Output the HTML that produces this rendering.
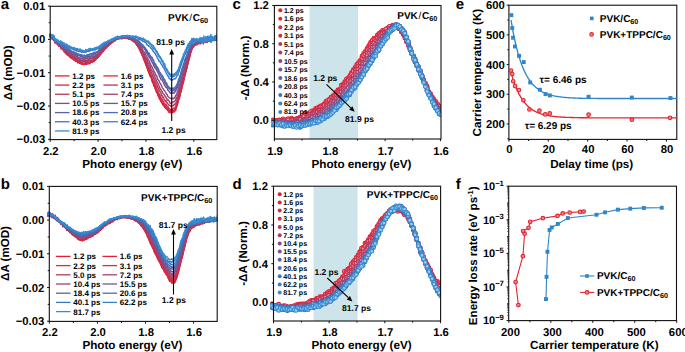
<!DOCTYPE html>
<html><head><meta charset="utf-8"><style>
html,body{margin:0;padding:0;background:#fff;}
svg{display:block;font-family:"Liberation Sans", sans-serif;text-rendering:geometricPrecision;}
</style></head><body>
<svg width="685" height="352" viewBox="0 0 685 352">
<rect width="685" height="352" fill="#fff"/>
<clipPath id="cla"><rect x="49.2" y="6.3" width="167.60000000000002" height="133.29999999999998"/></clipPath>
<g clip-path="url(#cla)" fill="none" stroke-width="1.45" stroke-linejoin="round">
<polyline points="49.2,36.7 49.8,36.0 50.5,36.1 51.1,38.0 51.7,36.7 52.4,37.6 53.0,38.2 53.6,38.7 54.3,40.4 54.9,41.8 55.5,41.5 56.1,42.4 56.8,42.7 57.4,44.8 58.0,43.9 58.7,44.2 59.3,46.0 59.9,46.4 60.6,47.0 61.2,49.0 61.8,48.3 62.5,48.4 63.1,49.6 63.7,49.6 64.4,51.2 65.0,51.8 65.6,53.0 66.2,52.9 66.9,53.5 67.5,55.3 68.1,55.2 68.8,54.8 69.4,56.5 70.0,57.0 70.7,56.6 71.3,58.0 71.9,58.1 72.6,58.2 73.2,59.3 73.8,59.6 74.5,59.9 75.1,60.4 75.7,61.4 76.4,61.2 77.0,61.0 77.6,62.7 78.2,61.9 78.9,62.5 79.5,63.2 80.1,62.2 80.8,63.1 81.4,64.3 82.0,63.9 82.7,63.9 83.3,64.4 83.9,64.0 84.6,64.4 85.2,64.0 85.8,63.5 86.5,64.4 87.1,63.8 87.7,63.9 88.4,63.4 89.0,63.8 89.6,63.3 90.2,62.9 90.9,62.2 91.5,61.7 92.1,62.5 92.8,61.9 93.4,60.8 94.0,61.6 94.7,60.5 95.3,59.8 95.9,58.7 96.6,58.4 97.2,58.2 97.8,57.5 98.5,56.8 99.1,55.2 99.7,55.3 100.3,54.5 101.0,53.4 101.6,52.8 102.2,52.1 102.9,51.7 103.5,50.5 104.1,50.0 104.8,48.5 105.4,48.1 106.0,47.7 106.7,46.7 107.3,46.5 107.9,45.2 108.6,45.1 109.2,44.1 109.8,44.4 110.5,43.1 111.1,43.5 111.7,43.2 112.3,41.9 113.0,41.8 113.6,40.9 114.2,39.5 114.9,40.6 115.5,40.1 116.1,39.4 116.8,38.9 117.4,39.0 118.0,38.7 118.7,38.1 119.3,38.1 119.9,38.7 120.6,38.1 121.2,37.9 121.8,38.3 122.4,37.6 123.1,38.0 123.7,37.1 124.3,37.4 125.0,37.4 125.6,37.7 126.2,37.5 126.9,38.5 127.5,38.3 128.1,37.8 128.8,39.2 129.4,38.1 130.0,39.6 130.7,38.7 131.3,39.8 131.9,39.5 132.6,40.2 133.2,41.5 133.8,40.7 134.4,41.1 135.1,42.5 135.7,43.3 136.3,44.1 137.0,45.3 137.6,45.3 138.2,47.1 138.9,47.9 139.5,49.4 140.1,50.7 140.8,52.4 141.4,52.7 142.0,54.9 142.7,56.0 143.3,58.0 143.9,59.9 144.6,61.3 145.2,63.0 145.8,64.4 146.4,66.2 147.1,67.9 147.7,70.0 148.3,71.4 149.0,71.9 149.6,74.6 150.2,76.4 150.9,77.4 151.5,78.5 152.1,81.5 152.8,82.5 153.4,84.3 154.0,86.4 154.7,86.8 155.3,88.8 155.9,90.3 156.5,92.2 157.2,93.1 157.8,95.0 158.4,96.2 159.1,98.0 159.7,99.4 160.3,99.5 161.0,101.6 161.6,102.3 162.2,103.6 162.9,104.8 163.5,105.7 164.1,106.1 164.8,107.4 165.4,108.1 166.0,108.8 166.7,108.9 167.3,109.8 167.9,110.5 168.5,111.6 169.2,112.6 169.8,112.0 170.4,112.4 171.1,113.1 171.7,112.7 172.3,112.4 173.0,112.1 173.6,111.8 174.2,112.0 174.9,110.5 175.5,110.8 176.1,108.2 176.8,106.5 177.4,104.2 178.0,101.5 178.6,99.5 179.3,98.6 179.9,96.5 180.5,92.8 181.2,91.0 181.8,87.9 182.4,84.8 183.1,83.5 183.7,81.2 184.3,77.5 185.0,75.1 185.6,72.7 186.2,70.0 186.9,67.8 187.5,65.4 188.1,62.2 188.8,60.1 189.4,58.2 190.0,54.9 190.6,52.9 191.3,50.6 191.9,49.4 192.5,47.9 193.2,47.2 193.8,46.5 194.4,45.4 195.1,45.4 195.7,44.5 196.3,44.2 197.0,43.2 197.6,44.5 198.2,43.3 198.9,43.5 199.5,43.3 200.1,43.7 200.8,43.0 201.4,42.2 202.0,42.3 202.6,42.0 203.3,42.0 203.9,41.2 204.5,41.6 205.2,42.4 205.8,41.6 206.4,42.0 207.1,42.5 207.7,41.1 208.3,40.1 209.0,40.5 209.6,41.0 210.2,40.7 210.9,39.6 211.5,39.9 212.1,39.9 212.7,39.8 213.4,39.6 214.0,39.2 214.6,39.2 215.3,39.3 215.9,39.8 216.5,39.1 217.2,39.6 217.8,38.7" stroke="#e41e2e"/>
<polyline points="49.2,35.1 49.8,35.4 50.5,35.8 51.1,36.8 51.7,36.3 52.4,37.6 53.0,39.7 53.6,40.0 54.3,40.4 54.9,42.0 55.5,43.1 56.1,42.6 56.8,42.6 57.4,43.6 58.0,43.3 58.7,45.8 59.3,45.7 59.9,45.4 60.6,46.5 61.2,47.6 61.8,46.2 62.5,49.0 63.1,50.0 63.7,50.4 64.4,49.2 65.0,51.6 65.6,53.4 66.2,54.0 66.9,52.7 67.5,54.2 68.1,55.4 68.8,54.8 69.4,56.3 70.0,56.8 70.7,57.1 71.3,58.4 71.9,58.6 72.6,58.6 73.2,58.8 73.8,59.4 74.5,60.6 75.1,60.4 75.7,60.2 76.4,60.7 77.0,61.4 77.6,62.1 78.2,61.7 78.9,62.6 79.5,63.2 80.1,63.3 80.8,62.5 81.4,63.4 82.0,63.2 82.7,64.1 83.3,63.6 83.9,64.4 84.6,64.2 85.2,62.9 85.8,63.6 86.5,64.0 87.1,63.7 87.7,63.3 88.4,62.7 89.0,63.2 89.6,63.6 90.2,62.7 90.9,62.3 91.5,61.9 92.1,61.0 92.8,61.1 93.4,60.5 94.0,61.0 94.7,59.6 95.3,58.6 95.9,58.7 96.6,58.3 97.2,57.8 97.8,56.3 98.5,56.9 99.1,55.8 99.7,54.7 100.3,53.8 101.0,53.6 101.6,52.5 102.2,52.0 102.9,51.0 103.5,50.4 104.1,50.1 104.8,49.0 105.4,47.9 106.0,48.1 106.7,47.1 107.3,46.0 107.9,46.1 108.6,44.9 109.2,44.8 109.8,43.2 110.5,42.1 111.1,41.7 111.7,42.3 112.3,41.4 113.0,41.3 113.6,40.9 114.2,39.8 114.9,40.7 115.5,39.3 116.1,39.5 116.8,38.5 117.4,38.8 118.0,38.9 118.7,38.3 119.3,37.9 119.9,38.1 120.6,37.8 121.2,38.1 121.8,38.8 122.4,37.2 123.1,37.2 123.7,37.4 124.3,37.4 125.0,36.9 125.6,37.6 126.2,37.8 126.9,37.6 127.5,37.2 128.1,38.6 128.8,37.6 129.4,38.7 130.0,39.2 130.7,38.4 131.3,39.4 131.9,40.4 132.6,40.4 133.2,40.2 133.8,40.6 134.4,41.9 135.1,42.2 135.7,42.7 136.3,44.2 137.0,44.6 137.6,45.7 138.2,46.9 138.9,47.9 139.5,48.8 140.1,50.1 140.8,51.8 141.4,53.2 142.0,54.0 142.7,56.0 143.3,57.2 143.9,58.6 144.6,60.4 145.2,61.2 145.8,64.3 146.4,65.2 147.1,67.3 147.7,67.9 148.3,69.6 149.0,72.9 149.6,74.1 150.2,74.9 150.9,76.5 151.5,78.1 152.1,80.1 152.8,81.4 153.4,82.9 154.0,84.8 154.7,85.9 155.3,89.0 155.9,89.2 156.5,91.5 157.2,92.1 157.8,94.0 158.4,95.7 159.1,96.4 159.7,98.4 160.3,99.6 161.0,101.2 161.6,101.6 162.2,102.5 162.9,103.2 163.5,104.7 164.1,105.0 164.8,106.4 165.4,107.2 166.0,107.7 166.7,108.2 167.3,109.5 167.9,110.0 168.5,110.6 169.2,111.1 169.8,112.1 170.4,111.6 171.1,112.4 171.7,112.0 172.3,112.4 173.0,111.6 173.6,111.3 174.2,111.3 174.9,109.6 175.5,109.3 176.1,107.1 176.8,105.6 177.4,104.3 178.0,101.9 178.6,99.3 179.3,97.4 179.9,95.1 180.5,92.7 181.2,90.8 181.8,87.4 182.4,85.7 183.1,82.0 183.7,80.0 184.3,77.5 185.0,74.7 185.6,72.0 186.2,70.2 186.9,67.8 187.5,64.9 188.1,62.7 188.8,59.8 189.4,56.4 190.0,55.4 190.6,52.3 191.3,51.2 191.9,48.6 192.5,47.6 193.2,46.6 193.8,45.6 194.4,44.5 195.1,44.8 195.7,44.4 196.3,44.8 197.0,43.7 197.6,43.9 198.2,43.2 198.9,43.4 199.5,42.4 200.1,43.8 200.8,42.9 201.4,42.0 202.0,42.4 202.6,42.4 203.3,42.0 203.9,42.4 204.5,41.5 205.2,40.2 205.8,40.6 206.4,41.6 207.1,41.3 207.7,41.0 208.3,40.2 209.0,40.9 209.6,40.7 210.2,39.8 210.9,39.8 211.5,40.1 212.1,40.3 212.7,40.4 213.4,39.9 214.0,40.6 214.6,39.1 215.3,39.6 215.9,39.2 216.5,38.4 217.2,38.7 217.8,39.7" stroke="#e2243a"/>
<polyline points="49.2,35.8 49.8,36.6 50.5,36.4 51.1,35.6 51.7,35.9 52.4,38.3 53.0,37.6 53.6,38.0 54.3,40.5 54.9,40.7 55.5,40.8 56.1,42.2 56.8,42.5 57.4,43.3 58.0,42.4 58.7,46.3 59.3,44.0 59.9,45.7 60.6,46.8 61.2,47.6 61.8,48.2 62.5,48.4 63.1,49.8 63.7,49.4 64.4,52.0 65.0,50.0 65.6,51.3 66.2,53.2 66.9,53.9 67.5,53.9 68.1,55.5 68.8,55.3 69.4,56.0 70.0,56.5 70.7,56.9 71.3,56.1 71.9,57.8 72.6,58.3 73.2,58.8 73.8,59.0 74.5,59.1 75.1,59.7 75.7,59.3 76.4,60.5 77.0,60.3 77.6,61.2 78.2,61.4 78.9,62.6 79.5,62.3 80.1,62.5 80.8,62.9 81.4,64.1 82.0,62.9 82.7,63.7 83.3,63.8 83.9,63.8 84.6,63.8 85.2,63.4 85.8,64.1 86.5,63.8 87.1,63.1 87.7,63.0 88.4,63.0 89.0,62.9 89.6,62.8 90.2,62.2 90.9,61.4 91.5,62.1 92.1,60.6 92.8,60.5 93.4,60.7 94.0,59.7 94.7,60.4 95.3,60.0 95.9,59.3 96.6,58.3 97.2,57.7 97.8,57.1 98.5,56.1 99.1,56.4 99.7,54.4 100.3,54.6 101.0,53.4 101.6,52.6 102.2,52.1 102.9,51.5 103.5,50.6 104.1,49.4 104.8,48.5 105.4,47.8 106.0,47.9 106.7,47.2 107.3,46.6 107.9,45.3 108.6,45.8 109.2,43.7 109.8,43.9 110.5,43.5 111.1,42.4 111.7,41.6 112.3,41.5 113.0,40.8 113.6,40.8 114.2,39.9 114.9,39.5 115.5,39.8 116.1,38.7 116.8,39.0 117.4,38.8 118.0,39.0 118.7,38.5 119.3,37.9 119.9,38.7 120.6,37.7 121.2,37.7 121.8,37.6 122.4,38.6 123.1,37.6 123.7,37.1 124.3,37.7 125.0,37.3 125.6,38.4 126.2,37.1 126.9,37.8 127.5,37.3 128.1,38.8 128.8,37.8 129.4,38.5 130.0,38.3 130.7,39.4 131.3,39.6 131.9,38.6 132.6,40.5 133.2,40.9 133.8,41.2 134.4,42.0 135.1,41.6 135.7,42.1 136.3,44.0 137.0,45.3 137.6,44.9 138.2,45.9 138.9,47.0 139.5,47.9 140.1,50.2 140.8,51.2 141.4,53.2 142.0,54.7 142.7,55.1 143.3,57.4 143.9,57.5 144.6,60.0 145.2,61.9 145.8,62.8 146.4,63.9 147.1,66.2 147.7,68.5 148.3,69.4 149.0,70.5 149.6,72.9 150.2,74.6 150.9,75.4 151.5,77.4 152.1,79.5 152.8,80.8 153.4,82.5 154.0,83.5 154.7,85.2 155.3,86.3 155.9,88.0 156.5,90.6 157.2,91.1 157.8,92.3 158.4,93.8 159.1,94.9 159.7,96.9 160.3,98.4 161.0,98.7 161.6,100.8 162.2,102.4 162.9,101.9 163.5,103.7 164.1,104.4 164.8,105.8 165.4,106.6 166.0,107.3 166.7,107.6 167.3,108.0 167.9,109.8 168.5,109.1 169.2,110.6 169.8,111.1 170.4,110.6 171.1,111.1 171.7,111.8 172.3,110.0 173.0,111.1 173.6,110.2 174.2,109.9 174.9,108.8 175.5,108.6 176.1,106.4 176.8,105.4 177.4,102.5 178.0,101.2 178.6,98.8 179.3,95.6 179.9,94.0 180.5,91.6 181.2,88.0 181.8,86.3 182.4,84.3 183.1,81.0 183.7,79.4 184.3,75.9 185.0,73.4 185.6,71.7 186.2,69.3 186.9,66.3 187.5,63.8 188.1,61.7 188.8,58.6 189.4,57.6 190.0,54.7 190.6,52.5 191.3,50.4 191.9,48.3 192.5,47.8 193.2,46.2 193.8,45.8 194.4,45.5 195.1,45.4 195.7,44.8 196.3,44.0 197.0,44.2 197.6,43.6 198.2,43.0 198.9,42.9 199.5,42.3 200.1,42.9 200.8,43.0 201.4,41.9 202.0,41.9 202.6,41.5 203.3,41.7 203.9,41.2 204.5,41.0 205.2,40.9 205.8,40.9 206.4,40.7 207.1,40.7 207.7,40.8 208.3,40.1 209.0,40.8 209.6,39.5 210.2,40.1 210.9,39.6 211.5,40.0 212.1,39.9 212.7,38.7 213.4,39.7 214.0,40.0 214.6,39.8 215.3,39.4 215.9,38.4 216.5,39.1 217.2,38.7 217.8,39.6" stroke="#d82a44"/>
<polyline points="49.2,35.0 49.8,36.4 50.5,36.3 51.1,37.0 51.7,35.7 52.4,36.1 53.0,38.1 53.6,39.9 54.3,39.6 54.9,42.9 55.5,41.1 56.1,42.0 56.8,42.0 57.4,41.8 58.0,43.7 58.7,44.0 59.3,44.7 59.9,45.9 60.6,45.4 61.2,46.5 61.8,48.4 62.5,46.9 63.1,47.4 63.7,48.4 64.4,49.7 65.0,51.3 65.6,52.0 66.2,50.1 66.9,52.2 67.5,54.6 68.1,53.7 68.8,54.8 69.4,55.0 70.0,55.6 70.7,56.5 71.3,57.7 71.9,57.5 72.6,58.5 73.2,58.0 73.8,58.5 74.5,59.7 75.1,59.0 75.7,59.3 76.4,60.1 77.0,59.7 77.6,59.9 78.2,61.7 78.9,60.9 79.5,61.5 80.1,61.8 80.8,61.8 81.4,62.8 82.0,63.0 82.7,63.3 83.3,63.4 83.9,63.2 84.6,63.8 85.2,63.5 85.8,62.7 86.5,62.8 87.1,62.5 87.7,63.3 88.4,62.6 89.0,62.3 89.6,61.8 90.2,61.9 90.9,60.9 91.5,61.1 92.1,60.7 92.8,60.4 93.4,59.7 94.0,59.8 94.7,58.7 95.3,58.5 95.9,58.2 96.6,57.7 97.2,56.8 97.8,55.9 98.5,55.3 99.1,54.8 99.7,53.9 100.3,53.5 101.0,52.2 101.6,52.0 102.2,52.2 102.9,49.9 103.5,49.8 104.1,49.7 104.8,48.6 105.4,48.3 106.0,46.2 106.7,46.3 107.3,46.7 107.9,45.0 108.6,44.9 109.2,43.2 109.8,44.0 110.5,44.0 111.1,42.4 111.7,42.1 112.3,41.8 113.0,42.2 113.6,40.6 114.2,39.6 114.9,40.9 115.5,39.1 116.1,39.6 116.8,37.9 117.4,38.5 118.0,38.6 118.7,37.8 119.3,37.9 119.9,38.3 120.6,37.6 121.2,38.0 121.8,38.5 122.4,36.6 123.1,37.6 123.7,37.7 124.3,37.2 125.0,38.0 125.6,37.9 126.2,37.6 126.9,37.7 127.5,37.6 128.1,37.3 128.8,38.3 129.4,38.0 130.0,38.2 130.7,39.3 131.3,39.0 131.9,40.0 132.6,39.4 133.2,40.2 133.8,40.8 134.4,42.0 135.1,41.9 135.7,43.0 136.3,43.0 137.0,44.2 137.6,45.4 138.2,45.5 138.9,46.6 139.5,48.3 140.1,48.7 140.8,50.7 141.4,52.1 142.0,53.3 142.7,55.2 143.3,56.5 143.9,57.8 144.6,58.4 145.2,59.9 145.8,62.3 146.4,62.9 147.1,65.3 147.7,66.6 148.3,67.9 149.0,69.7 149.6,70.2 150.2,72.8 150.9,75.0 151.5,75.4 152.1,77.7 152.8,79.2 153.4,81.9 154.0,81.6 154.7,83.2 155.3,84.7 155.9,86.2 156.5,87.3 157.2,89.5 157.8,90.5 158.4,92.6 159.1,93.7 159.7,94.4 160.3,95.9 161.0,98.0 161.6,98.3 162.2,99.7 162.9,101.0 163.5,101.3 164.1,102.7 164.8,104.1 165.4,104.7 166.0,104.2 166.7,106.4 167.3,106.3 167.9,106.8 168.5,107.4 169.2,108.9 169.8,109.1 170.4,109.2 171.1,109.1 171.7,109.7 172.3,109.8 173.0,108.6 173.6,108.2 174.2,108.2 174.9,108.1 175.5,106.6 176.1,105.3 176.8,103.2 177.4,102.1 178.0,99.4 178.6,97.3 179.3,95.7 179.9,92.8 180.5,90.4 181.2,88.0 181.8,85.0 182.4,83.4 183.1,80.3 183.7,77.6 184.3,75.2 185.0,72.4 185.6,71.1 186.2,68.8 186.9,65.4 187.5,62.8 188.1,59.6 188.8,57.9 189.4,56.5 190.0,53.5 190.6,52.2 191.3,50.5 191.9,47.0 192.5,46.6 193.2,45.9 193.8,45.3 194.4,44.1 195.1,44.6 195.7,43.4 196.3,44.3 197.0,44.5 197.6,42.8 198.2,42.7 198.9,43.0 199.5,42.8 200.1,42.7 200.8,42.6 201.4,41.6 202.0,41.6 202.6,41.6 203.3,41.4 203.9,41.1 204.5,41.2 205.2,41.0 205.8,41.5 206.4,40.6 207.1,39.5 207.7,40.7 208.3,40.6 209.0,40.0 209.6,39.8 210.2,39.8 210.9,40.6 211.5,39.5 212.1,40.4 212.7,40.1 213.4,39.1 214.0,39.5 214.6,39.0 215.3,37.7 215.9,38.9 216.5,38.9 217.2,39.7 217.8,39.7" stroke="#c8304e"/>
<polyline points="49.2,35.2 49.8,34.0 50.5,35.8 51.1,36.8 51.7,38.9 52.4,37.1 53.0,39.0 53.6,38.4 54.3,39.3 54.9,42.4 55.5,39.9 56.1,40.7 56.8,41.7 57.4,44.3 58.0,43.2 58.7,44.8 59.3,45.5 59.9,46.5 60.6,45.4 61.2,45.7 61.8,46.1 62.5,47.8 63.1,47.8 63.7,49.1 64.4,52.1 65.0,50.8 65.6,51.8 66.2,50.8 66.9,52.1 67.5,53.0 68.1,53.5 68.8,53.7 69.4,55.0 70.0,55.1 70.7,54.7 71.3,55.3 71.9,56.4 72.6,56.1 73.2,57.2 73.8,56.8 74.5,57.7 75.1,58.5 75.7,58.3 76.4,59.4 77.0,59.8 77.6,60.3 78.2,59.8 78.9,60.2 79.5,60.5 80.1,61.0 80.8,60.4 81.4,61.5 82.0,61.9 82.7,61.1 83.3,61.2 83.9,61.7 84.6,62.7 85.2,62.1 85.8,61.5 86.5,61.6 87.1,60.7 87.7,61.9 88.4,60.7 89.0,61.1 89.6,60.0 90.2,60.4 90.9,59.7 91.5,60.2 92.1,60.2 92.8,59.8 93.4,59.2 94.0,59.0 94.7,57.6 95.3,57.1 95.9,57.1 96.6,57.2 97.2,56.2 97.8,55.8 98.5,54.2 99.1,54.0 99.7,53.2 100.3,52.9 101.0,53.0 101.6,51.7 102.2,51.1 102.9,49.7 103.5,49.2 104.1,48.9 104.8,48.1 105.4,46.6 106.0,47.2 106.7,46.5 107.3,45.6 107.9,45.2 108.6,44.5 109.2,43.5 109.8,42.4 110.5,43.5 111.1,42.2 111.7,41.7 112.3,41.4 113.0,41.0 113.6,40.7 114.2,39.7 114.9,40.0 115.5,39.5 116.1,39.2 116.8,38.8 117.4,38.7 118.0,37.9 118.7,38.2 119.3,38.0 119.9,38.0 120.6,38.3 121.2,38.1 121.8,38.0 122.4,37.4 123.1,37.7 123.7,37.8 124.3,37.1 125.0,36.9 125.6,38.0 126.2,36.4 126.9,37.3 127.5,37.5 128.1,37.2 128.8,37.8 129.4,38.4 130.0,37.3 130.7,39.1 131.3,38.9 131.9,38.8 132.6,40.1 133.2,40.0 133.8,40.3 134.4,39.8 135.1,41.9 135.7,42.1 136.3,42.5 137.0,43.5 137.6,44.9 138.2,45.0 138.9,46.0 139.5,46.8 140.1,47.6 140.8,48.9 141.4,50.4 142.0,51.8 142.7,53.8 143.3,54.7 143.9,55.8 144.6,57.4 145.2,58.6 145.8,60.4 146.4,60.7 147.1,61.9 147.7,64.5 148.3,65.5 149.0,67.2 149.6,68.0 150.2,69.8 150.9,71.4 151.5,73.0 152.1,74.3 152.8,76.3 153.4,77.0 154.0,79.1 154.7,79.9 155.3,81.6 155.9,82.6 156.5,84.5 157.2,85.4 157.8,87.6 158.4,88.2 159.1,89.9 159.7,91.0 160.3,92.3 161.0,93.1 161.6,95.6 162.2,95.6 162.9,97.5 163.5,97.2 164.1,99.6 164.8,100.1 165.4,101.3 166.0,100.6 166.7,102.7 167.3,102.8 167.9,103.8 168.5,105.1 169.2,105.1 169.8,105.2 170.4,106.0 171.1,105.7 171.7,106.3 172.3,106.0 173.0,105.9 173.6,105.3 174.2,104.2 174.9,104.5 175.5,103.6 176.1,102.5 176.8,100.9 177.4,97.9 178.0,97.1 178.6,94.9 179.3,92.4 179.9,90.3 180.5,86.8 181.2,86.4 181.8,82.6 182.4,79.9 183.1,78.4 183.7,75.8 184.3,73.0 185.0,70.1 185.6,69.0 186.2,66.9 186.9,63.4 187.5,60.7 188.1,59.2 188.8,57.8 189.4,54.1 190.0,52.9 190.6,50.3 191.3,49.0 191.9,47.9 192.5,46.7 193.2,44.7 193.8,43.8 194.4,45.0 195.1,43.8 195.7,42.8 196.3,43.6 197.0,43.6 197.6,43.1 198.2,43.0 198.9,43.1 199.5,42.5 200.1,42.8 200.8,42.2 201.4,42.2 202.0,41.8 202.6,42.0 203.3,41.2 203.9,41.1 204.5,41.1 205.2,40.7 205.8,40.8 206.4,40.5 207.1,40.2 207.7,40.9 208.3,39.5 209.0,39.5 209.6,40.4 210.2,40.0 210.9,39.7 211.5,39.8 212.1,39.7 212.7,40.4 213.4,39.7 214.0,39.6 214.6,38.7 215.3,38.6 215.9,40.3 216.5,39.1 217.2,39.2 217.8,39.0" stroke="#b6385c"/>
<polyline points="49.2,36.4 49.8,36.3 50.5,36.4 51.1,36.0 51.7,35.6 52.4,35.3 53.0,37.3 53.6,39.6 54.3,38.5 54.9,40.3 55.5,41.0 56.1,41.7 56.8,40.3 57.4,42.6 58.0,42.9 58.7,45.3 59.3,44.5 59.9,45.3 60.6,45.3 61.2,45.5 61.8,47.3 62.5,46.3 63.1,48.3 63.7,48.5 64.4,49.0 65.0,50.8 65.6,48.8 66.2,50.8 66.9,51.8 67.5,50.4 68.1,53.0 68.8,52.7 69.4,52.6 70.0,53.5 70.7,54.1 71.3,54.5 71.9,55.2 72.6,55.2 73.2,56.1 73.8,56.6 74.5,56.8 75.1,56.8 75.7,57.4 76.4,57.6 77.0,59.1 77.6,57.9 78.2,57.7 78.9,58.4 79.5,59.4 80.1,60.0 80.8,59.7 81.4,60.5 82.0,60.0 82.7,60.7 83.3,60.2 83.9,60.0 84.6,61.6 85.2,60.5 85.8,60.8 86.5,61.0 87.1,60.5 87.7,60.1 88.4,59.3 89.0,60.3 89.6,58.9 90.2,58.2 90.9,58.7 91.5,58.4 92.1,58.4 92.8,58.6 93.4,57.5 94.0,57.3 94.7,56.7 95.3,55.5 95.9,55.9 96.6,55.5 97.2,54.5 97.8,55.2 98.5,54.5 99.1,53.5 99.7,52.9 100.3,51.6 101.0,51.4 101.6,49.8 102.2,49.2 102.9,48.9 103.5,48.7 104.1,47.7 104.8,47.0 105.4,47.3 106.0,46.0 106.7,45.3 107.3,44.9 107.9,43.7 108.6,43.4 109.2,43.8 109.8,42.8 110.5,42.8 111.1,41.6 111.7,41.9 112.3,40.7 113.0,40.6 113.6,39.9 114.2,40.1 114.9,40.3 115.5,38.5 116.1,39.1 116.8,38.1 117.4,38.3 118.0,38.0 118.7,37.2 119.3,37.8 119.9,37.2 120.6,38.4 121.2,37.1 121.8,37.6 122.4,37.4 123.1,37.2 123.7,37.0 124.3,36.3 125.0,37.9 125.6,37.0 126.2,37.4 126.9,36.6 127.5,37.5 128.1,37.3 128.8,37.9 129.4,37.6 130.0,37.6 130.7,38.5 131.3,38.6 131.9,39.6 132.6,39.1 133.2,39.2 133.8,40.3 134.4,39.9 135.1,41.9 135.7,42.4 136.3,42.8 137.0,43.0 137.6,43.5 138.2,44.3 138.9,45.1 139.5,45.7 140.1,47.2 140.8,48.7 141.4,49.8 142.0,49.5 142.7,52.8 143.3,52.9 143.9,53.4 144.6,55.0 145.2,56.9 145.8,57.8 146.4,58.7 147.1,59.9 147.7,62.2 148.3,62.7 149.0,64.3 149.6,65.2 150.2,66.4 150.9,68.6 151.5,70.5 152.1,71.0 152.8,71.7 153.4,73.6 154.0,75.2 154.7,75.5 155.3,78.5 155.9,79.0 156.5,81.1 157.2,82.1 157.8,83.4 158.4,84.0 159.1,86.4 159.7,87.4 160.3,89.2 161.0,89.4 161.6,91.0 162.2,91.6 162.9,93.4 163.5,94.0 164.1,94.4 164.8,95.9 165.4,96.4 166.0,97.3 166.7,98.6 167.3,100.0 167.9,99.5 168.5,100.6 169.2,100.9 169.8,102.9 170.4,103.2 171.1,103.7 171.7,103.1 172.3,102.0 173.0,102.1 173.6,102.1 174.2,101.7 174.9,100.9 175.5,100.5 176.1,98.8 176.8,97.3 177.4,96.5 178.0,93.8 178.6,90.9 179.3,89.7 179.9,87.4 180.5,85.3 181.2,82.8 181.8,79.6 182.4,77.9 183.1,75.9 183.7,74.6 184.3,71.2 185.0,69.6 185.6,67.4 186.2,63.9 186.9,61.7 187.5,60.6 188.1,57.1 188.8,55.2 189.4,53.8 190.0,51.2 190.6,50.5 191.3,48.6 191.9,47.6 192.5,46.5 193.2,45.4 193.8,44.6 194.4,44.6 195.1,43.1 195.7,43.1 196.3,43.1 197.0,43.2 197.6,42.4 198.2,43.3 198.9,42.7 199.5,43.1 200.1,42.1 200.8,41.3 201.4,41.1 202.0,41.7 202.6,41.2 203.3,40.2 203.9,41.3 204.5,40.6 205.2,41.4 205.8,40.8 206.4,40.5 207.1,41.6 207.7,40.7 208.3,39.2 209.0,39.6 209.6,41.0 210.2,39.7 210.9,40.5 211.5,39.4 212.1,39.4 212.7,39.4 213.4,39.9 214.0,39.7 214.6,38.4 215.3,39.6 215.9,38.6 216.5,40.2 217.2,40.0 217.8,39.2" stroke="#a4406c"/>
<polyline points="49.2,36.1 49.8,36.5 50.5,34.5 51.1,35.4 51.7,37.0 52.4,36.7 53.0,37.6 53.6,38.8 54.3,38.5 54.9,41.5 55.5,41.9 56.1,41.3 56.8,41.9 57.4,42.7 58.0,42.0 58.7,42.7 59.3,44.3 59.9,44.9 60.6,46.6 61.2,45.2 61.8,45.6 62.5,47.1 63.1,45.4 63.7,47.3 64.4,46.6 65.0,48.6 65.6,49.8 66.2,50.1 66.9,51.1 67.5,51.2 68.1,51.4 68.8,51.2 69.4,52.4 70.0,54.5 70.7,53.9 71.3,53.7 71.9,53.8 72.6,54.7 73.2,54.3 73.8,54.6 74.5,55.8 75.1,55.2 75.7,55.4 76.4,56.3 77.0,57.3 77.6,56.4 78.2,57.5 78.9,57.8 79.5,57.8 80.1,58.4 80.8,57.9 81.4,58.3 82.0,58.3 82.7,58.7 83.3,59.5 83.9,59.3 84.6,58.8 85.2,59.3 85.8,57.7 86.5,59.0 87.1,59.0 87.7,58.0 88.4,58.0 89.0,58.1 89.6,58.0 90.2,57.5 90.9,57.1 91.5,56.9 92.1,57.2 92.8,56.5 93.4,56.1 94.0,55.8 94.7,57.2 95.3,55.9 95.9,55.4 96.6,54.7 97.2,54.0 97.8,53.1 98.5,52.6 99.1,52.3 99.7,51.6 100.3,50.2 101.0,50.6 101.6,49.6 102.2,48.3 102.9,48.3 103.5,48.8 104.1,47.0 104.8,46.9 105.4,46.2 106.0,45.1 106.7,44.8 107.3,44.6 107.9,43.6 108.6,43.3 109.2,42.9 109.8,42.3 110.5,41.9 111.1,41.8 111.7,41.4 112.3,40.8 113.0,40.9 113.6,40.7 114.2,39.2 114.9,39.6 115.5,39.1 116.1,38.9 116.8,38.6 117.4,38.3 118.0,38.1 118.7,38.3 119.3,37.4 119.9,38.0 120.6,37.1 121.2,38.3 121.8,37.8 122.4,36.7 123.1,37.2 123.7,37.3 124.3,36.8 125.0,37.4 125.6,36.9 126.2,38.0 126.9,37.2 127.5,37.4 128.1,37.0 128.8,37.0 129.4,38.0 130.0,37.1 130.7,38.3 131.3,39.2 131.9,39.7 132.6,38.1 133.2,39.2 133.8,39.8 134.4,40.3 135.1,40.9 135.7,40.2 136.3,41.4 137.0,41.2 137.6,42.7 138.2,44.4 138.9,43.6 139.5,45.0 140.1,45.8 140.8,45.9 141.4,47.8 142.0,48.2 142.7,49.8 143.3,51.2 143.9,51.6 144.6,53.2 145.2,53.5 145.8,54.8 146.4,56.3 147.1,57.3 147.7,58.5 148.3,60.0 149.0,60.7 149.6,62.4 150.2,63.3 150.9,65.3 151.5,66.0 152.1,67.1 152.8,69.0 153.4,70.1 154.0,71.4 154.7,72.2 155.3,74.1 155.9,74.9 156.5,75.7 157.2,77.5 157.8,79.7 158.4,80.1 159.1,80.9 159.7,82.7 160.3,83.3 161.0,84.7 161.6,85.9 162.2,87.3 162.9,88.5 163.5,89.4 164.1,90.3 164.8,91.0 165.4,92.0 166.0,93.3 166.7,94.0 167.3,94.8 167.9,96.5 168.5,96.9 169.2,97.6 169.8,97.9 170.4,98.4 171.1,98.7 171.7,99.0 172.3,98.2 173.0,98.2 173.6,98.8 174.2,97.8 174.9,97.9 175.5,95.7 176.1,95.4 176.8,93.8 177.4,91.9 178.0,90.2 178.6,88.1 179.3,85.4 179.9,83.9 180.5,81.4 181.2,78.9 181.8,77.6 182.4,74.0 183.1,72.3 183.7,70.0 184.3,68.7 185.0,65.8 185.6,63.9 186.2,62.3 186.9,58.8 187.5,57.4 188.1,55.7 188.8,53.6 189.4,51.5 190.0,49.6 190.6,48.2 191.3,46.4 191.9,45.0 192.5,45.5 193.2,45.3 193.8,44.4 194.4,42.9 195.1,43.0 195.7,42.9 196.3,42.1 197.0,41.7 197.6,42.6 198.2,43.1 198.9,41.8 199.5,42.3 200.1,42.6 200.8,41.3 201.4,40.8 202.0,42.3 202.6,42.7 203.3,41.9 203.9,40.5 204.5,40.6 205.2,41.5 205.8,40.1 206.4,39.1 207.1,39.7 207.7,40.6 208.3,40.1 209.0,38.4 209.6,39.8 210.2,38.7 210.9,38.8 211.5,39.9 212.1,40.0 212.7,39.1 213.4,39.7 214.0,39.7 214.6,38.7 215.3,38.3 215.9,38.6 216.5,39.9 217.2,38.8 217.8,39.8" stroke="#8c4a82"/>
<polyline points="49.2,34.0 49.8,36.1 50.5,34.6 51.1,35.7 51.7,35.8 52.4,36.5 53.0,37.1 53.6,37.0 54.3,39.5 54.9,40.3 55.5,40.3 56.1,41.1 56.8,42.3 57.4,43.0 58.0,43.9 58.7,42.8 59.3,44.0 59.9,43.6 60.6,44.7 61.2,44.2 61.8,45.4 62.5,47.7 63.1,46.5 63.7,48.5 64.4,48.4 65.0,48.7 65.6,48.8 66.2,49.7 66.9,49.1 67.5,49.8 68.1,51.2 68.8,51.7 69.4,51.3 70.0,51.6 70.7,52.6 71.3,52.1 71.9,51.8 72.6,52.8 73.2,53.0 73.8,54.0 74.5,53.2 75.1,54.5 75.7,54.1 76.4,54.7 77.0,55.4 77.6,54.8 78.2,55.5 78.9,55.6 79.5,55.7 80.1,56.2 80.8,56.6 81.4,56.4 82.0,57.0 82.7,57.0 83.3,57.5 83.9,57.9 84.6,57.5 85.2,57.4 85.8,57.0 86.5,56.3 87.1,57.5 87.7,56.4 88.4,57.3 89.0,56.6 89.6,56.1 90.2,56.8 90.9,56.4 91.5,55.3 92.1,55.1 92.8,54.9 93.4,55.0 94.0,53.4 94.7,54.1 95.3,54.2 95.9,52.6 96.6,52.7 97.2,52.7 97.8,51.4 98.5,51.4 99.1,50.6 99.7,50.2 100.3,50.2 101.0,48.7 101.6,48.4 102.2,48.4 102.9,47.7 103.5,46.3 104.1,46.4 104.8,45.7 105.4,45.0 106.0,44.7 106.7,45.0 107.3,43.5 107.9,42.9 108.6,42.5 109.2,41.7 109.8,41.8 110.5,41.2 111.1,40.4 111.7,40.9 112.3,39.7 113.0,39.3 113.6,39.4 114.2,38.6 114.9,38.8 115.5,39.3 116.1,38.1 116.8,38.2 117.4,37.9 118.0,37.9 118.7,37.1 119.3,37.4 119.9,37.8 120.6,37.1 121.2,36.9 121.8,37.5 122.4,37.2 123.1,37.1 123.7,37.1 124.3,36.6 125.0,36.3 125.6,35.8 126.2,36.2 126.9,36.3 127.5,36.4 128.1,36.4 128.8,37.3 129.4,37.0 130.0,37.3 130.7,37.7 131.3,38.1 131.9,38.3 132.6,38.4 133.2,39.2 133.8,38.6 134.4,39.2 135.1,39.5 135.7,39.8 136.3,40.0 137.0,41.1 137.6,41.4 138.2,42.7 138.9,43.5 139.5,44.1 140.1,43.1 140.8,45.5 141.4,45.2 142.0,45.6 142.7,47.4 143.3,47.3 143.9,48.0 144.6,49.3 145.2,49.6 145.8,51.4 146.4,53.0 147.1,53.4 147.7,54.8 148.3,56.2 149.0,57.2 149.6,56.6 150.2,59.0 150.9,59.9 151.5,61.3 152.1,62.1 152.8,63.4 153.4,64.6 154.0,66.2 154.7,67.5 155.3,68.4 155.9,69.1 156.5,69.5 157.2,71.1 157.8,72.0 158.4,73.7 159.1,75.2 159.7,76.9 160.3,77.5 161.0,79.7 161.6,79.9 162.2,80.1 162.9,81.8 163.5,82.5 164.1,84.2 164.8,85.7 165.4,86.3 166.0,87.3 166.7,87.6 167.3,88.2 167.9,90.3 168.5,90.9 169.2,91.5 169.8,92.3 170.4,93.3 171.1,92.9 171.7,92.9 172.3,92.8 173.0,93.3 173.6,92.6 174.2,93.1 174.9,91.5 175.5,91.6 176.1,90.1 176.8,88.8 177.4,87.2 178.0,85.8 178.6,84.3 179.3,80.7 179.9,79.4 180.5,77.2 181.2,74.2 181.8,73.0 182.4,70.5 183.1,68.7 183.7,66.1 184.3,64.4 185.0,62.6 185.6,61.0 186.2,58.8 186.9,56.4 187.5,56.0 188.1,53.1 188.8,51.5 189.4,49.9 190.0,49.2 190.6,46.5 191.3,45.9 191.9,44.3 192.5,44.2 193.2,42.4 193.8,43.0 194.4,44.2 195.1,43.4 195.7,42.8 196.3,41.7 197.0,41.6 197.6,40.8 198.2,40.3 198.9,41.0 199.5,41.5 200.1,41.4 200.8,40.9 201.4,40.2 202.0,40.3 202.6,41.3 203.3,41.0 203.9,40.9 204.5,40.2 205.2,42.2 205.8,40.5 206.4,38.9 207.1,40.1 207.7,40.1 208.3,39.7 209.0,38.3 209.6,39.2 210.2,37.4 210.9,38.2 211.5,40.8 212.1,36.7 212.7,40.0 213.4,40.0 214.0,40.0 214.6,38.2 215.3,39.2 215.9,38.4 216.5,38.3 217.2,37.3 217.8,39.4" stroke="#745492"/>
<polyline points="49.2,35.9 49.8,35.3 50.5,35.9 51.1,35.9 51.7,36.1 52.4,37.4 53.0,36.4 53.6,38.1 54.3,38.6 54.9,38.7 55.5,40.5 56.1,41.3 56.8,41.1 57.4,41.3 58.0,42.1 58.7,43.1 59.3,41.7 59.9,42.9 60.6,43.4 61.2,45.4 61.8,45.6 62.5,45.6 63.1,46.0 63.7,46.6 64.4,47.1 65.0,47.2 65.6,46.9 66.2,49.0 66.9,47.7 67.5,49.1 68.1,50.6 68.8,49.5 69.4,50.7 70.0,51.1 70.7,51.0 71.3,51.5 71.9,51.9 72.6,52.1 73.2,52.4 73.8,53.2 74.5,53.4 75.1,53.2 75.7,53.1 76.4,53.3 77.0,54.6 77.6,53.9 78.2,54.3 78.9,54.9 79.5,54.9 80.1,54.9 80.8,54.7 81.4,56.3 82.0,55.7 82.7,56.2 83.3,56.3 83.9,55.8 84.6,55.9 85.2,56.7 85.8,56.3 86.5,55.9 87.1,56.4 87.7,55.2 88.4,55.4 89.0,55.1 89.6,54.9 90.2,54.0 90.9,54.6 91.5,54.6 92.1,53.5 92.8,54.3 93.4,54.1 94.0,54.2 94.7,52.8 95.3,52.9 95.9,52.4 96.6,52.2 97.2,51.9 97.8,51.7 98.5,51.2 99.1,50.1 99.7,49.7 100.3,48.4 101.0,48.9 101.6,48.2 102.2,47.9 102.9,46.2 103.5,46.9 104.1,45.5 104.8,44.7 105.4,44.9 106.0,44.1 106.7,44.9 107.3,43.7 107.9,43.8 108.6,42.5 109.2,42.2 109.8,42.1 110.5,40.9 111.1,40.8 111.7,40.9 112.3,40.5 113.0,40.7 113.6,39.8 114.2,38.4 114.9,39.4 115.5,38.6 116.1,38.8 116.8,37.9 117.4,37.8 118.0,38.0 118.7,38.5 119.3,37.8 119.9,36.9 120.6,37.4 121.2,36.9 121.8,37.3 122.4,37.8 123.1,36.6 123.7,36.6 124.3,37.0 125.0,36.8 125.6,36.5 126.2,36.9 126.9,36.5 127.5,36.9 128.1,38.0 128.8,37.1 129.4,37.4 130.0,37.7 130.7,37.3 131.3,37.9 131.9,37.6 132.6,37.6 133.2,38.3 133.8,39.3 134.4,39.2 135.1,38.8 135.7,39.7 136.3,40.3 137.0,40.4 137.6,40.6 138.2,41.2 138.9,41.5 139.5,42.8 140.1,43.2 140.8,43.9 141.4,44.5 142.0,46.2 142.7,46.1 143.3,47.4 143.9,46.9 144.6,47.6 145.2,48.4 145.8,49.7 146.4,51.2 147.1,51.4 147.7,52.9 148.3,53.4 149.0,55.1 149.6,55.9 150.2,56.4 150.9,56.9 151.5,58.7 152.1,58.7 152.8,59.6 153.4,62.6 154.0,63.1 154.7,64.7 155.3,65.5 155.9,66.8 156.5,67.8 157.2,68.5 157.8,69.6 158.4,71.1 159.1,72.3 159.7,73.4 160.3,74.6 161.0,75.5 161.6,76.9 162.2,77.8 162.9,79.7 163.5,79.8 164.1,80.4 164.8,82.2 165.4,84.0 166.0,83.8 166.7,85.6 167.3,87.8 167.9,87.5 168.5,87.9 169.2,88.7 169.8,89.0 170.4,89.9 171.1,90.4 171.7,91.4 172.3,91.0 173.0,90.2 173.6,89.8 174.2,90.4 174.9,89.8 175.5,88.5 176.1,88.5 176.8,87.2 177.4,84.9 178.0,83.0 178.6,81.6 179.3,80.5 179.9,77.4 180.5,76.0 181.2,73.0 181.8,71.1 182.4,68.8 183.1,66.6 183.7,65.2 184.3,62.7 185.0,60.6 185.6,59.2 186.2,56.9 186.9,56.0 187.5,53.3 188.1,51.8 188.8,50.8 189.4,48.9 190.0,47.7 190.6,46.3 191.3,44.8 191.9,43.3 192.5,43.3 193.2,43.5 193.8,43.7 194.4,41.6 195.1,41.1 195.7,43.1 196.3,41.2 197.0,40.6 197.6,42.3 198.2,41.0 198.9,43.0 199.5,40.8 200.1,41.4 200.8,42.2 201.4,40.1 202.0,39.1 202.6,40.8 203.3,42.0 203.9,39.8 204.5,40.4 205.2,38.6 205.8,41.2 206.4,41.5 207.1,39.9 207.7,38.7 208.3,39.6 209.0,38.2 209.6,40.7 210.2,40.1 210.9,38.4 211.5,39.4 212.1,39.0 212.7,40.2 213.4,40.0 214.0,38.2 214.6,36.2 215.3,36.3 215.9,38.1 216.5,36.7 217.2,39.9 217.8,38.9" stroke="#5c60a4"/>
<polyline points="49.2,36.4 49.8,35.7 50.5,35.2 51.1,35.9 51.7,35.7 52.4,36.1 53.0,36.6 53.6,36.3 54.3,37.8 54.9,39.4 55.5,42.0 56.1,41.1 56.8,42.4 57.4,41.9 58.0,42.8 58.7,43.4 59.3,43.6 59.9,43.9 60.6,44.4 61.2,46.4 61.8,44.0 62.5,45.2 63.1,45.7 63.7,45.9 64.4,48.0 65.0,48.4 65.6,46.5 66.2,46.6 66.9,48.7 67.5,49.3 68.1,49.7 68.8,48.2 69.4,49.7 70.0,49.8 70.7,50.7 71.3,50.9 71.9,51.2 72.6,51.9 73.2,51.5 73.8,52.0 74.5,52.1 75.1,53.0 75.7,52.7 76.4,53.9 77.0,53.5 77.6,55.1 78.2,54.6 78.9,54.0 79.5,54.7 80.1,54.7 80.8,55.7 81.4,54.5 82.0,55.1 82.7,55.6 83.3,55.5 83.9,55.6 84.6,55.1 85.2,55.6 85.8,56.2 86.5,55.5 87.1,54.6 87.7,54.8 88.4,55.0 89.0,54.3 89.6,54.4 90.2,54.0 90.9,54.8 91.5,54.3 92.1,53.4 92.8,53.6 93.4,53.1 94.0,52.2 94.7,53.0 95.3,52.4 95.9,52.4 96.6,52.1 97.2,51.4 97.8,51.6 98.5,51.4 99.1,49.3 99.7,49.4 100.3,48.3 101.0,48.2 101.6,47.6 102.2,46.8 102.9,46.2 103.5,46.6 104.1,45.0 104.8,45.5 105.4,44.6 106.0,43.0 106.7,43.7 107.3,42.5 107.9,43.0 108.6,42.2 109.2,42.0 109.8,41.4 110.5,41.6 111.1,41.3 111.7,40.4 112.3,40.9 113.0,40.3 113.6,39.3 114.2,39.6 114.9,39.4 115.5,39.2 116.1,38.4 116.8,38.4 117.4,37.9 118.0,37.9 118.7,36.8 119.3,37.7 119.9,38.3 120.6,37.2 121.2,37.1 121.8,36.9 122.4,37.6 123.1,36.3 123.7,36.8 124.3,36.7 125.0,37.3 125.6,36.4 126.2,36.6 126.9,36.1 127.5,36.9 128.1,37.4 128.8,36.9 129.4,37.5 130.0,37.0 130.7,37.9 131.3,37.6 131.9,37.9 132.6,38.0 133.2,38.4 133.8,38.8 134.4,38.7 135.1,39.2 135.7,39.2 136.3,39.8 137.0,41.1 137.6,40.5 138.2,40.3 138.9,41.3 139.5,41.7 140.1,42.3 140.8,43.4 141.4,44.4 142.0,44.2 142.7,44.8 143.3,45.7 143.9,46.5 144.6,47.2 145.2,48.2 145.8,48.9 146.4,49.8 147.1,50.5 147.7,52.0 148.3,52.7 149.0,53.1 149.6,54.4 150.2,56.3 150.9,56.2 151.5,58.2 152.1,57.4 152.8,59.0 153.4,60.0 154.0,61.7 154.7,63.1 155.3,63.8 155.9,64.8 156.5,66.3 157.2,67.0 157.8,67.9 158.4,69.1 159.1,70.9 159.7,72.6 160.3,72.8 161.0,74.2 161.6,74.8 162.2,75.4 162.9,76.5 163.5,78.2 164.1,78.9 164.8,79.7 165.4,81.5 166.0,82.5 166.7,83.3 167.3,84.7 167.9,85.9 168.5,86.8 169.2,87.2 169.8,88.2 170.4,88.1 171.1,89.0 171.7,88.2 172.3,88.3 173.0,89.2 173.6,88.0 174.2,88.5 174.9,87.3 175.5,86.9 176.1,86.1 176.8,84.5 177.4,83.5 178.0,81.6 178.6,79.8 179.3,78.1 179.9,75.9 180.5,74.5 181.2,71.7 181.8,70.4 182.4,67.5 183.1,65.5 183.7,63.5 184.3,62.2 185.0,58.8 185.6,58.5 186.2,56.6 186.9,55.2 187.5,52.3 188.1,51.4 188.8,49.2 189.4,48.6 190.0,46.7 190.6,45.7 191.3,44.1 191.9,45.2 192.5,42.6 193.2,42.1 193.8,43.1 194.4,43.1 195.1,40.3 195.7,40.6 196.3,41.4 197.0,40.9 197.6,39.9 198.2,41.5 198.9,40.9 199.5,42.2 200.1,40.9 200.8,40.3 201.4,40.5 202.0,41.1 202.6,42.0 203.3,41.8 203.9,41.3 204.5,39.2 205.2,40.2 205.8,40.5 206.4,38.6 207.1,39.3 207.7,40.5 208.3,40.3 209.0,38.0 209.6,39.9 210.2,39.9 210.9,38.8 211.5,39.1 212.1,37.0 212.7,39.2 213.4,37.7 214.0,38.8 214.6,39.4 215.3,37.9 215.9,37.8 216.5,39.7 217.2,37.0 217.8,39.3" stroke="#4a6cb4"/>
<polyline points="49.2,34.0 49.8,35.1 50.5,34.3 51.1,35.2 51.7,36.4 52.4,35.5 53.0,36.9 53.6,37.7 54.3,35.9 54.9,40.9 55.5,39.2 56.1,41.1 56.8,40.4 57.4,41.8 58.0,41.0 58.7,41.7 59.3,42.8 59.9,42.7 60.6,43.9 61.2,43.6 61.8,45.6 62.5,43.2 63.1,45.2 63.7,44.6 64.4,45.3 65.0,44.6 65.6,44.7 66.2,46.2 66.9,47.0 67.5,46.7 68.1,49.3 68.8,47.4 69.4,47.8 70.0,47.6 70.7,48.0 71.3,48.8 71.9,48.8 72.6,49.0 73.2,49.5 73.8,49.5 74.5,50.1 75.1,50.3 75.7,50.2 76.4,50.9 77.0,50.4 77.6,50.9 78.2,51.4 78.9,51.4 79.5,51.6 80.1,51.6 80.8,51.7 81.4,52.0 82.0,52.5 82.7,51.6 83.3,52.0 83.9,52.4 84.6,52.0 85.2,52.2 85.8,52.3 86.5,52.0 87.1,50.7 87.7,51.2 88.4,51.0 89.0,51.5 89.6,50.8 90.2,50.0 90.9,50.7 91.5,50.2 92.1,50.0 92.8,50.2 93.4,49.6 94.0,50.0 94.7,49.7 95.3,50.0 95.9,48.3 96.6,49.0 97.2,48.8 97.8,47.8 98.5,48.2 99.1,47.6 99.7,47.5 100.3,46.6 101.0,46.3 101.6,45.4 102.2,45.3 102.9,45.0 103.5,44.5 104.1,44.0 104.8,43.8 105.4,42.7 106.0,42.5 106.7,42.4 107.3,42.6 107.9,41.5 108.6,42.0 109.2,41.0 109.8,40.7 110.5,40.7 111.1,40.5 111.7,40.1 112.3,38.6 113.0,39.4 113.6,39.1 114.2,38.3 114.9,38.3 115.5,37.8 116.1,38.6 116.8,38.3 117.4,36.1 118.0,37.4 118.7,37.4 119.3,37.1 119.9,36.6 120.6,37.4 121.2,36.6 121.8,36.7 122.4,36.2 123.1,36.4 123.7,36.6 124.3,36.7 125.0,37.4 125.6,35.8 126.2,36.9 126.9,36.4 127.5,35.6 128.1,36.5 128.8,36.1 129.4,36.6 130.0,36.3 130.7,36.7 131.3,37.0 131.9,36.3 132.6,37.1 133.2,37.7 133.8,37.4 134.4,37.2 135.1,38.1 135.7,37.4 136.3,37.6 137.0,37.2 137.6,38.7 138.2,38.4 138.9,39.7 139.5,39.4 140.1,39.5 140.8,39.7 141.4,40.2 142.0,40.6 142.7,41.2 143.3,41.6 143.9,41.6 144.6,41.9 145.2,42.4 145.8,42.7 146.4,43.2 147.1,45.0 147.7,45.0 148.3,45.5 149.0,46.3 149.6,46.2 150.2,47.1 150.9,48.2 151.5,48.9 152.1,49.2 152.8,50.7 153.4,51.6 154.0,51.9 154.7,53.1 155.3,53.6 155.9,55.1 156.5,55.9 157.2,57.5 157.8,58.6 158.4,59.3 159.1,61.5 159.7,61.2 160.3,62.1 161.0,63.6 161.6,64.8 162.2,65.3 162.9,66.9 163.5,67.6 164.1,68.2 164.8,70.0 165.4,71.1 166.0,72.5 166.7,73.8 167.3,75.0 167.9,76.1 168.5,76.6 169.2,78.6 169.8,78.7 170.4,79.0 171.1,80.1 171.7,79.8 172.3,80.1 173.0,79.5 173.6,79.2 174.2,78.8 174.9,78.9 175.5,78.8 176.1,77.5 176.8,76.2 177.4,74.6 178.0,74.9 178.6,72.1 179.3,71.4 179.9,68.4 180.5,66.7 181.2,64.8 181.8,62.7 182.4,61.0 183.1,59.6 183.7,57.5 184.3,55.6 185.0,54.6 185.6,53.1 186.2,52.1 186.9,49.5 187.5,48.7 188.1,47.4 188.8,46.0 189.4,45.1 190.0,43.8 190.6,42.2 191.3,41.7 191.9,38.5 192.5,39.2 193.2,43.2 193.8,42.6 194.4,40.8 195.1,39.0 195.7,40.2 196.3,41.2 197.0,41.9 197.6,39.9 198.2,39.7 198.9,39.8 199.5,40.8 200.1,40.1 200.8,39.8 201.4,41.1 202.0,39.3 202.6,40.8 203.3,38.3 203.9,39.0 204.5,41.0 205.2,39.9 205.8,38.0 206.4,41.6 207.1,39.1 207.7,36.2 208.3,41.1 209.0,40.0 209.6,40.4 210.2,38.5 210.9,42.4 211.5,41.5 212.1,39.3 212.7,38.1 213.4,38.6 214.0,38.1 214.6,37.4 215.3,38.1 215.9,38.1 216.5,39.6 217.2,38.7 217.8,34.6" stroke="#3a78c0"/>
<polyline points="49.2,35.6 49.8,35.2 50.5,34.4 51.1,35.5 51.7,37.0 52.4,35.3 53.0,38.1 53.6,36.7 54.3,38.3 54.9,39.1 55.5,39.8 56.1,40.4 56.8,41.2 57.4,40.1 58.0,41.0 58.7,43.3 59.3,41.6 59.9,41.3 60.6,40.8 61.2,42.7 61.8,43.7 62.5,42.6 63.1,42.8 63.7,42.9 64.4,43.1 65.0,45.0 65.6,45.0 66.2,45.4 66.9,48.0 67.5,47.2 68.1,46.8 68.8,46.0 69.4,46.1 70.0,47.1 70.7,47.4 71.3,47.3 71.9,47.1 72.6,48.4 73.2,47.9 73.8,48.6 74.5,48.8 75.1,48.5 75.7,49.4 76.4,49.7 77.0,49.1 77.6,49.6 78.2,49.9 78.9,50.0 79.5,49.9 80.1,50.5 80.8,50.1 81.4,50.5 82.0,50.2 82.7,50.4 83.3,50.7 83.9,51.2 84.6,51.1 85.2,51.3 85.8,49.6 86.5,50.9 87.1,50.3 87.7,49.7 88.4,50.8 89.0,50.4 89.6,50.0 90.2,50.2 90.9,50.2 91.5,49.7 92.1,48.8 92.8,48.9 93.4,49.1 94.0,49.0 94.7,49.6 95.3,48.3 95.9,48.2 96.6,48.6 97.2,47.7 97.8,47.6 98.5,47.3 99.1,47.1 99.7,46.6 100.3,46.3 101.0,45.2 101.6,44.8 102.2,44.3 102.9,44.2 103.5,43.9 104.1,42.3 104.8,43.8 105.4,42.1 106.0,42.1 106.7,41.9 107.3,41.9 107.9,41.4 108.6,41.6 109.2,41.4 109.8,40.5 110.5,40.9 111.1,39.5 111.7,39.1 112.3,40.9 113.0,39.8 113.6,38.7 114.2,38.5 114.9,38.3 115.5,37.9 116.1,37.5 116.8,37.3 117.4,36.7 118.0,37.3 118.7,36.8 119.3,37.8 119.9,37.0 120.6,37.4 121.2,36.0 121.8,35.5 122.4,36.2 123.1,37.0 123.7,36.3 124.3,36.2 125.0,36.1 125.6,35.6 126.2,35.7 126.9,37.4 127.5,35.5 128.1,36.4 128.8,36.5 129.4,35.6 130.0,36.5 130.7,37.1 131.3,37.1 131.9,36.6 132.6,36.3 133.2,36.1 133.8,36.9 134.4,37.2 135.1,36.3 135.7,37.4 136.3,36.6 137.0,37.4 137.6,37.5 138.2,37.9 138.9,37.8 139.5,38.4 140.1,38.7 140.8,38.6 141.4,39.1 142.0,38.9 142.7,39.3 143.3,39.7 143.9,39.9 144.6,40.2 145.2,39.7 145.8,40.8 146.4,41.5 147.1,41.8 147.7,41.8 148.3,42.7 149.0,43.2 149.6,43.8 150.2,44.2 150.9,44.8 151.5,45.4 152.1,47.1 152.8,47.6 153.4,49.1 154.0,48.3 154.7,49.0 155.3,49.9 155.9,51.3 156.5,51.8 157.2,53.3 157.8,54.3 158.4,55.9 159.1,56.6 159.7,57.6 160.3,57.9 161.0,58.7 161.6,60.8 162.2,61.5 162.9,62.7 163.5,64.3 164.1,65.9 164.8,66.7 165.4,68.2 166.0,68.9 166.7,70.1 167.3,71.3 167.9,72.5 168.5,73.1 169.2,74.6 169.8,74.5 170.4,76.4 171.1,76.0 171.7,76.0 172.3,76.5 173.0,76.8 173.6,75.7 174.2,76.2 174.9,75.3 175.5,74.7 176.1,74.2 176.8,73.1 177.4,71.6 178.0,70.6 178.6,69.7 179.3,67.5 179.9,65.5 180.5,63.9 181.2,62.1 181.8,60.4 182.4,58.6 183.1,57.2 183.7,55.9 184.3,53.2 185.0,52.6 185.6,50.9 186.2,50.3 186.9,48.1 187.5,47.1 188.1,44.1 188.8,44.8 189.4,43.8 190.0,42.0 190.6,41.2 191.3,42.1 191.9,39.4 192.5,41.1 193.2,41.3 193.8,38.2 194.4,42.1 195.1,39.7 195.7,39.7 196.3,40.6 197.0,40.1 197.6,40.0 198.2,39.4 198.9,41.5 199.5,40.8 200.1,37.4 200.8,39.7 201.4,42.4 202.0,37.7 202.6,40.3 203.3,44.1 203.9,39.4 204.5,37.9 205.2,37.8 205.8,37.0 206.4,39.5 207.1,38.3 207.7,40.1 208.3,38.4 209.0,36.2 209.6,38.6 210.2,38.3 210.9,41.5 211.5,39.2 212.1,40.2 212.7,38.2 213.4,39.3 214.0,37.7 214.6,40.4 215.3,35.6 215.9,39.2 216.5,38.2 217.2,34.2 217.8,37.9" stroke="#3282ca"/>
<polyline points="49.2,36.2 49.8,36.4 50.5,36.8 51.1,35.5 51.7,35.8 52.4,35.2 53.0,34.8 53.6,36.2 54.3,39.4 54.9,38.9 55.5,40.7 56.1,39.8 56.8,39.2 57.4,40.7 58.0,40.1 58.7,41.4 59.3,42.8 59.9,43.1 60.6,41.7 61.2,41.8 61.8,41.6 62.5,43.5 63.1,43.2 63.7,44.0 64.4,43.4 65.0,44.1 65.6,45.6 66.2,44.0 66.9,45.5 67.5,44.7 68.1,47.1 68.8,46.0 69.4,46.4 70.0,46.2 70.7,47.1 71.3,47.6 71.9,48.3 72.6,47.8 73.2,48.4 73.8,47.8 74.5,47.6 75.1,49.5 75.7,49.2 76.4,48.6 77.0,48.4 77.6,49.0 78.2,49.1 78.9,49.2 79.5,49.4 80.1,49.1 80.8,49.7 81.4,50.8 82.0,50.6 82.7,50.4 83.3,51.0 83.9,50.8 84.6,50.9 85.2,50.9 85.8,50.1 86.5,50.5 87.1,50.6 87.7,50.2 88.4,49.7 89.0,48.5 89.6,49.2 90.2,48.5 90.9,48.9 91.5,50.0 92.1,48.7 92.8,49.2 93.4,49.3 94.0,49.1 94.7,47.6 95.3,49.0 95.9,48.3 96.6,47.2 97.2,47.1 97.8,47.9 98.5,46.8 99.1,46.6 99.7,46.0 100.3,45.1 101.0,45.3 101.6,44.8 102.2,43.5 102.9,44.7 103.5,43.6 104.1,42.8 104.8,43.3 105.4,42.7 106.0,42.7 106.7,41.7 107.3,41.7 107.9,40.8 108.6,40.3 109.2,40.5 109.8,40.4 110.5,39.9 111.1,39.7 111.7,40.0 112.3,38.7 113.0,38.9 113.6,38.3 114.2,39.1 114.9,37.8 115.5,37.0 116.1,37.5 116.8,38.3 117.4,37.4 118.0,37.3 118.7,37.0 119.3,37.1 119.9,36.6 120.6,36.9 121.2,36.5 121.8,36.8 122.4,36.3 123.1,35.8 123.7,36.4 124.3,35.8 125.0,36.5 125.6,36.2 126.2,36.1 126.9,35.5 127.5,36.4 128.1,35.5 128.8,36.8 129.4,36.3 130.0,35.8 130.7,36.0 131.3,36.8 131.9,37.0 132.6,36.1 133.2,37.2 133.8,36.4 134.4,37.0 135.1,36.9 135.7,35.9 136.3,36.3 137.0,36.8 137.6,38.0 138.2,37.3 138.9,37.6 139.5,37.8 140.1,37.3 140.8,38.9 141.4,38.2 142.0,38.4 142.7,39.1 143.3,38.1 143.9,39.8 144.6,39.4 145.2,39.7 145.8,41.1 146.4,41.1 147.1,41.3 147.7,40.9 148.3,41.2 149.0,41.9 149.6,42.6 150.2,44.3 150.9,43.8 151.5,44.8 152.1,44.7 152.8,45.3 153.4,45.7 154.0,47.2 154.7,48.0 155.3,49.7 155.9,50.1 156.5,51.6 157.2,51.5 157.8,53.5 158.4,54.0 159.1,55.3 159.7,56.2 160.3,56.8 161.0,58.4 161.6,59.1 162.2,60.8 162.9,60.8 163.5,62.9 164.1,63.3 164.8,64.0 165.4,67.3 166.0,67.9 166.7,68.9 167.3,69.5 167.9,71.4 168.5,72.0 169.2,73.3 169.8,73.5 170.4,75.0 171.1,74.5 171.7,76.4 172.3,75.9 173.0,74.0 173.6,74.7 174.2,75.1 174.9,73.4 175.5,73.4 176.1,72.5 176.8,72.3 177.4,70.7 178.0,69.5 178.6,69.1 179.3,66.3 179.9,64.9 180.5,62.4 181.2,60.7 181.8,59.8 182.4,57.9 183.1,55.9 183.7,54.1 184.3,53.2 185.0,51.6 185.6,50.0 186.2,48.7 186.9,47.0 187.5,46.0 188.1,45.3 188.8,44.6 189.4,42.5 190.0,42.2 190.6,41.5 191.3,40.9 191.9,43.1 192.5,41.5 193.2,43.4 193.8,42.5 194.4,42.2 195.1,41.2 195.7,39.6 196.3,38.9 197.0,38.4 197.6,39.1 198.2,40.8 198.9,39.5 199.5,38.6 200.1,38.6 200.8,39.1 201.4,40.6 202.0,39.6 202.6,37.9 203.3,41.3 203.9,35.9 204.5,41.5 205.2,37.9 205.8,41.4 206.4,36.8 207.1,38.2 207.7,40.6 208.3,40.5 209.0,39.9 209.6,39.3 210.2,37.8 210.9,34.5 211.5,40.9 212.1,36.5 212.7,39.3 213.4,38.2 214.0,36.9 214.6,37.4 215.3,38.1 215.9,39.1 216.5,38.6 217.2,37.9 217.8,35.6" stroke="#358cd2"/>
</g>
<rect x="50.2" y="6.3" width="166.6" height="133.3" fill="none" stroke="#111" stroke-width="1.1"/>
<line x1="50.2" y1="139.6" x2="50.2" y2="141.8" stroke="#111" stroke-width="1.0" />
<text x="50.8" y="154.6" font-size="11.3" text-anchor="middle" font-weight="bold" >2.2</text>
<line x1="98.08" y1="139.6" x2="98.08" y2="141.8" stroke="#111" stroke-width="1.0" />
<text x="98.68" y="154.6" font-size="11.3" text-anchor="middle" font-weight="bold" >2.0</text>
<line x1="145.96" y1="139.6" x2="145.96" y2="141.8" stroke="#111" stroke-width="1.0" />
<text x="146.56" y="154.6" font-size="11.3" text-anchor="middle" font-weight="bold" >1.8</text>
<line x1="193.84" y1="139.6" x2="193.84" y2="141.8" stroke="#111" stroke-width="1.0" />
<text x="194.44" y="154.6" font-size="11.3" text-anchor="middle" font-weight="bold" >1.6</text>
<line x1="74.14" y1="139.6" x2="74.14" y2="141.2" stroke="#111" stroke-width="1.0" />
<line x1="122.02" y1="139.6" x2="122.02" y2="141.2" stroke="#111" stroke-width="1.0" />
<line x1="169.9" y1="139.6" x2="169.9" y2="141.2" stroke="#111" stroke-width="1.0" />
<line x1="48" y1="6.1" x2="50.2" y2="6.1" stroke="#111" stroke-width="1.0" />
<text x="45.2" y="10.1" font-size="11.3" text-anchor="end" font-weight="bold" >0.01</text>
<line x1="48" y1="39.4" x2="50.2" y2="39.4" stroke="#111" stroke-width="1.0" />
<text x="45.2" y="43.4" font-size="11.3" text-anchor="end" font-weight="bold" >0.00</text>
<line x1="48" y1="72.7" x2="50.2" y2="72.7" stroke="#111" stroke-width="1.0" />
<text x="45.2" y="76.7" font-size="11.3" text-anchor="end" font-weight="bold" >&#8722;0.01</text>
<line x1="48" y1="106" x2="50.2" y2="106" stroke="#111" stroke-width="1.0" />
<text x="45.2" y="110" font-size="11.3" text-anchor="end" font-weight="bold" >&#8722;0.02</text>
<line x1="48" y1="139.3" x2="50.2" y2="139.3" stroke="#111" stroke-width="1.0" />
<text x="45.2" y="143.3" font-size="11.3" text-anchor="end" font-weight="bold" >&#8722;0.03</text>
<line x1="48.6" y1="22.75" x2="50.2" y2="22.75" stroke="#111" stroke-width="1.0" />
<line x1="48.6" y1="56.05" x2="50.2" y2="56.05" stroke="#111" stroke-width="1.0" />
<line x1="48.6" y1="89.35" x2="50.2" y2="89.35" stroke="#111" stroke-width="1.0" />
<line x1="48.6" y1="122.65" x2="50.2" y2="122.65" stroke="#111" stroke-width="1.0" />
<text x="132.3" y="168.4" font-size="11.7" text-anchor="middle" font-weight="bold" >Photo energy (eV)</text>
<text x="12" y="72.75" font-size="11.6" text-anchor="middle" font-weight="bold" transform="rotate(-90 12.0 72.75)" dy="0">&#916;A (mOD)</text>
<text x="0.8" y="8.8" font-size="15" text-anchor="start" font-weight="bold" >a</text>
<text x="208.2" y="20.9" font-size="10" font-weight="bold" text-anchor="end">PVK<tspan dx="0.7" font-weight="normal">/</tspan><tspan dx="0.7">C</tspan><tspan font-size="7.3" dy="2.3">60</tspan></text>
<line x1="55" y1="75.9" x2="69.5" y2="75.9" stroke="#e41e2e" stroke-width="1.3" />
<text x="72.3" y="78.8" font-size="8" text-anchor="start" font-weight="bold" >1.2 ps</text>
<line x1="103.4" y1="75.9" x2="117.9" y2="75.9" stroke="#e2243a" stroke-width="1.3" />
<text x="120.7" y="78.8" font-size="8" text-anchor="start" font-weight="bold" >1.6 ps</text>
<line x1="55" y1="85.07" x2="69.5" y2="85.07" stroke="#d82a44" stroke-width="1.3" />
<text x="72.3" y="87.97" font-size="8" text-anchor="start" font-weight="bold" >2.2 ps</text>
<line x1="103.4" y1="85.07" x2="117.9" y2="85.07" stroke="#c8304e" stroke-width="1.3" />
<text x="120.7" y="87.97" font-size="8" text-anchor="start" font-weight="bold" >3.1 ps</text>
<line x1="55" y1="94.24" x2="69.5" y2="94.24" stroke="#b6385c" stroke-width="1.3" />
<text x="72.3" y="97.14" font-size="8" text-anchor="start" font-weight="bold" >5.1 ps</text>
<line x1="103.4" y1="94.24" x2="117.9" y2="94.24" stroke="#a4406c" stroke-width="1.3" />
<text x="120.7" y="97.14" font-size="8" text-anchor="start" font-weight="bold" >7.4 ps</text>
<line x1="55" y1="103.41" x2="69.5" y2="103.41" stroke="#8c4a82" stroke-width="1.3" />
<text x="72.3" y="106.31" font-size="8" text-anchor="start" font-weight="bold" >10.5 ps</text>
<line x1="103.4" y1="103.41" x2="117.9" y2="103.41" stroke="#745492" stroke-width="1.3" />
<text x="120.7" y="106.31" font-size="8" text-anchor="start" font-weight="bold" >15.7 ps</text>
<line x1="55" y1="112.58" x2="69.5" y2="112.58" stroke="#5c60a4" stroke-width="1.3" />
<text x="72.3" y="115.48" font-size="8" text-anchor="start" font-weight="bold" >18.6 ps</text>
<line x1="103.4" y1="112.58" x2="117.9" y2="112.58" stroke="#4a6cb4" stroke-width="1.3" />
<text x="120.7" y="115.48" font-size="8" text-anchor="start" font-weight="bold" >20.8 ps</text>
<line x1="55" y1="121.75" x2="69.5" y2="121.75" stroke="#3a78c0" stroke-width="1.3" />
<text x="72.3" y="124.65" font-size="8" text-anchor="start" font-weight="bold" >40.3 ps</text>
<line x1="103.4" y1="121.75" x2="117.9" y2="121.75" stroke="#3282ca" stroke-width="1.3" />
<text x="120.7" y="124.65" font-size="8" text-anchor="start" font-weight="bold" >62.4 ps</text>
<line x1="55" y1="130.92" x2="69.5" y2="130.92" stroke="#358cd2" stroke-width="1.3" />
<text x="72.3" y="133.82" font-size="8" text-anchor="start" font-weight="bold" >81.9 ps</text>
<line x1="171.7" y1="121" x2="171.7" y2="53.5" stroke="#000" stroke-width="1.1" />
<path d="M169.29999999999998,54.5 L171.7,49.0 L174.1,54.5 Z" fill="#000"/>
<text x="170.6" y="45.4" font-size="8.5" text-anchor="middle" font-weight="bold" >81.9 ps</text>
<text x="173.6" y="133.2" font-size="8.5" text-anchor="middle" font-weight="bold" >1.2 ps</text>
<clipPath id="clb"><rect x="47.099999999999994" y="186.4" width="170.09999999999997" height="134.99999999999997"/></clipPath>
<g clip-path="url(#clb)" fill="none" stroke-width="1.45" stroke-linejoin="round">
<polyline points="47.1,213.7 47.7,214.7 48.4,215.2 49.0,215.0 49.6,216.0 50.3,214.2 50.9,215.3 51.5,214.9 52.2,215.6 52.8,216.0 53.4,217.8 54.0,217.6 54.7,217.2 55.3,217.7 55.9,219.9 56.6,218.8 57.2,218.8 57.8,220.5 58.5,221.1 59.1,221.1 59.7,222.6 60.4,222.8 61.0,222.4 61.6,223.8 62.3,224.5 62.9,226.7 63.5,226.6 64.1,225.2 64.8,225.1 65.4,226.1 66.0,228.1 66.7,226.8 67.3,228.7 67.9,229.8 68.6,231.0 69.2,230.8 69.8,232.5 70.5,232.2 71.1,232.7 71.7,234.3 72.4,233.2 73.0,235.3 73.6,234.8 74.2,236.1 74.9,236.2 75.5,237.1 76.1,236.0 76.8,237.2 77.4,237.3 78.0,238.3 78.7,238.8 79.3,239.5 79.9,240.0 80.6,239.9 81.2,240.2 81.8,240.4 82.5,240.9 83.1,240.3 83.7,239.7 84.4,240.0 85.0,239.3 85.6,239.3 86.2,239.4 86.9,239.0 87.5,238.6 88.1,238.0 88.8,237.7 89.4,236.7 90.0,237.4 90.7,237.6 91.3,235.9 91.9,236.2 92.6,235.7 93.2,234.0 93.8,234.2 94.5,234.2 95.1,233.7 95.7,233.7 96.3,232.8 97.0,233.2 97.6,232.7 98.2,232.1 98.9,230.5 99.5,229.9 100.1,230.3 100.8,228.8 101.4,228.8 102.0,227.6 102.7,227.6 103.3,226.4 103.9,226.4 104.6,226.0 105.2,225.4 105.8,224.8 106.4,224.7 107.1,224.7 107.7,222.8 108.3,223.4 109.0,223.7 109.6,223.5 110.2,223.4 110.9,222.0 111.5,220.7 112.1,221.8 112.8,220.8 113.4,221.1 114.0,219.4 114.7,219.4 115.3,219.1 115.9,218.3 116.6,217.8 117.2,217.9 117.8,218.5 118.4,218.7 119.1,218.4 119.7,218.6 120.3,216.8 121.0,217.6 121.6,217.3 122.2,217.2 122.9,216.2 123.5,217.4 124.1,216.5 124.8,216.9 125.4,217.1 126.0,218.0 126.7,216.7 127.3,217.6 127.9,217.7 128.5,217.5 129.2,217.8 129.8,217.5 130.4,218.6 131.1,218.4 131.7,218.5 132.3,218.9 133.0,218.8 133.6,219.5 134.2,219.1 134.9,220.4 135.5,221.1 136.1,220.8 136.8,220.6 137.4,222.0 138.0,222.5 138.6,223.0 139.3,223.3 139.9,224.1 140.5,224.5 141.2,226.3 141.8,225.5 142.4,226.8 143.1,228.3 143.7,228.2 144.3,229.8 145.0,230.4 145.6,232.9 146.2,232.8 146.9,234.8 147.5,237.1 148.1,237.2 148.7,239.1 149.4,241.0 150.0,242.1 150.6,244.3 151.3,244.5 151.9,246.3 152.5,247.8 153.2,248.3 153.8,250.4 154.4,252.1 155.1,253.6 155.7,254.4 156.3,255.2 157.0,257.3 157.6,258.8 158.2,259.1 158.9,260.7 159.5,262.1 160.1,262.3 160.7,265.2 161.4,265.8 162.0,267.9 162.6,268.4 163.3,269.2 163.9,270.0 164.5,272.3 165.2,272.3 165.8,273.4 166.4,274.9 167.1,274.7 167.7,277.0 168.3,278.5 169.0,279.0 169.6,281.2 170.2,280.4 170.8,281.4 171.5,282.6 172.1,282.7 172.7,283.1 173.4,282.5 174.0,283.2 174.6,282.7 175.3,281.8 175.9,279.5 176.5,278.7 177.2,276.4 177.8,274.1 178.4,272.2 179.1,269.9 179.7,266.3 180.3,264.6 180.9,261.9 181.6,259.1 182.2,257.6 182.8,254.9 183.5,250.7 184.1,249.4 184.7,247.0 185.4,243.9 186.0,241.4 186.6,239.4 187.3,237.1 187.9,235.1 188.5,233.4 189.2,231.6 189.8,231.5 190.4,230.3 191.1,228.5 191.7,228.4 192.3,227.0 192.9,227.0 193.6,227.4 194.2,226.0 194.8,226.4 195.5,225.5 196.1,224.7 196.7,224.0 197.4,224.8 198.0,224.1 198.6,224.1 199.3,223.6 199.9,225.0 200.5,223.7 201.2,223.2 201.8,222.9 202.4,223.3 203.0,222.4 203.7,222.1 204.3,222.4 204.9,222.4 205.6,222.3 206.2,221.9 206.8,221.3 207.5,220.9 208.1,221.8 208.7,221.8 209.4,221.6 210.0,220.7 210.6,220.9 211.3,220.8 211.9,220.6 212.5,220.6 213.1,220.8 213.8,221.2 214.4,220.9 215.0,220.6 215.7,220.4 216.3,220.7 216.9,220.7 217.6,219.8 218.2,220.7" stroke="#e41e2e"/>
<polyline points="47.1,214.6 47.7,214.2 48.4,215.7 49.0,214.4 49.6,215.6 50.3,214.1 50.9,215.4 51.5,215.6 52.2,214.7 52.8,216.0 53.4,217.0 54.0,217.7 54.7,218.3 55.3,216.8 55.9,217.4 56.6,219.6 57.2,218.4 57.8,219.4 58.5,221.1 59.1,220.4 59.7,222.1 60.4,222.5 61.0,224.0 61.6,223.6 62.3,222.9 62.9,225.2 63.5,223.8 64.1,225.9 64.8,227.3 65.4,225.9 66.0,227.8 66.7,228.1 67.3,229.7 67.9,229.5 68.6,231.2 69.2,230.7 69.8,232.5 70.5,231.6 71.1,232.4 71.7,233.5 72.4,234.5 73.0,234.5 73.6,235.1 74.2,235.1 74.9,236.5 75.5,236.8 76.1,237.0 76.8,237.6 77.4,238.3 78.0,239.3 78.7,239.7 79.3,239.6 79.9,239.8 80.6,239.4 81.2,238.9 81.8,239.2 82.5,239.8 83.1,239.0 83.7,239.7 84.4,239.7 85.0,238.1 85.6,239.5 86.2,238.8 86.9,238.5 87.5,237.3 88.1,237.9 88.8,237.0 89.4,237.2 90.0,237.3 90.7,236.3 91.3,236.0 91.9,236.3 92.6,235.8 93.2,235.5 93.8,234.3 94.5,234.1 95.1,233.9 95.7,233.3 96.3,233.4 97.0,232.5 97.6,232.5 98.2,232.4 98.9,231.5 99.5,230.5 100.1,229.9 100.8,228.8 101.4,229.4 102.0,228.1 102.7,227.2 103.3,227.2 103.9,226.1 104.6,225.9 105.2,225.8 105.8,224.3 106.4,225.0 107.1,223.5 107.7,223.7 108.3,223.6 109.0,223.2 109.6,222.7 110.2,222.4 110.9,221.5 111.5,222.2 112.1,220.3 112.8,220.2 113.4,219.5 114.0,220.3 114.7,220.6 115.3,219.5 115.9,219.0 116.6,218.5 117.2,218.6 117.8,218.2 118.4,217.9 119.1,218.6 119.7,216.9 120.3,218.1 121.0,217.4 121.6,216.9 122.2,217.7 122.9,217.2 123.5,216.4 124.1,217.2 124.8,216.6 125.4,216.9 126.0,216.9 126.7,216.8 127.3,217.4 127.9,217.5 128.5,217.2 129.2,217.7 129.8,217.8 130.4,218.7 131.1,218.4 131.7,218.0 132.3,218.4 133.0,218.9 133.6,219.6 134.2,219.9 134.9,219.7 135.5,219.6 136.1,220.6 136.8,220.5 137.4,221.7 138.0,221.5 138.6,223.1 139.3,223.1 139.9,224.3 140.5,224.2 141.2,224.9 141.8,226.4 142.4,227.1 143.1,227.9 143.7,229.3 144.3,230.1 145.0,231.2 145.6,231.6 146.2,232.5 146.9,234.6 147.5,235.9 148.1,237.0 148.7,238.8 149.4,240.1 150.0,241.0 150.6,242.8 151.3,244.3 151.9,245.9 152.5,246.4 153.2,248.7 153.8,249.7 154.4,251.6 155.1,252.8 155.7,253.8 156.3,255.3 157.0,256.1 157.6,257.6 158.2,259.6 158.9,261.3 159.5,261.0 160.1,263.0 160.7,263.3 161.4,265.3 162.0,266.9 162.6,267.5 163.3,269.0 163.9,270.0 164.5,271.5 165.2,271.9 165.8,272.7 166.4,274.5 167.1,274.4 167.7,276.6 168.3,277.3 169.0,279.3 169.6,280.4 170.2,279.4 170.8,280.4 171.5,281.1 172.1,283.0 172.7,282.4 173.4,282.4 174.0,282.1 174.6,281.1 175.3,280.4 175.9,278.7 176.5,277.7 177.2,275.7 177.8,273.4 178.4,271.6 179.1,268.9 179.7,266.4 180.3,263.8 180.9,260.9 181.6,258.8 182.2,256.2 182.8,254.5 183.5,251.5 184.1,248.3 184.7,246.4 185.4,243.5 186.0,241.2 186.6,237.8 187.3,236.7 187.9,235.1 188.5,232.8 189.2,231.1 189.8,230.1 190.4,228.9 191.1,228.5 191.7,228.1 192.3,227.8 192.9,227.2 193.6,226.8 194.2,225.9 194.8,225.9 195.5,225.5 196.1,225.0 196.7,224.9 197.4,225.3 198.0,224.7 198.6,224.7 199.3,224.8 199.9,223.7 200.5,224.0 201.2,223.9 201.8,223.7 202.4,222.4 203.0,222.8 203.7,222.0 204.3,222.4 204.9,222.5 205.6,221.7 206.2,221.7 206.8,221.6 207.5,222.1 208.1,221.8 208.7,221.9 209.4,221.2 210.0,221.1 210.6,220.2 211.3,220.2 211.9,220.5 212.5,220.4 213.1,220.5 213.8,219.4 214.4,219.9 215.0,219.4 215.7,220.4 216.3,220.2 216.9,220.0 217.6,220.4 218.2,220.3" stroke="#e2243a"/>
<polyline points="47.1,214.7 47.7,215.5 48.4,212.5 49.0,214.1 49.6,213.8 50.3,213.6 50.9,213.4 51.5,214.8 52.2,215.5 52.8,215.7 53.4,217.6 54.0,216.9 54.7,218.6 55.3,217.8 55.9,217.9 56.6,219.2 57.2,219.5 57.8,220.4 58.5,220.8 59.1,221.8 59.7,221.3 60.4,221.7 61.0,224.1 61.6,222.5 62.3,223.5 62.9,225.5 63.5,225.2 64.1,226.0 64.8,226.3 65.4,227.0 66.0,227.5 66.7,228.2 67.3,228.0 67.9,229.7 68.6,230.0 69.2,231.1 69.8,231.8 70.5,231.9 71.1,232.6 71.7,232.4 72.4,234.5 73.0,234.0 73.6,234.0 74.2,234.7 74.9,236.0 75.5,236.6 76.1,236.9 76.8,237.0 77.4,237.5 78.0,237.9 78.7,238.2 79.3,239.4 79.9,239.8 80.6,240.1 81.2,240.3 81.8,239.7 82.5,239.4 83.1,238.2 83.7,239.0 84.4,239.1 85.0,238.2 85.6,238.9 86.2,238.1 86.9,237.5 87.5,237.3 88.1,237.1 88.8,237.2 89.4,237.3 90.0,236.5 90.7,236.4 91.3,235.5 91.9,235.5 92.6,234.9 93.2,235.6 93.8,234.0 94.5,234.5 95.1,234.5 95.7,234.0 96.3,233.2 97.0,231.9 97.6,231.7 98.2,232.1 98.9,230.9 99.5,230.4 100.1,230.5 100.8,229.5 101.4,229.4 102.0,228.2 102.7,228.4 103.3,226.9 103.9,226.5 104.6,225.9 105.2,225.5 105.8,224.1 106.4,224.4 107.1,223.7 107.7,223.0 108.3,222.5 109.0,222.3 109.6,222.5 110.2,222.4 110.9,221.9 111.5,221.4 112.1,220.8 112.8,220.5 113.4,219.6 114.0,219.8 114.7,218.6 115.3,218.6 115.9,219.0 116.6,218.1 117.2,219.7 117.8,217.4 118.4,217.8 119.1,217.6 119.7,218.5 120.3,216.4 121.0,217.6 121.6,217.4 122.2,216.7 122.9,217.3 123.5,217.5 124.1,216.7 124.8,217.5 125.4,216.6 126.0,216.9 126.7,216.5 127.3,217.8 127.9,216.8 128.5,217.4 129.2,216.8 129.8,218.2 130.4,217.2 131.1,217.9 131.7,218.1 132.3,219.0 133.0,218.7 133.6,218.9 134.2,219.9 134.9,220.3 135.5,220.5 136.1,219.8 136.8,220.8 137.4,220.9 138.0,221.7 138.6,222.3 139.3,222.8 139.9,223.7 140.5,223.6 141.2,224.7 141.8,225.5 142.4,227.0 143.1,227.0 143.7,228.4 144.3,229.4 145.0,229.7 145.6,231.9 146.2,232.7 146.9,233.5 147.5,234.5 148.1,236.6 148.7,237.6 149.4,239.1 150.0,241.2 150.6,243.0 151.3,244.3 151.9,244.5 152.5,246.1 153.2,248.1 153.8,249.2 154.4,250.4 155.1,251.7 155.7,252.9 156.3,253.1 157.0,255.8 157.6,256.7 158.2,258.4 158.9,259.6 159.5,261.0 160.1,262.0 160.7,263.4 161.4,264.3 162.0,265.6 162.6,267.3 163.3,267.1 163.9,269.7 164.5,270.1 165.2,270.2 165.8,272.6 166.4,272.6 167.1,273.6 167.7,275.1 168.3,277.2 169.0,276.7 169.6,278.3 170.2,279.5 170.8,279.2 171.5,280.8 172.1,280.4 172.7,281.5 173.4,281.0 174.0,281.3 174.6,280.1 175.3,279.2 175.9,277.7 176.5,275.8 177.2,274.4 177.8,272.3 178.4,269.5 179.1,267.7 179.7,266.0 180.3,262.8 180.9,260.3 181.6,257.4 182.2,254.9 182.8,252.4 183.5,250.5 184.1,247.5 184.7,245.9 185.4,241.9 186.0,239.8 186.6,237.5 187.3,236.1 187.9,234.1 188.5,232.9 189.2,230.9 189.8,230.6 190.4,228.5 191.1,228.0 191.7,226.6 192.3,227.1 192.9,226.5 193.6,226.3 194.2,226.0 194.8,225.6 195.5,225.9 196.1,225.3 196.7,225.2 197.4,224.6 198.0,224.9 198.6,224.5 199.3,223.7 199.9,223.0 200.5,223.2 201.2,222.7 201.8,222.7 202.4,222.3 203.0,223.0 203.7,222.6 204.3,223.2 204.9,222.5 205.6,221.6 206.2,222.4 206.8,220.8 207.5,220.7 208.1,221.4 208.7,220.7 209.4,221.7 210.0,221.5 210.6,220.8 211.3,220.9 211.9,220.7 212.5,221.0 213.1,219.7 213.8,220.4 214.4,220.5 215.0,220.0 215.7,220.2 216.3,220.5 216.9,220.5 217.6,221.3 218.2,219.8" stroke="#d82a44"/>
<polyline points="47.1,215.4 47.7,215.5 48.4,215.8 49.0,215.7 49.6,215.4 50.3,216.5 50.9,214.4 51.5,215.1 52.2,214.4 52.8,214.8 53.4,215.2 54.0,216.7 54.7,215.6 55.3,216.7 55.9,217.3 56.6,219.5 57.2,221.2 57.8,221.3 58.5,220.3 59.1,220.9 59.7,222.0 60.4,221.5 61.0,224.0 61.6,223.5 62.3,224.2 62.9,224.5 63.5,224.9 64.1,225.1 64.8,225.9 65.4,227.2 66.0,227.6 66.7,230.4 67.3,229.5 67.9,228.7 68.6,230.4 69.2,229.9 69.8,230.5 70.5,231.8 71.1,232.0 71.7,233.3 72.4,233.6 73.0,234.3 73.6,234.2 74.2,235.6 74.9,235.5 75.5,235.9 76.1,236.1 76.8,237.8 77.4,238.1 78.0,238.1 78.7,238.2 79.3,238.4 79.9,238.7 80.6,238.0 81.2,238.8 81.8,238.8 82.5,239.3 83.1,238.6 83.7,238.5 84.4,238.3 85.0,238.4 85.6,237.8 86.2,237.1 86.9,237.9 87.5,238.3 88.1,236.5 88.8,236.3 89.4,236.4 90.0,236.2 90.7,234.5 91.3,235.7 91.9,235.7 92.6,235.0 93.2,234.2 93.8,234.4 94.5,233.9 95.1,233.2 95.7,233.2 96.3,232.5 97.0,232.2 97.6,232.2 98.2,231.2 98.9,231.2 99.5,229.6 100.1,229.9 100.8,228.9 101.4,229.0 102.0,227.7 102.7,227.5 103.3,225.6 103.9,225.9 104.6,225.1 105.2,225.7 105.8,225.0 106.4,224.1 107.1,224.2 107.7,222.7 108.3,223.0 109.0,222.4 109.6,221.9 110.2,221.8 110.9,221.0 111.5,221.3 112.1,220.5 112.8,219.8 113.4,219.9 114.0,219.6 114.7,219.5 115.3,219.0 115.9,218.4 116.6,218.6 117.2,219.0 117.8,218.0 118.4,218.0 119.1,217.6 119.7,217.6 120.3,216.8 121.0,218.0 121.6,217.7 122.2,216.9 122.9,217.6 123.5,216.9 124.1,217.0 124.8,217.9 125.4,216.6 126.0,216.3 126.7,216.9 127.3,217.8 127.9,216.9 128.5,217.9 129.2,217.7 129.8,217.6 130.4,218.3 131.1,218.9 131.7,218.4 132.3,218.6 133.0,219.2 133.6,219.4 134.2,218.9 134.9,219.6 135.5,220.1 136.1,220.5 136.8,220.6 137.4,221.0 138.0,221.6 138.6,222.7 139.3,222.7 139.9,223.4 140.5,223.7 141.2,223.9 141.8,224.7 142.4,225.6 143.1,226.6 143.7,227.7 144.3,228.4 145.0,229.8 145.6,230.9 146.2,232.3 146.9,233.1 147.5,234.3 148.1,234.7 148.7,236.6 149.4,238.4 150.0,239.3 150.6,241.2 151.3,241.9 151.9,243.3 152.5,243.7 153.2,246.9 153.8,247.8 154.4,249.1 155.1,250.3 155.7,251.4 156.3,253.5 157.0,254.7 157.6,255.5 158.2,256.5 158.9,258.7 159.5,260.2 160.1,260.3 160.7,261.7 161.4,262.9 162.0,265.1 162.6,266.0 163.3,266.9 163.9,267.9 164.5,269.3 165.2,270.2 165.8,270.7 166.4,272.4 167.1,273.4 167.7,274.3 168.3,275.3 169.0,276.0 169.6,277.1 170.2,278.0 170.8,277.8 171.5,278.8 172.1,279.6 172.7,279.1 173.4,280.0 174.0,279.2 174.6,278.4 175.3,277.5 175.9,276.0 176.5,274.4 177.2,273.5 177.8,271.1 178.4,268.6 179.1,266.2 179.7,263.7 180.3,260.4 180.9,258.7 181.6,256.7 182.2,254.2 182.8,251.7 183.5,249.1 184.1,246.9 184.7,243.5 185.4,242.1 186.0,238.9 186.6,236.7 187.3,235.7 187.9,233.2 188.5,231.7 189.2,230.9 189.8,228.4 190.4,228.2 191.1,228.0 191.7,227.7 192.3,226.7 192.9,226.3 193.6,225.8 194.2,226.3 194.8,225.7 195.5,225.5 196.1,224.6 196.7,224.6 197.4,224.1 198.0,223.9 198.6,223.3 199.3,223.3 199.9,224.2 200.5,223.3 201.2,222.7 201.8,223.0 202.4,222.4 203.0,222.9 203.7,222.8 204.3,222.9 204.9,221.4 205.6,221.8 206.2,221.6 206.8,221.5 207.5,221.5 208.1,220.7 208.7,221.7 209.4,221.8 210.0,221.2 210.6,220.6 211.3,220.3 211.9,220.5 212.5,220.3 213.1,221.0 213.8,220.8 214.4,220.4 215.0,219.9 215.7,219.5 216.3,220.1 216.9,220.9 217.6,220.1 218.2,220.6" stroke="#c8304e"/>
<polyline points="47.1,214.5 47.7,213.2 48.4,215.3 49.0,212.3 49.6,214.8 50.3,212.9 50.9,215.0 51.5,214.9 52.2,216.0 52.8,215.8 53.4,215.3 54.0,218.2 54.7,217.0 55.3,217.8 55.9,218.7 56.6,218.6 57.2,220.3 57.8,217.8 58.5,221.0 59.1,220.3 59.7,220.7 60.4,221.9 61.0,223.4 61.6,223.8 62.3,223.6 62.9,223.7 63.5,224.4 64.1,224.7 64.8,225.0 65.4,227.8 66.0,225.6 66.7,229.5 67.3,227.7 67.9,229.5 68.6,230.6 69.2,230.2 69.8,230.4 70.5,231.0 71.1,232.4 71.7,232.4 72.4,233.6 73.0,234.1 73.6,234.2 74.2,234.5 74.9,234.3 75.5,235.3 76.1,235.4 76.8,236.9 77.4,237.3 78.0,237.4 78.7,236.8 79.3,238.5 79.9,238.9 80.6,238.5 81.2,238.0 81.8,239.3 82.5,238.6 83.1,239.0 83.7,237.6 84.4,237.7 85.0,237.7 85.6,237.6 86.2,237.4 86.9,237.0 87.5,237.1 88.1,236.9 88.8,236.7 89.4,235.9 90.0,236.0 90.7,234.9 91.3,236.0 91.9,234.5 92.6,234.2 93.2,233.5 93.8,233.9 94.5,234.1 95.1,233.4 95.7,232.1 96.3,232.3 97.0,232.0 97.6,231.6 98.2,230.9 98.9,230.4 99.5,230.4 100.1,229.4 100.8,228.0 101.4,227.2 102.0,227.3 102.7,226.9 103.3,225.4 103.9,225.6 104.6,225.6 105.2,224.7 105.8,223.9 106.4,223.1 107.1,223.6 107.7,222.7 108.3,222.7 109.0,221.7 109.6,221.7 110.2,221.4 110.9,221.6 111.5,221.0 112.1,220.7 112.8,221.8 113.4,219.4 114.0,219.5 114.7,219.3 115.3,219.1 115.9,218.6 116.6,218.3 117.2,218.8 117.8,217.9 118.4,217.8 119.1,217.7 119.7,218.2 120.3,217.5 121.0,217.9 121.6,217.0 122.2,216.5 122.9,216.6 123.5,217.1 124.1,217.1 124.8,217.1 125.4,216.7 126.0,217.2 126.7,217.2 127.3,218.2 127.9,217.6 128.5,217.7 129.2,217.7 129.8,217.1 130.4,218.4 131.1,218.6 131.7,217.9 132.3,218.8 133.0,218.7 133.6,218.7 134.2,219.1 134.9,219.7 135.5,219.2 136.1,219.3 136.8,220.8 137.4,220.9 138.0,220.8 138.6,221.8 139.3,222.6 139.9,222.9 140.5,222.9 141.2,224.3 141.8,224.4 142.4,225.1 143.1,226.3 143.7,226.6 144.3,227.5 145.0,228.4 145.6,229.5 146.2,231.7 146.9,231.8 147.5,233.1 148.1,234.1 148.7,236.3 149.4,236.8 150.0,238.3 150.6,240.3 151.3,240.5 151.9,242.8 152.5,244.2 153.2,244.9 153.8,246.7 154.4,247.6 155.1,249.2 155.7,250.3 156.3,251.3 157.0,253.0 157.6,253.9 158.2,255.3 158.9,257.3 159.5,257.9 160.1,259.3 160.7,260.9 161.4,261.7 162.0,262.7 162.6,264.4 163.3,266.5 163.9,266.8 164.5,268.1 165.2,269.1 165.8,269.8 166.4,271.0 167.1,271.0 167.7,272.5 168.3,273.6 169.0,274.2 169.6,275.0 170.2,275.6 170.8,276.4 171.5,277.3 172.1,277.6 172.7,278.9 173.4,278.6 174.0,277.0 174.6,276.8 175.3,274.6 175.9,273.3 176.5,273.3 177.2,271.0 177.8,267.9 178.4,267.4 179.1,264.5 179.7,262.4 180.3,260.0 180.9,257.7 181.6,255.2 182.2,252.5 182.8,250.7 183.5,247.7 184.1,245.9 184.7,242.8 185.4,240.4 186.0,238.5 186.6,236.0 187.3,234.6 187.9,233.1 188.5,230.7 189.2,230.8 189.8,228.6 190.4,227.7 191.1,227.6 191.7,226.9 192.3,225.8 192.9,226.2 193.6,225.6 194.2,224.9 194.8,225.4 195.5,224.5 196.1,223.3 196.7,224.1 197.4,224.5 198.0,223.5 198.6,223.6 199.3,224.0 199.9,223.0 200.5,224.2 201.2,222.8 201.8,221.9 202.4,224.1 203.0,221.3 203.7,222.1 204.3,222.3 204.9,222.6 205.6,221.5 206.2,221.7 206.8,221.9 207.5,222.3 208.1,221.5 208.7,220.4 209.4,221.2 210.0,221.2 210.6,220.5 211.3,221.8 211.9,220.3 212.5,220.5 213.1,219.5 213.8,219.2 214.4,220.1 215.0,220.4 215.7,220.8 216.3,220.2 216.9,219.1 217.6,220.1 218.2,220.3" stroke="#b6385c"/>
<polyline points="47.1,213.4 47.7,215.1 48.4,215.2 49.0,215.0 49.6,214.1 50.3,214.6 50.9,214.3 51.5,215.0 52.2,216.7 52.8,215.5 53.4,218.2 54.0,215.7 54.7,216.3 55.3,218.9 55.9,218.9 56.6,218.7 57.2,219.6 57.8,219.5 58.5,220.4 59.1,220.6 59.7,221.2 60.4,221.5 61.0,223.1 61.6,223.5 62.3,224.0 62.9,223.6 63.5,223.9 64.1,225.4 64.8,226.1 65.4,226.8 66.0,227.3 66.7,226.9 67.3,229.4 67.9,228.7 68.6,229.6 69.2,231.0 69.8,230.3 70.5,231.4 71.1,231.5 71.7,232.3 72.4,232.5 73.0,233.2 73.6,233.9 74.2,234.0 74.9,234.2 75.5,236.1 76.1,235.4 76.8,236.1 77.4,236.8 78.0,236.0 78.7,236.6 79.3,237.8 79.9,238.1 80.6,237.4 81.2,238.2 81.8,238.1 82.5,238.8 83.1,237.9 83.7,237.1 84.4,237.7 85.0,237.3 85.6,236.2 86.2,236.4 86.9,235.9 87.5,236.0 88.1,235.4 88.8,236.5 89.4,235.8 90.0,235.9 90.7,233.8 91.3,234.5 91.9,234.4 92.6,234.4 93.2,234.2 93.8,234.7 94.5,231.9 95.1,232.6 95.7,232.2 96.3,232.5 97.0,231.4 97.6,230.8 98.2,230.5 98.9,229.7 99.5,229.8 100.1,228.6 100.8,227.7 101.4,227.3 102.0,226.8 102.7,226.4 103.3,226.3 103.9,225.0 104.6,225.0 105.2,224.8 105.8,223.6 106.4,224.3 107.1,223.4 107.7,222.4 108.3,221.9 109.0,222.2 109.6,221.6 110.2,221.0 110.9,221.0 111.5,221.0 112.1,220.1 112.8,219.9 113.4,219.6 114.0,218.9 114.7,218.9 115.3,219.0 115.9,218.5 116.6,217.4 117.2,218.4 117.8,218.0 118.4,218.1 119.1,217.4 119.7,218.1 120.3,217.1 121.0,216.9 121.6,217.5 122.2,217.4 122.9,217.6 123.5,216.9 124.1,217.3 124.8,217.1 125.4,217.0 126.0,217.1 126.7,216.4 127.3,216.2 127.9,218.1 128.5,217.6 129.2,217.3 129.8,218.0 130.4,217.9 131.1,217.7 131.7,217.4 132.3,217.6 133.0,218.5 133.6,218.5 134.2,219.0 134.9,219.2 135.5,219.9 136.1,220.5 136.8,220.2 137.4,220.0 138.0,220.5 138.6,222.2 139.3,221.8 139.9,222.5 140.5,222.6 141.2,223.9 141.8,223.5 142.4,224.7 143.1,225.1 143.7,225.7 144.3,228.0 145.0,228.1 145.6,228.4 146.2,230.1 146.9,230.8 147.5,232.2 148.1,233.8 148.7,234.6 149.4,235.5 150.0,236.7 150.6,237.9 151.3,240.3 151.9,240.7 152.5,243.0 153.2,243.8 153.8,245.1 154.4,246.0 155.1,247.5 155.7,248.4 156.3,250.6 157.0,251.2 157.6,252.8 158.2,254.3 158.9,256.2 159.5,256.7 160.1,258.1 160.7,259.3 161.4,261.0 162.0,262.4 162.6,263.3 163.3,264.4 163.9,265.4 164.5,265.8 165.2,268.0 165.8,267.6 166.4,270.8 167.1,269.8 167.7,271.5 168.3,271.1 169.0,273.3 169.6,273.2 170.2,274.9 170.8,275.5 171.5,275.0 172.1,275.4 172.7,276.4 173.4,274.9 174.0,275.7 174.6,274.0 175.3,274.1 175.9,272.7 176.5,270.8 177.2,269.8 177.8,267.3 178.4,266.4 179.1,263.0 179.7,260.9 180.3,258.8 180.9,255.9 181.6,253.8 182.2,251.5 182.8,248.6 183.5,246.4 184.1,244.0 184.7,241.2 185.4,239.5 186.0,236.8 186.6,235.3 187.3,233.1 187.9,231.6 188.5,230.7 189.2,230.0 189.8,228.8 190.4,227.8 191.1,226.5 191.7,226.8 192.3,225.6 192.9,225.3 193.6,225.1 194.2,224.3 194.8,224.2 195.5,224.2 196.1,223.7 196.7,224.4 197.4,223.8 198.0,223.2 198.6,222.1 199.3,222.1 199.9,223.2 200.5,222.6 201.2,222.9 201.8,222.4 202.4,222.9 203.0,221.1 203.7,222.3 204.3,222.2 204.9,221.5 205.6,221.1 206.2,221.4 206.8,221.1 207.5,220.5 208.1,219.6 208.7,221.5 209.4,220.9 210.0,221.4 210.6,219.8 211.3,220.1 211.9,220.6 212.5,220.3 213.1,219.5 213.8,220.7 214.4,219.6 215.0,221.0 215.7,220.1 216.3,219.3 216.9,219.9 217.6,220.1 218.2,220.2" stroke="#a4406c"/>
<polyline points="47.1,213.9 47.7,216.2 48.4,214.9 49.0,215.4 49.6,213.5 50.3,215.3 50.9,216.0 51.5,216.3 52.2,216.7 52.8,216.5 53.4,216.9 54.0,216.6 54.7,218.0 55.3,219.3 55.9,219.3 56.6,218.2 57.2,218.5 57.8,219.4 58.5,221.2 59.1,220.8 59.7,221.0 60.4,222.8 61.0,222.2 61.6,224.6 62.3,223.5 62.9,225.9 63.5,224.0 64.1,225.2 64.8,227.4 65.4,225.7 66.0,227.6 66.7,226.5 67.3,227.7 67.9,229.3 68.6,228.5 69.2,230.0 69.8,230.6 70.5,230.6 71.1,230.8 71.7,232.1 72.4,232.6 73.0,233.0 73.6,233.6 74.2,233.7 74.9,234.5 75.5,234.7 76.1,234.8 76.8,235.5 77.4,235.1 78.0,236.4 78.7,236.8 79.3,235.8 79.9,236.3 80.6,237.1 81.2,236.9 81.8,237.1 82.5,237.5 83.1,236.8 83.7,236.9 84.4,236.2 85.0,237.5 85.6,236.1 86.2,236.1 86.9,236.3 87.5,235.9 88.1,235.6 88.8,235.8 89.4,235.2 90.0,234.3 90.7,235.1 91.3,234.3 91.9,235.0 92.6,233.8 93.2,233.0 93.8,232.9 94.5,232.5 95.1,232.7 95.7,231.5 96.3,231.8 97.0,230.6 97.6,230.5 98.2,230.3 98.9,228.9 99.5,229.2 100.1,227.9 100.8,227.8 101.4,227.2 102.0,226.1 102.7,225.8 103.3,225.5 103.9,225.1 104.6,224.4 105.2,224.1 105.8,223.8 106.4,223.8 107.1,224.1 107.7,222.5 108.3,222.2 109.0,221.2 109.6,221.2 110.2,220.5 110.9,219.9 111.5,220.5 112.1,220.5 112.8,219.4 113.4,219.8 114.0,219.3 114.7,218.3 115.3,218.4 115.9,217.9 116.6,218.8 117.2,218.0 117.8,217.3 118.4,218.3 119.1,217.4 119.7,217.2 120.3,218.4 121.0,216.4 121.6,217.4 122.2,217.0 122.9,216.1 123.5,217.6 124.1,216.5 124.8,216.9 125.4,216.6 126.0,217.1 126.7,216.1 127.3,217.4 127.9,216.8 128.5,216.8 129.2,217.3 129.8,217.5 130.4,217.6 131.1,217.2 131.7,217.6 132.3,218.0 133.0,218.7 133.6,218.3 134.2,218.3 134.9,218.8 135.5,218.4 136.1,220.3 136.8,218.5 137.4,220.2 138.0,221.0 138.6,221.7 139.3,220.9 139.9,221.5 140.5,222.3 141.2,222.8 141.8,223.2 142.4,224.1 143.1,224.1 143.7,225.1 144.3,226.3 145.0,227.9 145.6,227.5 146.2,229.4 146.9,230.7 147.5,230.7 148.1,232.2 148.7,234.5 149.4,235.5 150.0,236.1 150.6,237.8 151.3,238.5 151.9,238.4 152.5,239.5 153.2,242.2 153.8,243.1 154.4,244.4 155.1,246.2 155.7,248.1 156.3,248.3 157.0,250.2 157.6,251.3 158.2,252.5 158.9,254.6 159.5,254.7 160.1,256.8 160.7,258.1 161.4,259.8 162.0,260.5 162.6,261.6 163.3,263.5 163.9,264.0 164.5,265.5 165.2,266.8 165.8,267.2 166.4,267.6 167.1,268.5 167.7,269.0 168.3,270.7 169.0,271.3 169.6,271.8 170.2,272.2 170.8,273.0 171.5,273.9 172.1,274.5 172.7,273.4 173.4,273.4 174.0,273.7 174.6,271.9 175.3,271.6 175.9,270.1 176.5,268.3 177.2,267.6 177.8,265.9 178.4,264.3 179.1,261.1 179.7,258.7 180.3,256.2 180.9,254.0 181.6,252.0 182.2,249.2 182.8,247.9 183.5,244.9 184.1,242.5 184.7,240.5 185.4,237.4 186.0,235.8 186.6,233.4 187.3,232.0 187.9,231.0 188.5,228.7 189.2,228.0 189.8,227.5 190.4,226.8 191.1,226.7 191.7,226.0 192.3,225.8 192.9,224.9 193.6,224.1 194.2,224.0 194.8,224.4 195.5,222.5 196.1,224.7 196.7,223.9 197.4,223.4 198.0,223.6 198.6,222.3 199.3,223.3 199.9,224.2 200.5,222.0 201.2,221.3 201.8,222.6 202.4,220.9 203.0,222.5 203.7,220.7 204.3,220.0 204.9,220.7 205.6,220.3 206.2,221.7 206.8,221.7 207.5,221.3 208.1,220.4 208.7,221.2 209.4,221.0 210.0,220.4 210.6,220.8 211.3,219.9 211.9,220.7 212.5,221.4 213.1,219.6 213.8,219.8 214.4,219.4 215.0,220.8 215.7,219.9 216.3,219.1 216.9,220.4 217.6,218.7 218.2,220.6" stroke="#8c4a82"/>
<polyline points="47.1,214.0 47.7,214.9 48.4,214.0 49.0,213.4 49.6,216.1 50.3,216.2 50.9,215.3 51.5,216.2 52.2,213.8 52.8,216.9 53.4,217.0 54.0,215.9 54.7,216.7 55.3,217.1 55.9,217.9 56.6,218.9 57.2,217.6 57.8,221.2 58.5,219.6 59.1,220.4 59.7,221.4 60.4,220.7 61.0,222.1 61.6,222.1 62.3,223.7 62.9,222.4 63.5,224.8 64.1,224.1 64.8,226.1 65.4,227.0 66.0,228.3 66.7,226.3 67.3,229.7 67.9,229.3 68.6,229.1 69.2,229.8 69.8,229.5 70.5,230.2 71.1,230.5 71.7,231.4 72.4,231.4 73.0,232.1 73.6,233.7 74.2,233.2 74.9,233.3 75.5,234.0 76.1,233.7 76.8,235.0 77.4,234.8 78.0,236.0 78.7,235.8 79.3,236.3 79.9,236.8 80.6,237.1 81.2,236.5 81.8,236.4 82.5,236.8 83.1,237.0 83.7,236.7 84.4,235.8 85.0,236.6 85.6,235.3 86.2,236.4 86.9,235.2 87.5,234.8 88.1,234.3 88.8,234.8 89.4,234.8 90.0,234.8 90.7,233.5 91.3,233.7 91.9,233.6 92.6,233.3 93.2,232.6 93.8,232.4 94.5,231.5 95.1,232.7 95.7,231.0 96.3,231.2 97.0,230.6 97.6,230.3 98.2,229.7 98.9,228.8 99.5,228.5 100.1,228.7 100.8,227.5 101.4,226.9 102.0,226.1 102.7,225.7 103.3,225.2 103.9,224.2 104.6,224.8 105.2,222.8 105.8,223.7 106.4,223.5 107.1,222.2 107.7,221.7 108.3,221.3 109.0,220.8 109.6,221.0 110.2,220.8 110.9,220.4 111.5,220.2 112.1,220.2 112.8,218.9 113.4,218.5 114.0,219.1 114.7,218.9 115.3,218.8 115.9,219.1 116.6,218.4 117.2,218.1 117.8,217.7 118.4,218.0 119.1,218.3 119.7,217.0 120.3,216.4 121.0,218.1 121.6,217.0 122.2,216.4 122.9,217.3 123.5,217.4 124.1,216.6 124.8,216.7 125.4,216.9 126.0,215.8 126.7,215.9 127.3,216.4 127.9,216.9 128.5,217.1 129.2,216.7 129.8,217.3 130.4,216.6 131.1,216.9 131.7,217.9 132.3,217.4 133.0,217.2 133.6,217.8 134.2,218.8 134.9,218.7 135.5,218.9 136.1,219.0 136.8,219.3 137.4,219.8 138.0,219.6 138.6,219.8 139.3,221.0 139.9,221.9 140.5,221.5 141.2,222.1 141.8,222.4 142.4,223.5 143.1,223.7 143.7,224.9 144.3,224.8 145.0,225.4 145.6,227.6 146.2,229.4 146.9,229.4 147.5,230.4 148.1,231.1 148.7,232.3 149.4,233.2 150.0,233.3 150.6,236.0 151.3,237.0 151.9,237.9 152.5,240.2 153.2,240.2 153.8,242.2 154.4,243.8 155.1,244.9 155.7,245.5 156.3,246.7 157.0,247.9 157.6,249.7 158.2,251.6 158.9,252.3 159.5,254.0 160.1,254.2 160.7,257.7 161.4,257.3 162.0,259.0 162.6,260.4 163.3,261.8 163.9,263.1 164.5,264.3 165.2,265.4 165.8,264.5 166.4,265.8 167.1,266.7 167.7,267.6 168.3,269.4 169.0,269.4 169.6,269.8 170.2,269.9 170.8,271.4 171.5,271.2 172.1,271.7 172.7,271.8 173.4,272.0 174.0,271.0 174.6,270.4 175.3,270.3 175.9,267.5 176.5,265.7 177.2,265.6 177.8,262.9 178.4,261.9 179.1,259.5 179.7,256.2 180.3,254.7 180.9,251.8 181.6,250.1 182.2,247.5 182.8,245.8 183.5,242.8 184.1,240.4 184.7,238.7 185.4,237.1 186.0,234.9 186.6,233.3 187.3,231.0 187.9,229.7 188.5,229.1 189.2,227.2 189.8,227.0 190.4,225.2 191.1,225.1 191.7,224.2 192.3,225.1 192.9,224.8 193.6,225.4 194.2,223.3 194.8,224.1 195.5,223.8 196.1,223.4 196.7,220.1 197.4,222.8 198.0,222.8 198.6,221.7 199.3,222.5 199.9,222.5 200.5,221.0 201.2,223.2 201.8,221.7 202.4,221.8 203.0,221.7 203.7,221.3 204.3,220.3 204.9,220.3 205.6,220.0 206.2,220.5 206.8,219.8 207.5,221.5 208.1,220.2 208.7,221.0 209.4,219.8 210.0,220.1 210.6,220.6 211.3,219.6 211.9,220.1 212.5,220.7 213.1,219.6 213.8,220.0 214.4,219.7 215.0,219.7 215.7,218.5 216.3,220.4 216.9,219.5 217.6,219.5 218.2,219.6" stroke="#745492"/>
<polyline points="47.1,214.3 47.7,215.3 48.4,213.5 49.0,213.2 49.6,214.6 50.3,214.1 50.9,216.1 51.5,215.9 52.2,215.3 52.8,216.1 53.4,215.8 54.0,216.4 54.7,218.0 55.3,218.5 55.9,218.4 56.6,218.1 57.2,219.3 57.8,220.1 58.5,218.8 59.1,220.3 59.7,221.1 60.4,223.8 61.0,223.7 61.6,222.8 62.3,222.8 62.9,224.5 63.5,225.0 64.1,224.8 64.8,225.5 65.4,226.7 66.0,227.9 66.7,225.2 67.3,226.2 67.9,227.6 68.6,227.8 69.2,228.9 69.8,229.5 70.5,230.7 71.1,230.5 71.7,231.2 72.4,230.9 73.0,231.6 73.6,231.7 74.2,232.3 74.9,232.6 75.5,233.3 76.1,233.8 76.8,234.3 77.4,234.5 78.0,235.2 78.7,234.9 79.3,235.4 79.9,236.5 80.6,237.0 81.2,236.2 81.8,236.0 82.5,235.9 83.1,235.1 83.7,235.9 84.4,236.0 85.0,235.1 85.6,234.7 86.2,234.2 86.9,235.2 87.5,234.6 88.1,234.5 88.8,233.4 89.4,233.5 90.0,233.6 90.7,233.1 91.3,233.3 91.9,233.0 92.6,232.6 93.2,232.5 93.8,232.1 94.5,231.4 95.1,231.1 95.7,230.2 96.3,230.1 97.0,230.1 97.6,230.7 98.2,229.9 98.9,229.0 99.5,228.4 100.1,228.2 100.8,227.2 101.4,226.4 102.0,226.2 102.7,225.4 103.3,224.9 103.9,224.7 104.6,224.3 105.2,223.6 105.8,223.0 106.4,223.2 107.1,223.3 107.7,222.4 108.3,221.4 109.0,222.0 109.6,220.5 110.2,220.9 110.9,220.3 111.5,220.4 112.1,219.5 112.8,219.4 113.4,219.0 114.0,219.8 114.7,218.3 115.3,219.2 115.9,218.3 116.6,217.7 117.2,217.9 117.8,217.4 118.4,217.4 119.1,217.3 119.7,217.6 120.3,216.7 121.0,216.5 121.6,217.1 122.2,217.2 122.9,216.6 123.5,217.0 124.1,216.5 124.8,216.1 125.4,216.2 126.0,215.8 126.7,216.3 127.3,217.1 127.9,217.1 128.5,216.6 129.2,216.1 129.8,217.2 130.4,217.6 131.1,216.7 131.7,217.5 132.3,217.3 133.0,217.2 133.6,218.3 134.2,218.2 134.9,218.5 135.5,218.2 136.1,218.4 136.8,219.2 137.4,219.1 138.0,220.4 138.6,219.8 139.3,220.1 139.9,220.7 140.5,221.7 141.2,221.5 141.8,222.4 142.4,221.8 143.1,223.2 143.7,223.8 144.3,224.5 145.0,225.0 145.6,226.2 146.2,226.9 146.9,228.5 147.5,228.5 148.1,230.2 148.7,230.7 149.4,231.9 150.0,232.6 150.6,234.3 151.3,236.0 151.9,237.0 152.5,237.8 153.2,238.3 153.8,240.4 154.4,241.5 155.1,242.2 155.7,244.4 156.3,245.4 157.0,246.8 157.6,248.6 158.2,249.6 158.9,250.6 159.5,252.0 160.1,254.0 160.7,254.0 161.4,256.5 162.0,258.1 162.6,259.5 163.3,260.7 163.9,261.0 164.5,263.6 165.2,263.2 165.8,264.5 166.4,264.7 167.1,265.4 167.7,266.6 168.3,267.1 169.0,266.8 169.6,268.2 170.2,268.4 170.8,269.0 171.5,268.8 172.1,268.9 172.7,269.2 173.4,269.2 174.0,268.7 174.6,268.7 175.3,266.6 175.9,266.2 176.5,265.0 177.2,263.2 177.8,261.7 178.4,259.3 179.1,257.0 179.7,254.6 180.3,253.0 180.9,251.0 181.6,248.7 182.2,246.8 182.8,244.4 183.5,241.0 184.1,240.0 184.7,237.8 185.4,235.3 186.0,233.5 186.6,231.5 187.3,230.7 187.9,229.5 188.5,227.3 189.2,227.2 189.8,226.1 190.4,225.3 191.1,225.7 191.7,224.4 192.3,224.8 192.9,223.5 193.6,222.4 194.2,225.1 194.8,224.2 195.5,222.9 196.1,222.3 196.7,223.2 197.4,222.7 198.0,221.2 198.6,223.9 199.3,221.1 199.9,222.1 200.5,220.7 201.2,221.3 201.8,218.3 202.4,221.6 203.0,220.3 203.7,223.5 204.3,221.1 204.9,219.7 205.6,221.4 206.2,221.5 206.8,220.9 207.5,219.7 208.1,219.3 208.7,220.9 209.4,220.3 210.0,220.3 210.6,217.8 211.3,220.5 211.9,218.9 212.5,220.0 213.1,220.5 213.8,218.4 214.4,220.0 215.0,217.7 215.7,219.4 216.3,219.7 216.9,220.7 217.6,219.9 218.2,218.9" stroke="#5c60a4"/>
<polyline points="47.1,214.4 47.7,213.4 48.4,214.1 49.0,215.2 49.6,214.7 50.3,214.2 50.9,215.2 51.5,215.3 52.2,214.8 52.8,215.0 53.4,216.1 54.0,216.4 54.7,215.8 55.3,217.1 55.9,217.0 56.6,219.0 57.2,220.0 57.8,219.4 58.5,219.4 59.1,220.2 59.7,221.1 60.4,222.5 61.0,221.4 61.6,221.8 62.3,222.4 62.9,224.7 63.5,224.6 64.1,224.8 64.8,223.3 65.4,225.4 66.0,226.0 66.7,228.7 67.3,225.0 67.9,227.8 68.6,227.5 69.2,228.7 69.8,228.7 70.5,229.9 71.1,229.9 71.7,230.5 72.4,230.9 73.0,231.0 73.6,232.1 74.2,232.4 74.9,233.2 75.5,233.0 76.1,233.5 76.8,233.1 77.4,233.5 78.0,234.5 78.7,234.2 79.3,234.0 79.9,234.9 80.6,235.5 81.2,233.9 81.8,234.8 82.5,234.7 83.1,233.8 83.7,235.2 84.4,234.6 85.0,235.5 85.6,234.2 86.2,234.1 86.9,234.4 87.5,234.3 88.1,233.7 88.8,233.6 89.4,232.5 90.0,233.2 90.7,232.9 91.3,232.7 91.9,233.1 92.6,232.3 93.2,232.4 93.8,231.4 94.5,232.1 95.1,231.3 95.7,230.3 96.3,231.0 97.0,230.4 97.6,228.8 98.2,229.4 98.9,228.3 99.5,227.6 100.1,227.7 100.8,227.5 101.4,225.4 102.0,225.8 102.7,224.8 103.3,224.9 103.9,223.9 104.6,224.2 105.2,223.8 105.8,223.3 106.4,222.7 107.1,222.3 107.7,221.8 108.3,221.1 109.0,221.2 109.6,220.2 110.2,220.7 110.9,219.8 111.5,219.2 112.1,218.7 112.8,220.2 113.4,218.2 114.0,219.6 114.7,217.8 115.3,218.3 115.9,217.9 116.6,218.3 117.2,217.2 117.8,217.2 118.4,217.6 119.1,217.5 119.7,216.7 120.3,216.5 121.0,216.5 121.6,216.9 122.2,216.7 122.9,216.1 123.5,216.1 124.1,215.9 124.8,216.3 125.4,216.7 126.0,216.3 126.7,216.2 127.3,216.7 127.9,216.4 128.5,217.1 129.2,216.6 129.8,217.2 130.4,216.0 131.1,216.5 131.7,217.1 132.3,218.0 133.0,218.0 133.6,217.3 134.2,217.8 134.9,217.8 135.5,218.9 136.1,219.1 136.8,218.6 137.4,219.0 138.0,219.8 138.6,219.8 139.3,219.4 139.9,220.3 140.5,220.1 141.2,220.0 141.8,221.1 142.4,221.6 143.1,222.4 143.7,222.2 144.3,224.1 145.0,224.8 145.6,225.1 146.2,226.7 146.9,226.4 147.5,228.1 148.1,228.4 148.7,229.8 149.4,230.7 150.0,231.6 150.6,233.5 151.3,234.2 151.9,235.0 152.5,234.9 153.2,236.8 153.8,238.1 154.4,240.2 155.1,240.6 155.7,241.7 156.3,243.4 157.0,243.9 157.6,247.2 158.2,248.5 158.9,249.5 159.5,251.2 160.1,252.2 160.7,253.4 161.4,255.0 162.0,256.3 162.6,257.4 163.3,258.3 163.9,260.1 164.5,261.0 165.2,260.9 165.8,262.4 166.4,263.3 167.1,263.4 167.7,264.3 168.3,264.7 169.0,265.3 169.6,265.5 170.2,265.8 170.8,266.9 171.5,267.4 172.1,266.3 172.7,267.5 173.4,267.7 174.0,267.4 174.6,265.8 175.3,265.1 175.9,264.5 176.5,262.7 177.2,261.3 177.8,258.6 178.4,257.2 179.1,255.3 179.7,253.7 180.3,251.0 180.9,248.4 181.6,246.5 182.2,244.0 182.8,242.2 183.5,239.8 184.1,237.8 184.7,236.3 185.4,233.5 186.0,232.1 186.6,230.2 187.3,229.7 187.9,228.4 188.5,227.0 189.2,226.4 189.8,225.0 190.4,224.5 191.1,223.6 191.7,225.2 192.3,224.3 192.9,222.6 193.6,222.7 194.2,224.0 194.8,223.3 195.5,221.1 196.1,221.3 196.7,219.8 197.4,222.3 198.0,221.8 198.6,222.9 199.3,220.3 199.9,222.8 200.5,223.2 201.2,221.3 201.8,219.5 202.4,220.7 203.0,221.0 203.7,219.8 204.3,220.8 204.9,221.0 205.6,221.9 206.2,218.4 206.8,220.1 207.5,218.3 208.1,222.2 208.7,219.7 209.4,220.4 210.0,220.1 210.6,219.8 211.3,218.7 211.9,219.0 212.5,218.6 213.1,220.2 213.8,218.7 214.4,220.6 215.0,219.5 215.7,219.1 216.3,219.6 216.9,218.0 217.6,221.3 218.2,218.7" stroke="#4a6cb4"/>
<polyline points="47.1,213.3 47.7,213.6 48.4,215.2 49.0,213.8 49.6,212.6 50.3,214.1 50.9,213.7 51.5,217.5 52.2,214.4 52.8,214.1 53.4,215.8 54.0,216.2 54.7,216.9 55.3,215.1 55.9,218.5 56.6,218.4 57.2,218.6 57.8,220.1 58.5,222.0 59.1,220.4 59.7,220.9 60.4,222.3 61.0,221.3 61.6,222.6 62.3,224.5 62.9,223.5 63.5,222.7 64.1,222.7 64.8,225.6 65.4,227.6 66.0,225.3 66.7,227.0 67.3,228.0 67.9,227.3 68.6,227.6 69.2,227.9 69.8,228.2 70.5,228.9 71.1,230.1 71.7,229.8 72.4,230.8 73.0,232.0 73.6,231.5 74.2,231.5 74.9,232.0 75.5,232.4 76.1,231.8 76.8,232.8 77.4,232.7 78.0,233.3 78.7,232.9 79.3,234.1 79.9,233.5 80.6,233.3 81.2,234.4 81.8,233.8 82.5,234.9 83.1,234.0 83.7,233.7 84.4,234.4 85.0,234.7 85.6,233.7 86.2,233.7 86.9,233.3 87.5,233.0 88.1,232.6 88.8,232.1 89.4,232.4 90.0,233.1 90.7,231.9 91.3,231.8 91.9,231.7 92.6,230.7 93.2,231.1 93.8,231.0 94.5,230.3 95.1,231.0 95.7,229.4 96.3,229.5 97.0,228.3 97.6,228.4 98.2,228.1 98.9,227.7 99.5,227.9 100.1,226.8 100.8,226.1 101.4,225.2 102.0,224.9 102.7,224.3 103.3,223.8 103.9,223.9 104.6,223.1 105.2,222.9 105.8,223.0 106.4,222.8 107.1,221.3 107.7,220.7 108.3,220.4 109.0,221.1 109.6,219.7 110.2,219.3 110.9,220.1 111.5,219.3 112.1,218.5 112.8,219.0 113.4,218.2 114.0,218.8 114.7,218.5 115.3,217.7 115.9,218.0 116.6,217.6 117.2,217.5 117.8,217.9 118.4,216.6 119.1,217.2 119.7,217.1 120.3,217.1 121.0,216.7 121.6,217.1 122.2,216.1 122.9,216.6 123.5,216.0 124.1,216.7 124.8,216.8 125.4,216.7 126.0,216.2 126.7,216.9 127.3,216.0 127.9,216.6 128.5,216.1 129.2,216.8 129.8,216.3 130.4,217.2 131.1,217.4 131.7,216.7 132.3,217.3 133.0,216.7 133.6,217.6 134.2,217.2 134.9,218.0 135.5,218.6 136.1,217.3 136.8,218.3 137.4,218.0 138.0,218.6 138.6,219.7 139.3,219.0 139.9,218.9 140.5,219.1 141.2,219.3 141.8,220.2 142.4,220.9 143.1,221.2 143.7,222.3 144.3,222.1 145.0,222.9 145.6,223.8 146.2,225.2 146.9,225.3 147.5,226.7 148.1,226.7 148.7,228.4 149.4,229.3 150.0,230.1 150.6,231.4 151.3,232.4 151.9,233.2 152.5,235.3 153.2,234.4 153.8,236.4 154.4,237.7 155.1,239.6 155.7,240.4 156.3,241.9 157.0,243.3 157.6,245.4 158.2,246.2 158.9,248.5 159.5,249.1 160.1,250.9 160.7,252.2 161.4,253.5 162.0,254.3 162.6,255.3 163.3,257.0 163.9,258.6 164.5,258.3 165.2,260.4 165.8,260.7 166.4,261.1 167.1,262.0 167.7,261.5 168.3,262.5 169.0,262.6 169.6,263.7 170.2,263.5 170.8,264.3 171.5,264.5 172.1,264.5 172.7,264.5 173.4,264.2 174.0,264.0 174.6,264.0 175.3,262.5 175.9,262.4 176.5,260.0 177.2,258.8 177.8,256.4 178.4,256.3 179.1,252.1 179.7,251.1 180.3,249.6 180.9,246.5 181.6,244.4 182.2,242.3 182.8,239.4 183.5,238.7 184.1,236.2 184.7,234.3 185.4,233.0 186.0,230.8 186.6,228.7 187.3,228.4 187.9,226.6 188.5,225.5 189.2,224.8 189.8,225.2 190.4,223.8 191.1,223.7 191.7,224.1 192.3,225.0 192.9,221.3 193.6,222.1 194.2,222.9 194.8,223.2 195.5,220.6 196.1,220.0 196.7,223.3 197.4,219.8 198.0,220.3 198.6,222.0 199.3,222.9 199.9,220.3 200.5,219.9 201.2,218.9 201.8,221.3 202.4,218.6 203.0,220.8 203.7,220.4 204.3,220.4 204.9,219.9 205.6,219.2 206.2,220.2 206.8,218.4 207.5,220.2 208.1,219.0 208.7,221.0 209.4,220.0 210.0,222.3 210.6,220.2 211.3,217.5 211.9,218.4 212.5,221.3 213.1,220.4 213.8,219.0 214.4,217.0 215.0,219.9 215.7,219.0 216.3,218.8 216.9,218.8 217.6,219.5 218.2,218.6" stroke="#3a78c0"/>
<polyline points="47.1,213.9 47.7,214.3 48.4,213.2 49.0,212.6 49.6,213.0 50.3,214.4 50.9,214.8 51.5,215.3 52.2,214.0 52.8,215.5 53.4,215.8 54.0,216.1 54.7,216.3 55.3,217.9 55.9,217.6 56.6,219.0 57.2,219.4 57.8,219.4 58.5,219.1 59.1,220.6 59.7,221.0 60.4,222.5 61.0,223.2 61.6,223.1 62.3,222.5 62.9,223.6 63.5,223.0 64.1,224.5 64.8,223.6 65.4,225.6 66.0,226.2 66.7,225.5 67.3,227.1 67.9,226.3 68.6,227.6 69.2,227.9 69.8,228.0 70.5,228.4 71.1,228.8 71.7,230.2 72.4,230.4 73.0,230.2 73.6,230.6 74.2,231.2 74.9,230.9 75.5,231.8 76.1,231.6 76.8,231.7 77.4,232.3 78.0,232.8 78.7,232.6 79.3,232.9 79.9,233.0 80.6,233.8 81.2,233.2 81.8,232.7 82.5,233.5 83.1,233.3 83.7,233.4 84.4,232.8 85.0,234.0 85.6,232.2 86.2,232.6 86.9,232.8 87.5,232.4 88.1,231.8 88.8,232.0 89.4,231.7 90.0,231.3 90.7,231.6 91.3,231.1 91.9,230.5 92.6,230.7 93.2,230.9 93.8,230.0 94.5,229.1 95.1,229.8 95.7,229.1 96.3,228.8 97.0,228.2 97.6,228.4 98.2,227.8 98.9,226.4 99.5,226.5 100.1,226.6 100.8,225.4 101.4,225.2 102.0,224.0 102.7,225.0 103.3,223.7 103.9,222.8 104.6,223.5 105.2,222.9 105.8,221.9 106.4,221.7 107.1,221.5 107.7,220.9 108.3,221.4 109.0,220.8 109.6,219.3 110.2,220.1 110.9,219.3 111.5,219.3 112.1,218.6 112.8,218.6 113.4,218.4 114.0,217.8 114.7,218.0 115.3,218.7 115.9,218.1 116.6,216.9 117.2,216.9 117.8,217.4 118.4,217.9 119.1,217.4 119.7,215.9 120.3,216.2 121.0,216.1 121.6,217.3 122.2,217.1 122.9,216.6 123.5,216.9 124.1,216.2 124.8,216.7 125.4,215.9 126.0,216.3 126.7,216.5 127.3,215.9 127.9,216.1 128.5,216.3 129.2,216.6 129.8,216.5 130.4,217.5 131.1,217.6 131.7,217.1 132.3,216.8 133.0,216.1 133.6,216.9 134.2,217.6 134.9,217.5 135.5,218.0 136.1,217.6 136.8,217.8 137.4,218.0 138.0,218.0 138.6,217.9 139.3,218.3 139.9,219.4 140.5,218.7 141.2,219.8 141.8,219.5 142.4,219.9 143.1,219.6 143.7,220.9 144.3,221.5 145.0,222.2 145.6,222.5 146.2,223.5 146.9,224.5 147.5,224.7 148.1,224.9 148.7,225.9 149.4,226.8 150.0,228.6 150.6,229.3 151.3,230.1 151.9,232.0 152.5,231.5 153.2,234.2 153.8,234.5 154.4,236.5 155.1,237.2 155.7,238.2 156.3,239.7 157.0,241.8 157.6,243.2 158.2,243.9 158.9,245.8 159.5,247.2 160.1,248.3 160.7,251.3 161.4,251.5 162.0,252.4 162.6,253.4 163.3,255.0 163.9,256.7 164.5,256.9 165.2,257.1 165.8,258.9 166.4,259.5 167.1,259.7 167.7,260.3 168.3,261.5 169.0,262.0 169.6,261.8 170.2,261.8 170.8,261.6 171.5,262.2 172.1,262.0 172.7,261.5 173.4,260.5 174.0,260.9 174.6,261.2 175.3,259.4 175.9,258.7 176.5,257.2 177.2,255.5 177.8,254.0 178.4,253.3 179.1,251.3 179.7,248.6 180.3,246.3 180.9,243.6 181.6,242.3 182.2,240.7 182.8,238.7 183.5,236.8 184.1,235.1 184.7,233.3 185.4,231.4 186.0,229.4 186.6,228.4 187.3,226.7 187.9,225.8 188.5,225.0 189.2,224.4 189.8,223.5 190.4,223.1 191.1,224.0 191.7,221.1 192.3,220.7 192.9,221.1 193.6,223.5 194.2,221.4 194.8,221.0 195.5,220.7 196.1,223.0 196.7,221.8 197.4,221.8 198.0,219.4 198.6,221.3 199.3,219.4 199.9,220.4 200.5,218.5 201.2,220.3 201.8,222.4 202.4,220.5 203.0,219.9 203.7,218.9 204.3,219.3 204.9,220.6 205.6,222.1 206.2,220.3 206.8,220.3 207.5,218.7 208.1,218.2 208.7,221.1 209.4,222.2 210.0,220.4 210.6,219.4 211.3,220.5 211.9,220.1 212.5,217.8 213.1,218.3 213.8,222.1 214.4,218.0 215.0,219.4 215.7,220.0 216.3,217.8 216.9,218.6 217.6,215.1 218.2,218.4" stroke="#3282ca"/>
<polyline points="47.1,213.0 47.7,213.3 48.4,212.3 49.0,213.4 49.6,213.3 50.3,214.8 50.9,214.0 51.5,215.6 52.2,214.4 52.8,213.9 53.4,215.5 54.0,215.7 54.7,216.4 55.3,217.2 55.9,218.3 56.6,218.9 57.2,219.3 57.8,219.1 58.5,219.8 59.1,221.6 59.7,220.9 60.4,220.9 61.0,222.6 61.6,223.5 62.3,223.0 62.9,222.7 63.5,223.8 64.1,222.9 64.8,224.5 65.4,226.4 66.0,226.4 66.7,226.6 67.3,226.2 67.9,226.9 68.6,227.0 69.2,227.0 69.8,227.8 70.5,227.3 71.1,228.5 71.7,228.9 72.4,229.2 73.0,229.4 73.6,229.9 74.2,230.6 74.9,230.9 75.5,230.9 76.1,231.1 76.8,231.7 77.4,232.0 78.0,232.1 78.7,231.9 79.3,232.5 79.9,232.9 80.6,232.7 81.2,232.8 81.8,232.3 82.5,232.8 83.1,232.7 83.7,231.6 84.4,232.2 85.0,232.7 85.6,231.6 86.2,232.2 86.9,232.3 87.5,231.5 88.1,232.3 88.8,231.5 89.4,231.1 90.0,230.9 90.7,231.3 91.3,231.0 91.9,230.6 92.6,229.8 93.2,230.9 93.8,229.4 94.5,229.3 95.1,228.5 95.7,229.3 96.3,227.9 97.0,228.5 97.6,227.6 98.2,227.5 98.9,228.0 99.5,226.4 100.1,225.7 100.8,225.0 101.4,225.1 102.0,224.8 102.7,223.5 103.3,223.5 103.9,222.5 104.6,221.9 105.2,222.3 105.8,221.9 106.4,221.8 107.1,222.0 107.7,220.7 108.3,220.1 109.0,219.6 109.6,219.8 110.2,218.7 110.9,219.5 111.5,219.0 112.1,219.0 112.8,218.8 113.4,218.5 114.0,218.5 114.7,218.2 115.3,217.7 115.9,217.6 116.6,217.9 117.2,217.1 117.8,217.5 118.4,216.8 119.1,216.9 119.7,217.7 120.3,217.1 121.0,216.1 121.6,216.7 122.2,216.6 122.9,216.4 123.5,216.1 124.1,215.9 124.8,216.2 125.4,215.3 126.0,216.3 126.7,216.3 127.3,216.2 127.9,216.1 128.5,215.5 129.2,215.2 129.8,216.4 130.4,216.4 131.1,216.1 131.7,216.6 132.3,216.2 133.0,217.1 133.6,216.4 134.2,217.8 134.9,216.7 135.5,216.8 136.1,216.1 136.8,217.8 137.4,217.2 138.0,217.4 138.6,218.3 139.3,217.9 139.9,218.6 140.5,218.9 141.2,219.3 141.8,218.9 142.4,219.6 143.1,220.3 143.7,219.7 144.3,221.1 145.0,220.7 145.6,221.6 146.2,222.8 146.9,223.8 147.5,224.2 148.1,225.1 148.7,225.3 149.4,226.0 150.0,225.5 150.6,228.4 151.3,228.6 151.9,229.1 152.5,230.0 153.2,231.0 153.8,233.2 154.4,233.6 155.1,236.6 155.7,236.7 156.3,237.6 157.0,239.2 157.6,241.6 158.2,242.8 158.9,244.9 159.5,245.7 160.1,247.5 160.7,248.3 161.4,250.2 162.0,250.9 162.6,252.5 163.3,253.7 163.9,253.8 164.5,255.0 165.2,256.8 165.8,256.1 166.4,256.8 167.1,257.0 167.7,257.8 168.3,259.2 169.0,258.8 169.6,260.0 170.2,259.7 170.8,259.6 171.5,258.8 172.1,259.5 172.7,259.4 173.4,258.8 174.0,259.1 174.6,257.5 175.3,257.1 175.9,256.6 176.5,255.1 177.2,253.5 177.8,251.6 178.4,249.6 179.1,248.6 179.7,246.6 180.3,243.6 180.9,240.9 181.6,239.6 182.2,238.4 182.8,236.7 183.5,234.2 184.1,232.5 184.7,231.4 185.4,228.9 186.0,226.9 186.6,227.1 187.3,225.8 187.9,224.8 188.5,224.4 189.2,222.9 189.8,223.4 190.4,222.0 191.1,221.8 191.7,222.3 192.3,223.6 192.9,221.3 193.6,221.9 194.2,218.5 194.8,223.2 195.5,223.0 196.1,219.6 196.7,218.8 197.4,221.6 198.0,218.7 198.6,222.9 199.3,219.0 199.9,221.5 200.5,220.4 201.2,217.9 201.8,218.7 202.4,220.2 203.0,219.8 203.7,217.1 204.3,219.6 204.9,220.8 205.6,219.8 206.2,221.4 206.8,221.2 207.5,220.5 208.1,217.5 208.7,220.0 209.4,218.7 210.0,216.7 210.6,216.5 211.3,221.3 211.9,219.3 212.5,220.1 213.1,218.0 213.8,218.0 214.4,218.4 215.0,218.7 215.7,219.6 216.3,221.2 216.9,217.6 217.6,219.0 218.2,218.8" stroke="#358cd2"/>
</g>
<rect x="49.3" y="186.4" width="167.9" height="135" fill="none" stroke="#111" stroke-width="1.1"/>
<line x1="49.3" y1="321.4" x2="49.3" y2="323.6" stroke="#111" stroke-width="1.0" />
<text x="49.9" y="336.4" font-size="11.3" text-anchor="middle" font-weight="bold" >2.2</text>
<line x1="97.4" y1="321.4" x2="97.4" y2="323.6" stroke="#111" stroke-width="1.0" />
<text x="98" y="336.4" font-size="11.3" text-anchor="middle" font-weight="bold" >2.0</text>
<line x1="145.5" y1="321.4" x2="145.5" y2="323.6" stroke="#111" stroke-width="1.0" />
<text x="146.1" y="336.4" font-size="11.3" text-anchor="middle" font-weight="bold" >1.8</text>
<line x1="193.6" y1="321.4" x2="193.6" y2="323.6" stroke="#111" stroke-width="1.0" />
<text x="194.2" y="336.4" font-size="11.3" text-anchor="middle" font-weight="bold" >1.6</text>
<line x1="73.35" y1="321.4" x2="73.35" y2="323" stroke="#111" stroke-width="1.0" />
<line x1="121.45" y1="321.4" x2="121.45" y2="323" stroke="#111" stroke-width="1.0" />
<line x1="169.55" y1="321.4" x2="169.55" y2="323" stroke="#111" stroke-width="1.0" />
<line x1="47.1" y1="186.4" x2="49.3" y2="186.4" stroke="#111" stroke-width="1.0" />
<text x="44.3" y="190.4" font-size="11.3" text-anchor="end" font-weight="bold" >0.01</text>
<line x1="47.1" y1="220.1" x2="49.3" y2="220.1" stroke="#111" stroke-width="1.0" />
<text x="44.3" y="224.1" font-size="11.3" text-anchor="end" font-weight="bold" >0.00</text>
<line x1="47.1" y1="253.8" x2="49.3" y2="253.8" stroke="#111" stroke-width="1.0" />
<text x="44.3" y="257.8" font-size="11.3" text-anchor="end" font-weight="bold" >&#8722;0.01</text>
<line x1="47.1" y1="287.5" x2="49.3" y2="287.5" stroke="#111" stroke-width="1.0" />
<text x="44.3" y="291.5" font-size="11.3" text-anchor="end" font-weight="bold" >&#8722;0.02</text>
<line x1="47.1" y1="321.2" x2="49.3" y2="321.2" stroke="#111" stroke-width="1.0" />
<text x="44.3" y="325.2" font-size="11.3" text-anchor="end" font-weight="bold" >&#8722;0.03</text>
<line x1="47.7" y1="203.25" x2="49.3" y2="203.25" stroke="#111" stroke-width="1.0" />
<line x1="47.7" y1="236.95" x2="49.3" y2="236.95" stroke="#111" stroke-width="1.0" />
<line x1="47.7" y1="270.65" x2="49.3" y2="270.65" stroke="#111" stroke-width="1.0" />
<line x1="47.7" y1="304.35" x2="49.3" y2="304.35" stroke="#111" stroke-width="1.0" />
<text x="132.4" y="349" font-size="11.7" text-anchor="middle" font-weight="bold" >Photo energy (eV)</text>
<text x="8.9" y="253.5" font-size="11.6" text-anchor="middle" font-weight="bold" transform="rotate(-90 8.9 253.5)" dy="0">&#916;A (mOD)</text>
<text x="0.8" y="189.3" font-size="15" text-anchor="start" font-weight="bold" >b</text>
<text x="212.3" y="200.6" font-size="10" font-weight="bold" text-anchor="end">PVK+TPPC/C<tspan font-size="7.3" dy="2.3">60</tspan></text>
<line x1="56" y1="256.4" x2="70.5" y2="256.4" stroke="#e41e2e" stroke-width="1.3" />
<text x="73.3" y="259.3" font-size="8" text-anchor="start" font-weight="bold" >1.2 ps</text>
<line x1="102.5" y1="256.4" x2="117" y2="256.4" stroke="#e2243a" stroke-width="1.3" />
<text x="119.8" y="259.3" font-size="8" text-anchor="start" font-weight="bold" >1.6 ps</text>
<line x1="56" y1="265.6" x2="70.5" y2="265.6" stroke="#d82a44" stroke-width="1.3" />
<text x="73.3" y="268.5" font-size="8" text-anchor="start" font-weight="bold" >2.2 ps</text>
<line x1="102.5" y1="265.6" x2="117" y2="265.6" stroke="#c8304e" stroke-width="1.3" />
<text x="119.8" y="268.5" font-size="8" text-anchor="start" font-weight="bold" >3.1 ps</text>
<line x1="56" y1="274.8" x2="70.5" y2="274.8" stroke="#b6385c" stroke-width="1.3" />
<text x="73.3" y="277.7" font-size="8" text-anchor="start" font-weight="bold" >5.0 ps</text>
<line x1="102.5" y1="274.8" x2="117" y2="274.8" stroke="#a4406c" stroke-width="1.3" />
<text x="119.8" y="277.7" font-size="8" text-anchor="start" font-weight="bold" >7.2 ps</text>
<line x1="56" y1="284" x2="70.5" y2="284" stroke="#8c4a82" stroke-width="1.3" />
<text x="73.3" y="286.9" font-size="8" text-anchor="start" font-weight="bold" >10.4 ps</text>
<line x1="102.5" y1="284" x2="117" y2="284" stroke="#745492" stroke-width="1.3" />
<text x="119.8" y="286.9" font-size="8" text-anchor="start" font-weight="bold" >15.5 ps</text>
<line x1="56" y1="293.2" x2="70.5" y2="293.2" stroke="#5c60a4" stroke-width="1.3" />
<text x="73.3" y="296.1" font-size="8" text-anchor="start" font-weight="bold" >18.4 ps</text>
<line x1="102.5" y1="293.2" x2="117" y2="293.2" stroke="#4a6cb4" stroke-width="1.3" />
<text x="119.8" y="296.1" font-size="8" text-anchor="start" font-weight="bold" >20.6 ps</text>
<line x1="56" y1="302.4" x2="70.5" y2="302.4" stroke="#3a78c0" stroke-width="1.3" />
<text x="73.3" y="305.3" font-size="8" text-anchor="start" font-weight="bold" >40.1 ps</text>
<line x1="102.5" y1="302.4" x2="117" y2="302.4" stroke="#3282ca" stroke-width="1.3" />
<text x="119.8" y="305.3" font-size="8" text-anchor="start" font-weight="bold" >62.2 ps</text>
<line x1="56" y1="311.6" x2="70.5" y2="311.6" stroke="#358cd2" stroke-width="1.3" />
<text x="73.3" y="314.5" font-size="8" text-anchor="start" font-weight="bold" >81.7 ps</text>
<line x1="173.5" y1="294.5" x2="173.5" y2="233.6" stroke="#000" stroke-width="1.1" />
<path d="M171.1,234.6 L173.5,229.1 L175.9,234.6 Z" fill="#000"/>
<text x="173.2" y="228.2" font-size="8.5" text-anchor="middle" font-weight="bold" >81.7 ps</text>
<text x="173.9" y="303.2" font-size="8.5" text-anchor="middle" font-weight="bold" >1.2 ps</text>
<clipPath id="clc"><rect x="271.2" y="5.5" width="169.8" height="133.5"/></clipPath>
<rect x="309.5" y="5.5" width="48.5" height="133.5" fill="#cde5ea"/>
<g clip-path="url(#clc)" stroke-width="1.1">
<g stroke="#e41e2e" fill="#f299a0">
<circle cx="272.7" cy="120.5" r="1.85"/>
<circle cx="274.4" cy="121.6" r="1.85"/>
<circle cx="276.1" cy="120.5" r="1.85"/>
<circle cx="277.8" cy="120.9" r="1.85"/>
<circle cx="279.6" cy="119.8" r="1.85"/>
<circle cx="281.3" cy="121.6" r="1.85"/>
<circle cx="283.0" cy="118.9" r="1.85"/>
<circle cx="284.7" cy="120.8" r="1.85"/>
<circle cx="286.4" cy="120.5" r="1.85"/>
<circle cx="288.1" cy="120.7" r="1.85"/>
<circle cx="289.9" cy="120.2" r="1.85"/>
<circle cx="291.6" cy="118.1" r="1.85"/>
<circle cx="293.3" cy="119.4" r="1.85"/>
<circle cx="295.0" cy="120.1" r="1.85"/>
<circle cx="296.7" cy="119.0" r="1.85"/>
<circle cx="298.4" cy="118.2" r="1.85"/>
<circle cx="300.2" cy="117.1" r="1.85"/>
<circle cx="301.9" cy="117.5" r="1.85"/>
<circle cx="303.6" cy="116.2" r="1.85"/>
<circle cx="305.3" cy="113.0" r="1.85"/>
<circle cx="307.0" cy="114.6" r="1.85"/>
<circle cx="308.7" cy="113.4" r="1.85"/>
<circle cx="310.4" cy="113.6" r="1.85"/>
<circle cx="312.2" cy="110.9" r="1.85"/>
<circle cx="313.9" cy="111.2" r="1.85"/>
<circle cx="315.6" cy="108.3" r="1.85"/>
<circle cx="317.3" cy="107.8" r="1.85"/>
<circle cx="319.0" cy="107.0" r="1.85"/>
<circle cx="320.7" cy="106.9" r="1.85"/>
<circle cx="322.5" cy="105.4" r="1.85"/>
<circle cx="324.2" cy="104.0" r="1.85"/>
<circle cx="325.9" cy="102.1" r="1.85"/>
<circle cx="327.6" cy="100.9" r="1.85"/>
<circle cx="329.3" cy="99.6" r="1.85"/>
<circle cx="331.0" cy="97.5" r="1.85"/>
<circle cx="332.8" cy="96.0" r="1.85"/>
<circle cx="334.5" cy="94.7" r="1.85"/>
<circle cx="336.2" cy="91.9" r="1.85"/>
<circle cx="337.9" cy="90.0" r="1.85"/>
<circle cx="339.6" cy="89.4" r="1.85"/>
<circle cx="341.3" cy="85.1" r="1.85"/>
<circle cx="343.0" cy="84.5" r="1.85"/>
<circle cx="344.8" cy="81.6" r="1.85"/>
<circle cx="346.5" cy="78.8" r="1.85"/>
<circle cx="348.2" cy="79.3" r="1.85"/>
<circle cx="349.9" cy="75.3" r="1.85"/>
<circle cx="351.6" cy="72.5" r="1.85"/>
<circle cx="353.3" cy="69.7" r="1.85"/>
<circle cx="355.1" cy="67.3" r="1.85"/>
<circle cx="356.8" cy="64.3" r="1.85"/>
<circle cx="358.5" cy="63.7" r="1.85"/>
<circle cx="360.2" cy="60.4" r="1.85"/>
<circle cx="361.9" cy="56.2" r="1.85"/>
<circle cx="363.6" cy="55.5" r="1.85"/>
<circle cx="365.4" cy="51.4" r="1.85"/>
<circle cx="367.1" cy="48.4" r="1.85"/>
<circle cx="368.8" cy="45.4" r="1.85"/>
<circle cx="370.5" cy="42.5" r="1.85"/>
<circle cx="372.2" cy="40.7" r="1.85"/>
<circle cx="373.9" cy="39.5" r="1.85"/>
<circle cx="375.7" cy="37.8" r="1.85"/>
<circle cx="377.4" cy="35.0" r="1.85"/>
<circle cx="379.1" cy="33.4" r="1.85"/>
<circle cx="380.8" cy="32.2" r="1.85"/>
<circle cx="382.5" cy="31.2" r="1.85"/>
<circle cx="384.2" cy="30.1" r="1.85"/>
<circle cx="385.9" cy="30.3" r="1.85"/>
<circle cx="387.7" cy="28.3" r="1.85"/>
<circle cx="389.4" cy="26.8" r="1.85"/>
<circle cx="391.1" cy="27.8" r="1.85"/>
<circle cx="392.8" cy="25.8" r="1.85"/>
<circle cx="394.5" cy="25.6" r="1.85"/>
<circle cx="396.2" cy="24.8" r="1.85"/>
<circle cx="398.0" cy="27.6" r="1.85"/>
<circle cx="399.7" cy="29.1" r="1.85"/>
<circle cx="401.4" cy="32.1" r="1.85"/>
<circle cx="403.1" cy="34.6" r="1.85"/>
<circle cx="404.8" cy="38.0" r="1.85"/>
<circle cx="406.5" cy="41.9" r="1.85"/>
<circle cx="408.3" cy="43.9" r="1.85"/>
<circle cx="410.0" cy="48.7" r="1.85"/>
<circle cx="411.7" cy="52.4" r="1.85"/>
<circle cx="413.4" cy="57.8" r="1.85"/>
<circle cx="415.1" cy="62.1" r="1.85"/>
<circle cx="416.8" cy="65.7" r="1.85"/>
<circle cx="418.5" cy="66.6" r="1.85"/>
<circle cx="420.3" cy="70.9" r="1.85"/>
<circle cx="422.0" cy="76.9" r="1.85"/>
<circle cx="423.7" cy="79.8" r="1.85"/>
<circle cx="425.4" cy="83.9" r="1.85"/>
<circle cx="427.1" cy="88.8" r="1.85"/>
<circle cx="428.8" cy="92.0" r="1.85"/>
<circle cx="430.6" cy="93.7" r="1.85"/>
<circle cx="432.3" cy="96.8" r="1.85"/>
<circle cx="434.0" cy="99.3" r="1.85"/>
<circle cx="435.7" cy="102.2" r="1.85"/>
<circle cx="437.4" cy="104.5" r="1.85"/>
<circle cx="439.1" cy="105.8" r="1.85"/>
<circle cx="440.9" cy="107.7" r="1.85"/>
</g>
<g stroke="#e2243a" fill="#f19ca6">
<circle cx="272.7" cy="119.9" r="1.85"/>
<circle cx="274.4" cy="121.2" r="1.85"/>
<circle cx="276.1" cy="120.9" r="1.85"/>
<circle cx="277.8" cy="121.3" r="1.85"/>
<circle cx="279.6" cy="121.6" r="1.85"/>
<circle cx="281.3" cy="120.9" r="1.85"/>
<circle cx="283.0" cy="121.0" r="1.85"/>
<circle cx="284.7" cy="121.2" r="1.85"/>
<circle cx="286.4" cy="119.7" r="1.85"/>
<circle cx="288.1" cy="118.6" r="1.85"/>
<circle cx="289.9" cy="119.9" r="1.85"/>
<circle cx="291.6" cy="120.0" r="1.85"/>
<circle cx="293.3" cy="120.4" r="1.85"/>
<circle cx="295.0" cy="120.7" r="1.85"/>
<circle cx="296.7" cy="118.6" r="1.85"/>
<circle cx="298.4" cy="118.2" r="1.85"/>
<circle cx="300.2" cy="118.9" r="1.85"/>
<circle cx="301.9" cy="117.5" r="1.85"/>
<circle cx="303.6" cy="117.5" r="1.85"/>
<circle cx="305.3" cy="114.6" r="1.85"/>
<circle cx="307.0" cy="114.8" r="1.85"/>
<circle cx="308.7" cy="113.6" r="1.85"/>
<circle cx="310.4" cy="111.6" r="1.85"/>
<circle cx="312.2" cy="114.1" r="1.85"/>
<circle cx="313.9" cy="110.9" r="1.85"/>
<circle cx="315.6" cy="110.1" r="1.85"/>
<circle cx="317.3" cy="109.6" r="1.85"/>
<circle cx="319.0" cy="108.2" r="1.85"/>
<circle cx="320.7" cy="105.9" r="1.85"/>
<circle cx="322.5" cy="106.2" r="1.85"/>
<circle cx="324.2" cy="104.8" r="1.85"/>
<circle cx="325.9" cy="101.3" r="1.85"/>
<circle cx="327.6" cy="100.4" r="1.85"/>
<circle cx="329.3" cy="99.3" r="1.85"/>
<circle cx="331.0" cy="97.5" r="1.85"/>
<circle cx="332.8" cy="96.6" r="1.85"/>
<circle cx="334.5" cy="95.3" r="1.85"/>
<circle cx="336.2" cy="93.4" r="1.85"/>
<circle cx="337.9" cy="91.2" r="1.85"/>
<circle cx="339.6" cy="90.0" r="1.85"/>
<circle cx="341.3" cy="89.0" r="1.85"/>
<circle cx="343.0" cy="85.7" r="1.85"/>
<circle cx="344.8" cy="83.1" r="1.85"/>
<circle cx="346.5" cy="81.2" r="1.85"/>
<circle cx="348.2" cy="78.2" r="1.85"/>
<circle cx="349.9" cy="76.2" r="1.85"/>
<circle cx="351.6" cy="73.2" r="1.85"/>
<circle cx="353.3" cy="71.4" r="1.85"/>
<circle cx="355.1" cy="68.9" r="1.85"/>
<circle cx="356.8" cy="65.5" r="1.85"/>
<circle cx="358.5" cy="62.4" r="1.85"/>
<circle cx="360.2" cy="60.8" r="1.85"/>
<circle cx="361.9" cy="58.2" r="1.85"/>
<circle cx="363.6" cy="53.5" r="1.85"/>
<circle cx="365.4" cy="52.2" r="1.85"/>
<circle cx="367.1" cy="48.8" r="1.85"/>
<circle cx="368.8" cy="47.0" r="1.85"/>
<circle cx="370.5" cy="43.9" r="1.85"/>
<circle cx="372.2" cy="40.5" r="1.85"/>
<circle cx="373.9" cy="38.1" r="1.85"/>
<circle cx="375.7" cy="38.8" r="1.85"/>
<circle cx="377.4" cy="37.3" r="1.85"/>
<circle cx="379.1" cy="37.3" r="1.85"/>
<circle cx="380.8" cy="32.6" r="1.85"/>
<circle cx="382.5" cy="30.4" r="1.85"/>
<circle cx="384.2" cy="30.3" r="1.85"/>
<circle cx="385.9" cy="29.7" r="1.85"/>
<circle cx="387.7" cy="27.8" r="1.85"/>
<circle cx="389.4" cy="28.5" r="1.85"/>
<circle cx="391.1" cy="26.4" r="1.85"/>
<circle cx="392.8" cy="25.1" r="1.85"/>
<circle cx="394.5" cy="25.2" r="1.85"/>
<circle cx="396.2" cy="26.1" r="1.85"/>
<circle cx="398.0" cy="27.8" r="1.85"/>
<circle cx="399.7" cy="29.1" r="1.85"/>
<circle cx="401.4" cy="31.7" r="1.85"/>
<circle cx="403.1" cy="31.9" r="1.85"/>
<circle cx="404.8" cy="35.4" r="1.85"/>
<circle cx="406.5" cy="40.2" r="1.85"/>
<circle cx="408.3" cy="44.4" r="1.85"/>
<circle cx="410.0" cy="48.4" r="1.85"/>
<circle cx="411.7" cy="53.2" r="1.85"/>
<circle cx="413.4" cy="56.0" r="1.85"/>
<circle cx="415.1" cy="59.9" r="1.85"/>
<circle cx="416.8" cy="63.8" r="1.85"/>
<circle cx="418.5" cy="68.0" r="1.85"/>
<circle cx="420.3" cy="74.0" r="1.85"/>
<circle cx="422.0" cy="76.0" r="1.85"/>
<circle cx="423.7" cy="81.1" r="1.85"/>
<circle cx="425.4" cy="85.5" r="1.85"/>
<circle cx="427.1" cy="86.1" r="1.85"/>
<circle cx="428.8" cy="92.0" r="1.85"/>
<circle cx="430.6" cy="94.8" r="1.85"/>
<circle cx="432.3" cy="97.8" r="1.85"/>
<circle cx="434.0" cy="101.0" r="1.85"/>
<circle cx="435.7" cy="101.3" r="1.85"/>
<circle cx="437.4" cy="106.4" r="1.85"/>
<circle cx="439.1" cy="106.1" r="1.85"/>
<circle cx="440.9" cy="108.4" r="1.85"/>
</g>
<g stroke="#d82a44" fill="#ed9faa">
<circle cx="272.7" cy="120.4" r="1.85"/>
<circle cx="274.4" cy="120.8" r="1.85"/>
<circle cx="276.1" cy="121.4" r="1.85"/>
<circle cx="277.8" cy="122.7" r="1.85"/>
<circle cx="279.6" cy="120.6" r="1.85"/>
<circle cx="281.3" cy="120.3" r="1.85"/>
<circle cx="283.0" cy="120.4" r="1.85"/>
<circle cx="284.7" cy="121.1" r="1.85"/>
<circle cx="286.4" cy="120.2" r="1.85"/>
<circle cx="288.1" cy="121.2" r="1.85"/>
<circle cx="289.9" cy="120.2" r="1.85"/>
<circle cx="291.6" cy="120.0" r="1.85"/>
<circle cx="293.3" cy="120.3" r="1.85"/>
<circle cx="295.0" cy="120.7" r="1.85"/>
<circle cx="296.7" cy="119.7" r="1.85"/>
<circle cx="298.4" cy="119.9" r="1.85"/>
<circle cx="300.2" cy="119.7" r="1.85"/>
<circle cx="301.9" cy="117.2" r="1.85"/>
<circle cx="303.6" cy="117.4" r="1.85"/>
<circle cx="305.3" cy="116.9" r="1.85"/>
<circle cx="307.0" cy="115.9" r="1.85"/>
<circle cx="308.7" cy="114.2" r="1.85"/>
<circle cx="310.4" cy="114.0" r="1.85"/>
<circle cx="312.2" cy="113.5" r="1.85"/>
<circle cx="313.9" cy="111.8" r="1.85"/>
<circle cx="315.6" cy="111.0" r="1.85"/>
<circle cx="317.3" cy="110.9" r="1.85"/>
<circle cx="319.0" cy="109.9" r="1.85"/>
<circle cx="320.7" cy="106.7" r="1.85"/>
<circle cx="322.5" cy="106.8" r="1.85"/>
<circle cx="324.2" cy="104.1" r="1.85"/>
<circle cx="325.9" cy="103.2" r="1.85"/>
<circle cx="327.6" cy="102.3" r="1.85"/>
<circle cx="329.3" cy="100.9" r="1.85"/>
<circle cx="331.0" cy="97.8" r="1.85"/>
<circle cx="332.8" cy="98.2" r="1.85"/>
<circle cx="334.5" cy="96.4" r="1.85"/>
<circle cx="336.2" cy="95.0" r="1.85"/>
<circle cx="337.9" cy="92.7" r="1.85"/>
<circle cx="339.6" cy="91.4" r="1.85"/>
<circle cx="341.3" cy="88.5" r="1.85"/>
<circle cx="343.0" cy="87.6" r="1.85"/>
<circle cx="344.8" cy="84.0" r="1.85"/>
<circle cx="346.5" cy="81.9" r="1.85"/>
<circle cx="348.2" cy="79.7" r="1.85"/>
<circle cx="349.9" cy="78.1" r="1.85"/>
<circle cx="351.6" cy="74.1" r="1.85"/>
<circle cx="353.3" cy="70.9" r="1.85"/>
<circle cx="355.1" cy="70.1" r="1.85"/>
<circle cx="356.8" cy="67.9" r="1.85"/>
<circle cx="358.5" cy="63.9" r="1.85"/>
<circle cx="360.2" cy="61.9" r="1.85"/>
<circle cx="361.9" cy="58.7" r="1.85"/>
<circle cx="363.6" cy="55.4" r="1.85"/>
<circle cx="365.4" cy="54.2" r="1.85"/>
<circle cx="367.1" cy="49.8" r="1.85"/>
<circle cx="368.8" cy="48.7" r="1.85"/>
<circle cx="370.5" cy="46.4" r="1.85"/>
<circle cx="372.2" cy="43.3" r="1.85"/>
<circle cx="373.9" cy="39.5" r="1.85"/>
<circle cx="375.7" cy="39.4" r="1.85"/>
<circle cx="377.4" cy="36.7" r="1.85"/>
<circle cx="379.1" cy="36.3" r="1.85"/>
<circle cx="380.8" cy="33.4" r="1.85"/>
<circle cx="382.5" cy="32.3" r="1.85"/>
<circle cx="384.2" cy="30.3" r="1.85"/>
<circle cx="385.9" cy="29.9" r="1.85"/>
<circle cx="387.7" cy="29.0" r="1.85"/>
<circle cx="389.4" cy="29.7" r="1.85"/>
<circle cx="391.1" cy="27.0" r="1.85"/>
<circle cx="392.8" cy="25.8" r="1.85"/>
<circle cx="394.5" cy="26.1" r="1.85"/>
<circle cx="396.2" cy="26.5" r="1.85"/>
<circle cx="398.0" cy="26.9" r="1.85"/>
<circle cx="399.7" cy="28.0" r="1.85"/>
<circle cx="401.4" cy="31.5" r="1.85"/>
<circle cx="403.1" cy="33.3" r="1.85"/>
<circle cx="404.8" cy="35.9" r="1.85"/>
<circle cx="406.5" cy="39.8" r="1.85"/>
<circle cx="408.3" cy="45.1" r="1.85"/>
<circle cx="410.0" cy="50.3" r="1.85"/>
<circle cx="411.7" cy="52.4" r="1.85"/>
<circle cx="413.4" cy="55.9" r="1.85"/>
<circle cx="415.1" cy="59.0" r="1.85"/>
<circle cx="416.8" cy="63.9" r="1.85"/>
<circle cx="418.5" cy="68.8" r="1.85"/>
<circle cx="420.3" cy="71.6" r="1.85"/>
<circle cx="422.0" cy="76.0" r="1.85"/>
<circle cx="423.7" cy="80.6" r="1.85"/>
<circle cx="425.4" cy="85.4" r="1.85"/>
<circle cx="427.1" cy="89.7" r="1.85"/>
<circle cx="428.8" cy="92.3" r="1.85"/>
<circle cx="430.6" cy="95.2" r="1.85"/>
<circle cx="432.3" cy="97.8" r="1.85"/>
<circle cx="434.0" cy="100.6" r="1.85"/>
<circle cx="435.7" cy="102.9" r="1.85"/>
<circle cx="437.4" cy="103.6" r="1.85"/>
<circle cx="439.1" cy="107.0" r="1.85"/>
<circle cx="440.9" cy="107.2" r="1.85"/>
</g>
<g stroke="#c8304e" fill="#e6a1af">
<circle cx="272.7" cy="122.4" r="1.85"/>
<circle cx="274.4" cy="122.4" r="1.85"/>
<circle cx="276.1" cy="122.2" r="1.85"/>
<circle cx="277.8" cy="123.2" r="1.85"/>
<circle cx="279.6" cy="120.2" r="1.85"/>
<circle cx="281.3" cy="121.3" r="1.85"/>
<circle cx="283.0" cy="120.8" r="1.85"/>
<circle cx="284.7" cy="119.8" r="1.85"/>
<circle cx="286.4" cy="120.8" r="1.85"/>
<circle cx="288.1" cy="119.7" r="1.85"/>
<circle cx="289.9" cy="122.9" r="1.85"/>
<circle cx="291.6" cy="119.7" r="1.85"/>
<circle cx="293.3" cy="120.4" r="1.85"/>
<circle cx="295.0" cy="120.9" r="1.85"/>
<circle cx="296.7" cy="119.2" r="1.85"/>
<circle cx="298.4" cy="119.7" r="1.85"/>
<circle cx="300.2" cy="119.9" r="1.85"/>
<circle cx="301.9" cy="120.4" r="1.85"/>
<circle cx="303.6" cy="116.5" r="1.85"/>
<circle cx="305.3" cy="119.5" r="1.85"/>
<circle cx="307.0" cy="116.3" r="1.85"/>
<circle cx="308.7" cy="114.2" r="1.85"/>
<circle cx="310.4" cy="114.2" r="1.85"/>
<circle cx="312.2" cy="114.4" r="1.85"/>
<circle cx="313.9" cy="113.3" r="1.85"/>
<circle cx="315.6" cy="112.7" r="1.85"/>
<circle cx="317.3" cy="111.0" r="1.85"/>
<circle cx="319.0" cy="110.2" r="1.85"/>
<circle cx="320.7" cy="110.1" r="1.85"/>
<circle cx="322.5" cy="109.0" r="1.85"/>
<circle cx="324.2" cy="105.4" r="1.85"/>
<circle cx="325.9" cy="106.1" r="1.85"/>
<circle cx="327.6" cy="104.5" r="1.85"/>
<circle cx="329.3" cy="100.1" r="1.85"/>
<circle cx="331.0" cy="101.3" r="1.85"/>
<circle cx="332.8" cy="100.2" r="1.85"/>
<circle cx="334.5" cy="98.3" r="1.85"/>
<circle cx="336.2" cy="95.1" r="1.85"/>
<circle cx="337.9" cy="94.6" r="1.85"/>
<circle cx="339.6" cy="92.2" r="1.85"/>
<circle cx="341.3" cy="92.0" r="1.85"/>
<circle cx="343.0" cy="88.5" r="1.85"/>
<circle cx="344.8" cy="85.8" r="1.85"/>
<circle cx="346.5" cy="83.6" r="1.85"/>
<circle cx="348.2" cy="80.1" r="1.85"/>
<circle cx="349.9" cy="78.7" r="1.85"/>
<circle cx="351.6" cy="79.2" r="1.85"/>
<circle cx="353.3" cy="75.6" r="1.85"/>
<circle cx="355.1" cy="72.4" r="1.85"/>
<circle cx="356.8" cy="69.2" r="1.85"/>
<circle cx="358.5" cy="66.2" r="1.85"/>
<circle cx="360.2" cy="62.9" r="1.85"/>
<circle cx="361.9" cy="62.1" r="1.85"/>
<circle cx="363.6" cy="59.6" r="1.85"/>
<circle cx="365.4" cy="54.2" r="1.85"/>
<circle cx="367.1" cy="53.0" r="1.85"/>
<circle cx="368.8" cy="51.6" r="1.85"/>
<circle cx="370.5" cy="47.9" r="1.85"/>
<circle cx="372.2" cy="45.0" r="1.85"/>
<circle cx="373.9" cy="43.4" r="1.85"/>
<circle cx="375.7" cy="41.4" r="1.85"/>
<circle cx="377.4" cy="37.7" r="1.85"/>
<circle cx="379.1" cy="37.8" r="1.85"/>
<circle cx="380.8" cy="34.9" r="1.85"/>
<circle cx="382.5" cy="33.4" r="1.85"/>
<circle cx="384.2" cy="32.5" r="1.85"/>
<circle cx="385.9" cy="28.9" r="1.85"/>
<circle cx="387.7" cy="30.8" r="1.85"/>
<circle cx="389.4" cy="26.4" r="1.85"/>
<circle cx="391.1" cy="28.4" r="1.85"/>
<circle cx="392.8" cy="26.9" r="1.85"/>
<circle cx="394.5" cy="26.1" r="1.85"/>
<circle cx="396.2" cy="25.7" r="1.85"/>
<circle cx="398.0" cy="26.7" r="1.85"/>
<circle cx="399.7" cy="28.9" r="1.85"/>
<circle cx="401.4" cy="30.8" r="1.85"/>
<circle cx="403.1" cy="32.0" r="1.85"/>
<circle cx="404.8" cy="34.7" r="1.85"/>
<circle cx="406.5" cy="40.2" r="1.85"/>
<circle cx="408.3" cy="43.1" r="1.85"/>
<circle cx="410.0" cy="48.1" r="1.85"/>
<circle cx="411.7" cy="52.5" r="1.85"/>
<circle cx="413.4" cy="57.6" r="1.85"/>
<circle cx="415.1" cy="61.6" r="1.85"/>
<circle cx="416.8" cy="64.0" r="1.85"/>
<circle cx="418.5" cy="70.6" r="1.85"/>
<circle cx="420.3" cy="72.5" r="1.85"/>
<circle cx="422.0" cy="75.7" r="1.85"/>
<circle cx="423.7" cy="81.6" r="1.85"/>
<circle cx="425.4" cy="82.9" r="1.85"/>
<circle cx="427.1" cy="86.9" r="1.85"/>
<circle cx="428.8" cy="92.9" r="1.85"/>
<circle cx="430.6" cy="95.3" r="1.85"/>
<circle cx="432.3" cy="98.3" r="1.85"/>
<circle cx="434.0" cy="101.5" r="1.85"/>
<circle cx="435.7" cy="104.0" r="1.85"/>
<circle cx="437.4" cy="105.4" r="1.85"/>
<circle cx="439.1" cy="106.1" r="1.85"/>
<circle cx="440.9" cy="108.9" r="1.85"/>
</g>
<g stroke="#b6385c" fill="#dea5b5">
<circle cx="272.7" cy="122.2" r="1.85"/>
<circle cx="274.4" cy="122.2" r="1.85"/>
<circle cx="276.1" cy="122.9" r="1.85"/>
<circle cx="277.8" cy="121.7" r="1.85"/>
<circle cx="279.6" cy="122.6" r="1.85"/>
<circle cx="281.3" cy="123.0" r="1.85"/>
<circle cx="283.0" cy="121.5" r="1.85"/>
<circle cx="284.7" cy="123.6" r="1.85"/>
<circle cx="286.4" cy="122.4" r="1.85"/>
<circle cx="288.1" cy="122.2" r="1.85"/>
<circle cx="289.9" cy="121.9" r="1.85"/>
<circle cx="291.6" cy="123.1" r="1.85"/>
<circle cx="293.3" cy="122.4" r="1.85"/>
<circle cx="295.0" cy="121.6" r="1.85"/>
<circle cx="296.7" cy="120.7" r="1.85"/>
<circle cx="298.4" cy="121.0" r="1.85"/>
<circle cx="300.2" cy="120.7" r="1.85"/>
<circle cx="301.9" cy="120.8" r="1.85"/>
<circle cx="303.6" cy="119.5" r="1.85"/>
<circle cx="305.3" cy="121.2" r="1.85"/>
<circle cx="307.0" cy="117.5" r="1.85"/>
<circle cx="308.7" cy="116.5" r="1.85"/>
<circle cx="310.4" cy="116.6" r="1.85"/>
<circle cx="312.2" cy="116.6" r="1.85"/>
<circle cx="313.9" cy="113.8" r="1.85"/>
<circle cx="315.6" cy="114.7" r="1.85"/>
<circle cx="317.3" cy="112.1" r="1.85"/>
<circle cx="319.0" cy="112.5" r="1.85"/>
<circle cx="320.7" cy="111.8" r="1.85"/>
<circle cx="322.5" cy="110.2" r="1.85"/>
<circle cx="324.2" cy="109.3" r="1.85"/>
<circle cx="325.9" cy="107.5" r="1.85"/>
<circle cx="327.6" cy="105.6" r="1.85"/>
<circle cx="329.3" cy="104.9" r="1.85"/>
<circle cx="331.0" cy="103.6" r="1.85"/>
<circle cx="332.8" cy="101.6" r="1.85"/>
<circle cx="334.5" cy="99.7" r="1.85"/>
<circle cx="336.2" cy="98.3" r="1.85"/>
<circle cx="337.9" cy="96.1" r="1.85"/>
<circle cx="339.6" cy="94.2" r="1.85"/>
<circle cx="341.3" cy="92.5" r="1.85"/>
<circle cx="343.0" cy="90.1" r="1.85"/>
<circle cx="344.8" cy="88.6" r="1.85"/>
<circle cx="346.5" cy="85.4" r="1.85"/>
<circle cx="348.2" cy="83.8" r="1.85"/>
<circle cx="349.9" cy="81.2" r="1.85"/>
<circle cx="351.6" cy="79.8" r="1.85"/>
<circle cx="353.3" cy="78.4" r="1.85"/>
<circle cx="355.1" cy="75.1" r="1.85"/>
<circle cx="356.8" cy="72.0" r="1.85"/>
<circle cx="358.5" cy="69.1" r="1.85"/>
<circle cx="360.2" cy="66.8" r="1.85"/>
<circle cx="361.9" cy="62.7" r="1.85"/>
<circle cx="363.6" cy="62.1" r="1.85"/>
<circle cx="365.4" cy="59.7" r="1.85"/>
<circle cx="367.1" cy="55.6" r="1.85"/>
<circle cx="368.8" cy="53.4" r="1.85"/>
<circle cx="370.5" cy="50.2" r="1.85"/>
<circle cx="372.2" cy="47.2" r="1.85"/>
<circle cx="373.9" cy="43.1" r="1.85"/>
<circle cx="375.7" cy="44.4" r="1.85"/>
<circle cx="377.4" cy="42.1" r="1.85"/>
<circle cx="379.1" cy="39.3" r="1.85"/>
<circle cx="380.8" cy="38.6" r="1.85"/>
<circle cx="382.5" cy="36.2" r="1.85"/>
<circle cx="384.2" cy="32.8" r="1.85"/>
<circle cx="385.9" cy="32.3" r="1.85"/>
<circle cx="387.7" cy="30.8" r="1.85"/>
<circle cx="389.4" cy="28.5" r="1.85"/>
<circle cx="391.1" cy="29.7" r="1.85"/>
<circle cx="392.8" cy="27.0" r="1.85"/>
<circle cx="394.5" cy="26.5" r="1.85"/>
<circle cx="396.2" cy="26.3" r="1.85"/>
<circle cx="398.0" cy="28.0" r="1.85"/>
<circle cx="399.7" cy="28.6" r="1.85"/>
<circle cx="401.4" cy="30.1" r="1.85"/>
<circle cx="403.1" cy="31.8" r="1.85"/>
<circle cx="404.8" cy="36.1" r="1.85"/>
<circle cx="406.5" cy="38.7" r="1.85"/>
<circle cx="408.3" cy="45.6" r="1.85"/>
<circle cx="410.0" cy="48.1" r="1.85"/>
<circle cx="411.7" cy="52.1" r="1.85"/>
<circle cx="413.4" cy="57.5" r="1.85"/>
<circle cx="415.1" cy="60.9" r="1.85"/>
<circle cx="416.8" cy="64.5" r="1.85"/>
<circle cx="418.5" cy="68.1" r="1.85"/>
<circle cx="420.3" cy="71.2" r="1.85"/>
<circle cx="422.0" cy="76.1" r="1.85"/>
<circle cx="423.7" cy="80.6" r="1.85"/>
<circle cx="425.4" cy="84.8" r="1.85"/>
<circle cx="427.1" cy="88.4" r="1.85"/>
<circle cx="428.8" cy="91.7" r="1.85"/>
<circle cx="430.6" cy="95.5" r="1.85"/>
<circle cx="432.3" cy="99.3" r="1.85"/>
<circle cx="434.0" cy="102.1" r="1.85"/>
<circle cx="435.7" cy="105.1" r="1.85"/>
<circle cx="437.4" cy="107.5" r="1.85"/>
<circle cx="439.1" cy="109.0" r="1.85"/>
<circle cx="440.9" cy="110.6" r="1.85"/>
</g>
<g stroke="#a4406c" fill="#d6a9bc">
<circle cx="272.7" cy="122.0" r="1.85"/>
<circle cx="274.4" cy="123.7" r="1.85"/>
<circle cx="276.1" cy="122.6" r="1.85"/>
<circle cx="277.8" cy="123.7" r="1.85"/>
<circle cx="279.6" cy="122.1" r="1.85"/>
<circle cx="281.3" cy="122.5" r="1.85"/>
<circle cx="283.0" cy="121.7" r="1.85"/>
<circle cx="284.7" cy="122.3" r="1.85"/>
<circle cx="286.4" cy="123.5" r="1.85"/>
<circle cx="288.1" cy="122.6" r="1.85"/>
<circle cx="289.9" cy="123.1" r="1.85"/>
<circle cx="291.6" cy="123.0" r="1.85"/>
<circle cx="293.3" cy="123.3" r="1.85"/>
<circle cx="295.0" cy="122.6" r="1.85"/>
<circle cx="296.7" cy="122.1" r="1.85"/>
<circle cx="298.4" cy="121.7" r="1.85"/>
<circle cx="300.2" cy="119.5" r="1.85"/>
<circle cx="301.9" cy="121.4" r="1.85"/>
<circle cx="303.6" cy="120.7" r="1.85"/>
<circle cx="305.3" cy="120.2" r="1.85"/>
<circle cx="307.0" cy="119.7" r="1.85"/>
<circle cx="308.7" cy="119.1" r="1.85"/>
<circle cx="310.4" cy="118.1" r="1.85"/>
<circle cx="312.2" cy="117.6" r="1.85"/>
<circle cx="313.9" cy="116.1" r="1.85"/>
<circle cx="315.6" cy="115.5" r="1.85"/>
<circle cx="317.3" cy="115.8" r="1.85"/>
<circle cx="319.0" cy="114.1" r="1.85"/>
<circle cx="320.7" cy="112.8" r="1.85"/>
<circle cx="322.5" cy="112.2" r="1.85"/>
<circle cx="324.2" cy="111.0" r="1.85"/>
<circle cx="325.9" cy="109.7" r="1.85"/>
<circle cx="327.6" cy="107.8" r="1.85"/>
<circle cx="329.3" cy="106.8" r="1.85"/>
<circle cx="331.0" cy="105.9" r="1.85"/>
<circle cx="332.8" cy="104.0" r="1.85"/>
<circle cx="334.5" cy="101.3" r="1.85"/>
<circle cx="336.2" cy="101.4" r="1.85"/>
<circle cx="337.9" cy="98.3" r="1.85"/>
<circle cx="339.6" cy="97.2" r="1.85"/>
<circle cx="341.3" cy="92.0" r="1.85"/>
<circle cx="343.0" cy="92.6" r="1.85"/>
<circle cx="344.8" cy="91.0" r="1.85"/>
<circle cx="346.5" cy="89.0" r="1.85"/>
<circle cx="348.2" cy="88.0" r="1.85"/>
<circle cx="349.9" cy="84.9" r="1.85"/>
<circle cx="351.6" cy="80.6" r="1.85"/>
<circle cx="353.3" cy="79.6" r="1.85"/>
<circle cx="355.1" cy="77.7" r="1.85"/>
<circle cx="356.8" cy="74.9" r="1.85"/>
<circle cx="358.5" cy="72.3" r="1.85"/>
<circle cx="360.2" cy="70.5" r="1.85"/>
<circle cx="361.9" cy="66.8" r="1.85"/>
<circle cx="363.6" cy="63.6" r="1.85"/>
<circle cx="365.4" cy="62.4" r="1.85"/>
<circle cx="367.1" cy="58.6" r="1.85"/>
<circle cx="368.8" cy="58.0" r="1.85"/>
<circle cx="370.5" cy="54.5" r="1.85"/>
<circle cx="372.2" cy="49.9" r="1.85"/>
<circle cx="373.9" cy="47.1" r="1.85"/>
<circle cx="375.7" cy="44.3" r="1.85"/>
<circle cx="377.4" cy="44.7" r="1.85"/>
<circle cx="379.1" cy="41.5" r="1.85"/>
<circle cx="380.8" cy="39.6" r="1.85"/>
<circle cx="382.5" cy="36.4" r="1.85"/>
<circle cx="384.2" cy="35.1" r="1.85"/>
<circle cx="385.9" cy="33.5" r="1.85"/>
<circle cx="387.7" cy="31.3" r="1.85"/>
<circle cx="389.4" cy="30.6" r="1.85"/>
<circle cx="391.1" cy="28.0" r="1.85"/>
<circle cx="392.8" cy="27.7" r="1.85"/>
<circle cx="394.5" cy="25.6" r="1.85"/>
<circle cx="396.2" cy="26.3" r="1.85"/>
<circle cx="398.0" cy="26.8" r="1.85"/>
<circle cx="399.7" cy="28.9" r="1.85"/>
<circle cx="401.4" cy="30.8" r="1.85"/>
<circle cx="403.1" cy="33.3" r="1.85"/>
<circle cx="404.8" cy="34.6" r="1.85"/>
<circle cx="406.5" cy="40.5" r="1.85"/>
<circle cx="408.3" cy="42.3" r="1.85"/>
<circle cx="410.0" cy="48.6" r="1.85"/>
<circle cx="411.7" cy="53.9" r="1.85"/>
<circle cx="413.4" cy="56.5" r="1.85"/>
<circle cx="415.1" cy="61.7" r="1.85"/>
<circle cx="416.8" cy="64.5" r="1.85"/>
<circle cx="418.5" cy="68.6" r="1.85"/>
<circle cx="420.3" cy="71.3" r="1.85"/>
<circle cx="422.0" cy="75.6" r="1.85"/>
<circle cx="423.7" cy="79.8" r="1.85"/>
<circle cx="425.4" cy="85.2" r="1.85"/>
<circle cx="427.1" cy="87.9" r="1.85"/>
<circle cx="428.8" cy="92.8" r="1.85"/>
<circle cx="430.6" cy="96.0" r="1.85"/>
<circle cx="432.3" cy="99.0" r="1.85"/>
<circle cx="434.0" cy="102.2" r="1.85"/>
<circle cx="435.7" cy="106.4" r="1.85"/>
<circle cx="437.4" cy="107.2" r="1.85"/>
<circle cx="439.1" cy="110.9" r="1.85"/>
<circle cx="440.9" cy="110.8" r="1.85"/>
</g>
<g stroke="#8c4a82" fill="#cbadc6">
<circle cx="272.7" cy="123.2" r="1.85"/>
<circle cx="274.4" cy="123.0" r="1.85"/>
<circle cx="276.1" cy="124.0" r="1.85"/>
<circle cx="277.8" cy="122.4" r="1.85"/>
<circle cx="279.6" cy="123.4" r="1.85"/>
<circle cx="281.3" cy="122.6" r="1.85"/>
<circle cx="283.0" cy="124.0" r="1.85"/>
<circle cx="284.7" cy="124.0" r="1.85"/>
<circle cx="286.4" cy="123.3" r="1.85"/>
<circle cx="288.1" cy="122.6" r="1.85"/>
<circle cx="289.9" cy="124.5" r="1.85"/>
<circle cx="291.6" cy="123.9" r="1.85"/>
<circle cx="293.3" cy="123.7" r="1.85"/>
<circle cx="295.0" cy="123.5" r="1.85"/>
<circle cx="296.7" cy="123.5" r="1.85"/>
<circle cx="298.4" cy="122.0" r="1.85"/>
<circle cx="300.2" cy="122.1" r="1.85"/>
<circle cx="301.9" cy="122.4" r="1.85"/>
<circle cx="303.6" cy="121.3" r="1.85"/>
<circle cx="305.3" cy="120.7" r="1.85"/>
<circle cx="307.0" cy="121.5" r="1.85"/>
<circle cx="308.7" cy="121.0" r="1.85"/>
<circle cx="310.4" cy="119.3" r="1.85"/>
<circle cx="312.2" cy="117.4" r="1.85"/>
<circle cx="313.9" cy="120.4" r="1.85"/>
<circle cx="315.6" cy="118.2" r="1.85"/>
<circle cx="317.3" cy="116.2" r="1.85"/>
<circle cx="319.0" cy="116.6" r="1.85"/>
<circle cx="320.7" cy="114.3" r="1.85"/>
<circle cx="322.5" cy="113.8" r="1.85"/>
<circle cx="324.2" cy="113.9" r="1.85"/>
<circle cx="325.9" cy="112.1" r="1.85"/>
<circle cx="327.6" cy="110.2" r="1.85"/>
<circle cx="329.3" cy="110.0" r="1.85"/>
<circle cx="331.0" cy="107.3" r="1.85"/>
<circle cx="332.8" cy="106.0" r="1.85"/>
<circle cx="334.5" cy="104.9" r="1.85"/>
<circle cx="336.2" cy="102.7" r="1.85"/>
<circle cx="337.9" cy="101.5" r="1.85"/>
<circle cx="339.6" cy="99.2" r="1.85"/>
<circle cx="341.3" cy="98.3" r="1.85"/>
<circle cx="343.0" cy="94.4" r="1.85"/>
<circle cx="344.8" cy="93.7" r="1.85"/>
<circle cx="346.5" cy="90.4" r="1.85"/>
<circle cx="348.2" cy="87.5" r="1.85"/>
<circle cx="349.9" cy="85.8" r="1.85"/>
<circle cx="351.6" cy="84.9" r="1.85"/>
<circle cx="353.3" cy="82.5" r="1.85"/>
<circle cx="355.1" cy="80.3" r="1.85"/>
<circle cx="356.8" cy="77.5" r="1.85"/>
<circle cx="358.5" cy="75.9" r="1.85"/>
<circle cx="360.2" cy="74.2" r="1.85"/>
<circle cx="361.9" cy="69.6" r="1.85"/>
<circle cx="363.6" cy="67.0" r="1.85"/>
<circle cx="365.4" cy="62.9" r="1.85"/>
<circle cx="367.1" cy="59.9" r="1.85"/>
<circle cx="368.8" cy="59.8" r="1.85"/>
<circle cx="370.5" cy="56.8" r="1.85"/>
<circle cx="372.2" cy="52.8" r="1.85"/>
<circle cx="373.9" cy="49.9" r="1.85"/>
<circle cx="375.7" cy="48.4" r="1.85"/>
<circle cx="377.4" cy="46.0" r="1.85"/>
<circle cx="379.1" cy="45.2" r="1.85"/>
<circle cx="380.8" cy="39.5" r="1.85"/>
<circle cx="382.5" cy="39.7" r="1.85"/>
<circle cx="384.2" cy="36.5" r="1.85"/>
<circle cx="385.9" cy="34.6" r="1.85"/>
<circle cx="387.7" cy="33.6" r="1.85"/>
<circle cx="389.4" cy="30.3" r="1.85"/>
<circle cx="391.1" cy="28.2" r="1.85"/>
<circle cx="392.8" cy="27.8" r="1.85"/>
<circle cx="394.5" cy="26.5" r="1.85"/>
<circle cx="396.2" cy="25.8" r="1.85"/>
<circle cx="398.0" cy="26.0" r="1.85"/>
<circle cx="399.7" cy="27.0" r="1.85"/>
<circle cx="401.4" cy="29.8" r="1.85"/>
<circle cx="403.1" cy="32.2" r="1.85"/>
<circle cx="404.8" cy="35.0" r="1.85"/>
<circle cx="406.5" cy="40.5" r="1.85"/>
<circle cx="408.3" cy="44.2" r="1.85"/>
<circle cx="410.0" cy="48.4" r="1.85"/>
<circle cx="411.7" cy="53.3" r="1.85"/>
<circle cx="413.4" cy="57.6" r="1.85"/>
<circle cx="415.1" cy="60.1" r="1.85"/>
<circle cx="416.8" cy="64.4" r="1.85"/>
<circle cx="418.5" cy="67.9" r="1.85"/>
<circle cx="420.3" cy="72.6" r="1.85"/>
<circle cx="422.0" cy="76.9" r="1.85"/>
<circle cx="423.7" cy="81.5" r="1.85"/>
<circle cx="425.4" cy="84.9" r="1.85"/>
<circle cx="427.1" cy="90.7" r="1.85"/>
<circle cx="428.8" cy="93.8" r="1.85"/>
<circle cx="430.6" cy="96.1" r="1.85"/>
<circle cx="432.3" cy="99.2" r="1.85"/>
<circle cx="434.0" cy="103.2" r="1.85"/>
<circle cx="435.7" cy="107.1" r="1.85"/>
<circle cx="437.4" cy="108.2" r="1.85"/>
<circle cx="439.1" cy="111.2" r="1.85"/>
<circle cx="440.9" cy="112.3" r="1.85"/>
</g>
<g stroke="#745492" fill="#c0b2cd">
<circle cx="272.7" cy="124.3" r="1.85"/>
<circle cx="274.4" cy="122.1" r="1.85"/>
<circle cx="276.1" cy="122.4" r="1.85"/>
<circle cx="277.8" cy="124.4" r="1.85"/>
<circle cx="279.6" cy="124.8" r="1.85"/>
<circle cx="281.3" cy="124.0" r="1.85"/>
<circle cx="283.0" cy="123.5" r="1.85"/>
<circle cx="284.7" cy="123.1" r="1.85"/>
<circle cx="286.4" cy="124.2" r="1.85"/>
<circle cx="288.1" cy="125.2" r="1.85"/>
<circle cx="289.9" cy="124.0" r="1.85"/>
<circle cx="291.6" cy="124.0" r="1.85"/>
<circle cx="293.3" cy="125.6" r="1.85"/>
<circle cx="295.0" cy="124.4" r="1.85"/>
<circle cx="296.7" cy="124.4" r="1.85"/>
<circle cx="298.4" cy="124.8" r="1.85"/>
<circle cx="300.2" cy="123.7" r="1.85"/>
<circle cx="301.9" cy="122.8" r="1.85"/>
<circle cx="303.6" cy="122.6" r="1.85"/>
<circle cx="305.3" cy="123.8" r="1.85"/>
<circle cx="307.0" cy="123.1" r="1.85"/>
<circle cx="308.7" cy="121.5" r="1.85"/>
<circle cx="310.4" cy="121.9" r="1.85"/>
<circle cx="312.2" cy="121.3" r="1.85"/>
<circle cx="313.9" cy="118.5" r="1.85"/>
<circle cx="315.6" cy="121.7" r="1.85"/>
<circle cx="317.3" cy="119.3" r="1.85"/>
<circle cx="319.0" cy="118.7" r="1.85"/>
<circle cx="320.7" cy="117.1" r="1.85"/>
<circle cx="322.5" cy="114.8" r="1.85"/>
<circle cx="324.2" cy="115.3" r="1.85"/>
<circle cx="325.9" cy="114.3" r="1.85"/>
<circle cx="327.6" cy="112.8" r="1.85"/>
<circle cx="329.3" cy="111.9" r="1.85"/>
<circle cx="331.0" cy="110.0" r="1.85"/>
<circle cx="332.8" cy="106.7" r="1.85"/>
<circle cx="334.5" cy="107.7" r="1.85"/>
<circle cx="336.2" cy="105.6" r="1.85"/>
<circle cx="337.9" cy="103.8" r="1.85"/>
<circle cx="339.6" cy="103.7" r="1.85"/>
<circle cx="341.3" cy="99.6" r="1.85"/>
<circle cx="343.0" cy="98.2" r="1.85"/>
<circle cx="344.8" cy="97.7" r="1.85"/>
<circle cx="346.5" cy="94.3" r="1.85"/>
<circle cx="348.2" cy="91.8" r="1.85"/>
<circle cx="349.9" cy="90.5" r="1.85"/>
<circle cx="351.6" cy="86.8" r="1.85"/>
<circle cx="353.3" cy="86.0" r="1.85"/>
<circle cx="355.1" cy="84.4" r="1.85"/>
<circle cx="356.8" cy="80.2" r="1.85"/>
<circle cx="358.5" cy="78.5" r="1.85"/>
<circle cx="360.2" cy="75.7" r="1.85"/>
<circle cx="361.9" cy="74.4" r="1.85"/>
<circle cx="363.6" cy="71.4" r="1.85"/>
<circle cx="365.4" cy="68.2" r="1.85"/>
<circle cx="367.1" cy="64.7" r="1.85"/>
<circle cx="368.8" cy="62.0" r="1.85"/>
<circle cx="370.5" cy="58.0" r="1.85"/>
<circle cx="372.2" cy="55.2" r="1.85"/>
<circle cx="373.9" cy="53.7" r="1.85"/>
<circle cx="375.7" cy="51.3" r="1.85"/>
<circle cx="377.4" cy="47.1" r="1.85"/>
<circle cx="379.1" cy="46.0" r="1.85"/>
<circle cx="380.8" cy="42.7" r="1.85"/>
<circle cx="382.5" cy="41.4" r="1.85"/>
<circle cx="384.2" cy="38.7" r="1.85"/>
<circle cx="385.9" cy="36.5" r="1.85"/>
<circle cx="387.7" cy="34.6" r="1.85"/>
<circle cx="389.4" cy="31.6" r="1.85"/>
<circle cx="391.1" cy="30.7" r="1.85"/>
<circle cx="392.8" cy="28.3" r="1.85"/>
<circle cx="394.5" cy="26.4" r="1.85"/>
<circle cx="396.2" cy="24.5" r="1.85"/>
<circle cx="398.0" cy="28.2" r="1.85"/>
<circle cx="399.7" cy="27.3" r="1.85"/>
<circle cx="401.4" cy="28.1" r="1.85"/>
<circle cx="403.1" cy="31.2" r="1.85"/>
<circle cx="404.8" cy="33.4" r="1.85"/>
<circle cx="406.5" cy="37.4" r="1.85"/>
<circle cx="408.3" cy="42.4" r="1.85"/>
<circle cx="410.0" cy="48.5" r="1.85"/>
<circle cx="411.7" cy="53.0" r="1.85"/>
<circle cx="413.4" cy="57.2" r="1.85"/>
<circle cx="415.1" cy="61.8" r="1.85"/>
<circle cx="416.8" cy="64.7" r="1.85"/>
<circle cx="418.5" cy="69.5" r="1.85"/>
<circle cx="420.3" cy="73.4" r="1.85"/>
<circle cx="422.0" cy="77.9" r="1.85"/>
<circle cx="423.7" cy="80.1" r="1.85"/>
<circle cx="425.4" cy="85.8" r="1.85"/>
<circle cx="427.1" cy="90.3" r="1.85"/>
<circle cx="428.8" cy="92.9" r="1.85"/>
<circle cx="430.6" cy="97.4" r="1.85"/>
<circle cx="432.3" cy="100.3" r="1.85"/>
<circle cx="434.0" cy="104.1" r="1.85"/>
<circle cx="435.7" cy="106.7" r="1.85"/>
<circle cx="437.4" cy="109.5" r="1.85"/>
<circle cx="439.1" cy="113.4" r="1.85"/>
<circle cx="440.9" cy="112.1" r="1.85"/>
</g>
<g stroke="#5c60a4" fill="#b5b7d6">
<circle cx="272.7" cy="122.9" r="1.85"/>
<circle cx="274.4" cy="124.9" r="1.85"/>
<circle cx="276.1" cy="123.0" r="1.85"/>
<circle cx="277.8" cy="124.1" r="1.85"/>
<circle cx="279.6" cy="123.9" r="1.85"/>
<circle cx="281.3" cy="123.1" r="1.85"/>
<circle cx="283.0" cy="123.5" r="1.85"/>
<circle cx="284.7" cy="123.6" r="1.85"/>
<circle cx="286.4" cy="122.8" r="1.85"/>
<circle cx="288.1" cy="123.6" r="1.85"/>
<circle cx="289.9" cy="125.0" r="1.85"/>
<circle cx="291.6" cy="125.6" r="1.85"/>
<circle cx="293.3" cy="123.9" r="1.85"/>
<circle cx="295.0" cy="126.0" r="1.85"/>
<circle cx="296.7" cy="124.8" r="1.85"/>
<circle cx="298.4" cy="124.7" r="1.85"/>
<circle cx="300.2" cy="124.9" r="1.85"/>
<circle cx="301.9" cy="123.0" r="1.85"/>
<circle cx="303.6" cy="123.6" r="1.85"/>
<circle cx="305.3" cy="123.7" r="1.85"/>
<circle cx="307.0" cy="122.4" r="1.85"/>
<circle cx="308.7" cy="123.0" r="1.85"/>
<circle cx="310.4" cy="121.2" r="1.85"/>
<circle cx="312.2" cy="120.0" r="1.85"/>
<circle cx="313.9" cy="121.1" r="1.85"/>
<circle cx="315.6" cy="120.4" r="1.85"/>
<circle cx="317.3" cy="118.5" r="1.85"/>
<circle cx="319.0" cy="120.3" r="1.85"/>
<circle cx="320.7" cy="118.9" r="1.85"/>
<circle cx="322.5" cy="117.8" r="1.85"/>
<circle cx="324.2" cy="117.3" r="1.85"/>
<circle cx="325.9" cy="114.9" r="1.85"/>
<circle cx="327.6" cy="113.6" r="1.85"/>
<circle cx="329.3" cy="112.6" r="1.85"/>
<circle cx="331.0" cy="111.2" r="1.85"/>
<circle cx="332.8" cy="108.9" r="1.85"/>
<circle cx="334.5" cy="107.2" r="1.85"/>
<circle cx="336.2" cy="105.3" r="1.85"/>
<circle cx="337.9" cy="104.7" r="1.85"/>
<circle cx="339.6" cy="102.8" r="1.85"/>
<circle cx="341.3" cy="99.8" r="1.85"/>
<circle cx="343.0" cy="98.7" r="1.85"/>
<circle cx="344.8" cy="96.0" r="1.85"/>
<circle cx="346.5" cy="95.4" r="1.85"/>
<circle cx="348.2" cy="92.9" r="1.85"/>
<circle cx="349.9" cy="91.3" r="1.85"/>
<circle cx="351.6" cy="88.7" r="1.85"/>
<circle cx="353.3" cy="86.1" r="1.85"/>
<circle cx="355.1" cy="84.6" r="1.85"/>
<circle cx="356.8" cy="80.3" r="1.85"/>
<circle cx="358.5" cy="80.7" r="1.85"/>
<circle cx="360.2" cy="76.3" r="1.85"/>
<circle cx="361.9" cy="75.1" r="1.85"/>
<circle cx="363.6" cy="71.2" r="1.85"/>
<circle cx="365.4" cy="69.2" r="1.85"/>
<circle cx="367.1" cy="65.7" r="1.85"/>
<circle cx="368.8" cy="62.9" r="1.85"/>
<circle cx="370.5" cy="60.9" r="1.85"/>
<circle cx="372.2" cy="58.5" r="1.85"/>
<circle cx="373.9" cy="55.4" r="1.85"/>
<circle cx="375.7" cy="52.2" r="1.85"/>
<circle cx="377.4" cy="48.9" r="1.85"/>
<circle cx="379.1" cy="45.6" r="1.85"/>
<circle cx="380.8" cy="45.7" r="1.85"/>
<circle cx="382.5" cy="41.3" r="1.85"/>
<circle cx="384.2" cy="39.5" r="1.85"/>
<circle cx="385.9" cy="36.8" r="1.85"/>
<circle cx="387.7" cy="34.1" r="1.85"/>
<circle cx="389.4" cy="31.5" r="1.85"/>
<circle cx="391.1" cy="30.0" r="1.85"/>
<circle cx="392.8" cy="28.4" r="1.85"/>
<circle cx="394.5" cy="25.5" r="1.85"/>
<circle cx="396.2" cy="26.0" r="1.85"/>
<circle cx="398.0" cy="26.6" r="1.85"/>
<circle cx="399.7" cy="26.4" r="1.85"/>
<circle cx="401.4" cy="29.4" r="1.85"/>
<circle cx="403.1" cy="31.5" r="1.85"/>
<circle cx="404.8" cy="32.7" r="1.85"/>
<circle cx="406.5" cy="37.8" r="1.85"/>
<circle cx="408.3" cy="44.2" r="1.85"/>
<circle cx="410.0" cy="47.5" r="1.85"/>
<circle cx="411.7" cy="51.9" r="1.85"/>
<circle cx="413.4" cy="57.7" r="1.85"/>
<circle cx="415.1" cy="62.1" r="1.85"/>
<circle cx="416.8" cy="64.9" r="1.85"/>
<circle cx="418.5" cy="68.4" r="1.85"/>
<circle cx="420.3" cy="73.1" r="1.85"/>
<circle cx="422.0" cy="77.6" r="1.85"/>
<circle cx="423.7" cy="80.7" r="1.85"/>
<circle cx="425.4" cy="85.0" r="1.85"/>
<circle cx="427.1" cy="91.0" r="1.85"/>
<circle cx="428.8" cy="94.6" r="1.85"/>
<circle cx="430.6" cy="97.5" r="1.85"/>
<circle cx="432.3" cy="101.3" r="1.85"/>
<circle cx="434.0" cy="104.0" r="1.85"/>
<circle cx="435.7" cy="106.9" r="1.85"/>
<circle cx="437.4" cy="108.5" r="1.85"/>
<circle cx="439.1" cy="111.8" r="1.85"/>
<circle cx="440.9" cy="113.0" r="1.85"/>
</g>
<g stroke="#4a6cb4" fill="#adbcdd">
<circle cx="272.7" cy="125.1" r="1.85"/>
<circle cx="274.4" cy="124.4" r="1.85"/>
<circle cx="276.1" cy="123.0" r="1.85"/>
<circle cx="277.8" cy="125.2" r="1.85"/>
<circle cx="279.6" cy="123.0" r="1.85"/>
<circle cx="281.3" cy="123.9" r="1.85"/>
<circle cx="283.0" cy="124.3" r="1.85"/>
<circle cx="284.7" cy="124.7" r="1.85"/>
<circle cx="286.4" cy="125.6" r="1.85"/>
<circle cx="288.1" cy="125.6" r="1.85"/>
<circle cx="289.9" cy="125.2" r="1.85"/>
<circle cx="291.6" cy="125.1" r="1.85"/>
<circle cx="293.3" cy="123.8" r="1.85"/>
<circle cx="295.0" cy="125.6" r="1.85"/>
<circle cx="296.7" cy="125.2" r="1.85"/>
<circle cx="298.4" cy="126.1" r="1.85"/>
<circle cx="300.2" cy="124.4" r="1.85"/>
<circle cx="301.9" cy="124.4" r="1.85"/>
<circle cx="303.6" cy="123.3" r="1.85"/>
<circle cx="305.3" cy="122.3" r="1.85"/>
<circle cx="307.0" cy="123.0" r="1.85"/>
<circle cx="308.7" cy="123.7" r="1.85"/>
<circle cx="310.4" cy="122.4" r="1.85"/>
<circle cx="312.2" cy="121.8" r="1.85"/>
<circle cx="313.9" cy="121.4" r="1.85"/>
<circle cx="315.6" cy="121.5" r="1.85"/>
<circle cx="317.3" cy="119.6" r="1.85"/>
<circle cx="319.0" cy="120.1" r="1.85"/>
<circle cx="320.7" cy="118.3" r="1.85"/>
<circle cx="322.5" cy="117.6" r="1.85"/>
<circle cx="324.2" cy="118.5" r="1.85"/>
<circle cx="325.9" cy="114.9" r="1.85"/>
<circle cx="327.6" cy="112.6" r="1.85"/>
<circle cx="329.3" cy="113.4" r="1.85"/>
<circle cx="331.0" cy="112.2" r="1.85"/>
<circle cx="332.8" cy="109.4" r="1.85"/>
<circle cx="334.5" cy="109.6" r="1.85"/>
<circle cx="336.2" cy="106.9" r="1.85"/>
<circle cx="337.9" cy="104.9" r="1.85"/>
<circle cx="339.6" cy="103.8" r="1.85"/>
<circle cx="341.3" cy="101.6" r="1.85"/>
<circle cx="343.0" cy="100.3" r="1.85"/>
<circle cx="344.8" cy="98.1" r="1.85"/>
<circle cx="346.5" cy="95.0" r="1.85"/>
<circle cx="348.2" cy="94.2" r="1.85"/>
<circle cx="349.9" cy="91.8" r="1.85"/>
<circle cx="351.6" cy="89.8" r="1.85"/>
<circle cx="353.3" cy="86.7" r="1.85"/>
<circle cx="355.1" cy="85.1" r="1.85"/>
<circle cx="356.8" cy="83.2" r="1.85"/>
<circle cx="358.5" cy="79.9" r="1.85"/>
<circle cx="360.2" cy="79.3" r="1.85"/>
<circle cx="361.9" cy="76.5" r="1.85"/>
<circle cx="363.6" cy="71.8" r="1.85"/>
<circle cx="365.4" cy="67.7" r="1.85"/>
<circle cx="367.1" cy="66.8" r="1.85"/>
<circle cx="368.8" cy="63.4" r="1.85"/>
<circle cx="370.5" cy="62.0" r="1.85"/>
<circle cx="372.2" cy="58.1" r="1.85"/>
<circle cx="373.9" cy="55.3" r="1.85"/>
<circle cx="375.7" cy="52.3" r="1.85"/>
<circle cx="377.4" cy="50.7" r="1.85"/>
<circle cx="379.1" cy="45.8" r="1.85"/>
<circle cx="380.8" cy="45.5" r="1.85"/>
<circle cx="382.5" cy="40.8" r="1.85"/>
<circle cx="384.2" cy="40.4" r="1.85"/>
<circle cx="385.9" cy="36.4" r="1.85"/>
<circle cx="387.7" cy="33.5" r="1.85"/>
<circle cx="389.4" cy="30.6" r="1.85"/>
<circle cx="391.1" cy="30.5" r="1.85"/>
<circle cx="392.8" cy="29.8" r="1.85"/>
<circle cx="394.5" cy="26.1" r="1.85"/>
<circle cx="396.2" cy="26.8" r="1.85"/>
<circle cx="398.0" cy="27.4" r="1.85"/>
<circle cx="399.7" cy="27.7" r="1.85"/>
<circle cx="401.4" cy="29.1" r="1.85"/>
<circle cx="403.1" cy="30.1" r="1.85"/>
<circle cx="404.8" cy="33.7" r="1.85"/>
<circle cx="406.5" cy="37.0" r="1.85"/>
<circle cx="408.3" cy="41.9" r="1.85"/>
<circle cx="410.0" cy="48.4" r="1.85"/>
<circle cx="411.7" cy="52.3" r="1.85"/>
<circle cx="413.4" cy="56.1" r="1.85"/>
<circle cx="415.1" cy="59.5" r="1.85"/>
<circle cx="416.8" cy="64.8" r="1.85"/>
<circle cx="418.5" cy="69.0" r="1.85"/>
<circle cx="420.3" cy="73.5" r="1.85"/>
<circle cx="422.0" cy="77.2" r="1.85"/>
<circle cx="423.7" cy="81.2" r="1.85"/>
<circle cx="425.4" cy="85.3" r="1.85"/>
<circle cx="427.1" cy="90.8" r="1.85"/>
<circle cx="428.8" cy="94.1" r="1.85"/>
<circle cx="430.6" cy="97.5" r="1.85"/>
<circle cx="432.3" cy="101.4" r="1.85"/>
<circle cx="434.0" cy="104.8" r="1.85"/>
<circle cx="435.7" cy="107.2" r="1.85"/>
<circle cx="437.4" cy="111.0" r="1.85"/>
<circle cx="439.1" cy="111.9" r="1.85"/>
<circle cx="440.9" cy="114.8" r="1.85"/>
</g>
<g stroke="#3a78c0" fill="#a6c2e2">
<circle cx="272.7" cy="123.9" r="1.85"/>
<circle cx="274.4" cy="125.0" r="1.85"/>
<circle cx="276.1" cy="123.2" r="1.85"/>
<circle cx="277.8" cy="123.7" r="1.85"/>
<circle cx="279.6" cy="123.4" r="1.85"/>
<circle cx="281.3" cy="125.4" r="1.85"/>
<circle cx="283.0" cy="126.0" r="1.85"/>
<circle cx="284.7" cy="126.1" r="1.85"/>
<circle cx="286.4" cy="125.3" r="1.85"/>
<circle cx="288.1" cy="124.3" r="1.85"/>
<circle cx="289.9" cy="124.7" r="1.85"/>
<circle cx="291.6" cy="124.8" r="1.85"/>
<circle cx="293.3" cy="126.4" r="1.85"/>
<circle cx="295.0" cy="124.5" r="1.85"/>
<circle cx="296.7" cy="124.8" r="1.85"/>
<circle cx="298.4" cy="125.8" r="1.85"/>
<circle cx="300.2" cy="127.4" r="1.85"/>
<circle cx="301.9" cy="125.8" r="1.85"/>
<circle cx="303.6" cy="125.2" r="1.85"/>
<circle cx="305.3" cy="123.5" r="1.85"/>
<circle cx="307.0" cy="124.3" r="1.85"/>
<circle cx="308.7" cy="124.2" r="1.85"/>
<circle cx="310.4" cy="122.4" r="1.85"/>
<circle cx="312.2" cy="121.9" r="1.85"/>
<circle cx="313.9" cy="122.2" r="1.85"/>
<circle cx="315.6" cy="121.3" r="1.85"/>
<circle cx="317.3" cy="120.1" r="1.85"/>
<circle cx="319.0" cy="121.0" r="1.85"/>
<circle cx="320.7" cy="119.3" r="1.85"/>
<circle cx="322.5" cy="119.1" r="1.85"/>
<circle cx="324.2" cy="118.7" r="1.85"/>
<circle cx="325.9" cy="116.5" r="1.85"/>
<circle cx="327.6" cy="114.9" r="1.85"/>
<circle cx="329.3" cy="113.1" r="1.85"/>
<circle cx="331.0" cy="112.6" r="1.85"/>
<circle cx="332.8" cy="110.8" r="1.85"/>
<circle cx="334.5" cy="110.3" r="1.85"/>
<circle cx="336.2" cy="109.7" r="1.85"/>
<circle cx="337.9" cy="107.3" r="1.85"/>
<circle cx="339.6" cy="104.7" r="1.85"/>
<circle cx="341.3" cy="103.6" r="1.85"/>
<circle cx="343.0" cy="99.7" r="1.85"/>
<circle cx="344.8" cy="98.3" r="1.85"/>
<circle cx="346.5" cy="97.4" r="1.85"/>
<circle cx="348.2" cy="93.7" r="1.85"/>
<circle cx="349.9" cy="92.6" r="1.85"/>
<circle cx="351.6" cy="89.7" r="1.85"/>
<circle cx="353.3" cy="89.0" r="1.85"/>
<circle cx="355.1" cy="86.1" r="1.85"/>
<circle cx="356.8" cy="84.7" r="1.85"/>
<circle cx="358.5" cy="82.1" r="1.85"/>
<circle cx="360.2" cy="78.7" r="1.85"/>
<circle cx="361.9" cy="75.4" r="1.85"/>
<circle cx="363.6" cy="74.0" r="1.85"/>
<circle cx="365.4" cy="71.0" r="1.85"/>
<circle cx="367.1" cy="69.1" r="1.85"/>
<circle cx="368.8" cy="65.8" r="1.85"/>
<circle cx="370.5" cy="62.5" r="1.85"/>
<circle cx="372.2" cy="61.1" r="1.85"/>
<circle cx="373.9" cy="57.7" r="1.85"/>
<circle cx="375.7" cy="55.5" r="1.85"/>
<circle cx="377.4" cy="51.6" r="1.85"/>
<circle cx="379.1" cy="48.2" r="1.85"/>
<circle cx="380.8" cy="45.8" r="1.85"/>
<circle cx="382.5" cy="43.5" r="1.85"/>
<circle cx="384.2" cy="41.4" r="1.85"/>
<circle cx="385.9" cy="39.3" r="1.85"/>
<circle cx="387.7" cy="35.3" r="1.85"/>
<circle cx="389.4" cy="31.7" r="1.85"/>
<circle cx="391.1" cy="31.0" r="1.85"/>
<circle cx="392.8" cy="28.7" r="1.85"/>
<circle cx="394.5" cy="27.2" r="1.85"/>
<circle cx="396.2" cy="27.1" r="1.85"/>
<circle cx="398.0" cy="25.5" r="1.85"/>
<circle cx="399.7" cy="26.5" r="1.85"/>
<circle cx="401.4" cy="29.3" r="1.85"/>
<circle cx="403.1" cy="31.3" r="1.85"/>
<circle cx="404.8" cy="32.4" r="1.85"/>
<circle cx="406.5" cy="37.9" r="1.85"/>
<circle cx="408.3" cy="42.5" r="1.85"/>
<circle cx="410.0" cy="48.9" r="1.85"/>
<circle cx="411.7" cy="52.6" r="1.85"/>
<circle cx="413.4" cy="57.8" r="1.85"/>
<circle cx="415.1" cy="61.6" r="1.85"/>
<circle cx="416.8" cy="65.9" r="1.85"/>
<circle cx="418.5" cy="67.2" r="1.85"/>
<circle cx="420.3" cy="70.6" r="1.85"/>
<circle cx="422.0" cy="76.8" r="1.85"/>
<circle cx="423.7" cy="80.7" r="1.85"/>
<circle cx="425.4" cy="85.2" r="1.85"/>
<circle cx="427.1" cy="89.9" r="1.85"/>
<circle cx="428.8" cy="94.0" r="1.85"/>
<circle cx="430.6" cy="97.9" r="1.85"/>
<circle cx="432.3" cy="100.6" r="1.85"/>
<circle cx="434.0" cy="105.8" r="1.85"/>
<circle cx="435.7" cy="108.7" r="1.85"/>
<circle cx="437.4" cy="110.2" r="1.85"/>
<circle cx="439.1" cy="114.1" r="1.85"/>
<circle cx="440.9" cy="113.3" r="1.85"/>
</g>
<g stroke="#3282ca" fill="#a2c6e7">
<circle cx="272.7" cy="124.3" r="1.85"/>
<circle cx="274.4" cy="124.0" r="1.85"/>
<circle cx="276.1" cy="123.1" r="1.85"/>
<circle cx="277.8" cy="124.4" r="1.85"/>
<circle cx="279.6" cy="124.4" r="1.85"/>
<circle cx="281.3" cy="125.2" r="1.85"/>
<circle cx="283.0" cy="124.5" r="1.85"/>
<circle cx="284.7" cy="124.5" r="1.85"/>
<circle cx="286.4" cy="125.9" r="1.85"/>
<circle cx="288.1" cy="124.7" r="1.85"/>
<circle cx="289.9" cy="124.5" r="1.85"/>
<circle cx="291.6" cy="125.0" r="1.85"/>
<circle cx="293.3" cy="126.1" r="1.85"/>
<circle cx="295.0" cy="124.7" r="1.85"/>
<circle cx="296.7" cy="124.3" r="1.85"/>
<circle cx="298.4" cy="125.8" r="1.85"/>
<circle cx="300.2" cy="126.9" r="1.85"/>
<circle cx="301.9" cy="125.9" r="1.85"/>
<circle cx="303.6" cy="125.1" r="1.85"/>
<circle cx="305.3" cy="123.8" r="1.85"/>
<circle cx="307.0" cy="123.6" r="1.85"/>
<circle cx="308.7" cy="123.7" r="1.85"/>
<circle cx="310.4" cy="124.3" r="1.85"/>
<circle cx="312.2" cy="122.7" r="1.85"/>
<circle cx="313.9" cy="122.7" r="1.85"/>
<circle cx="315.6" cy="122.8" r="1.85"/>
<circle cx="317.3" cy="122.7" r="1.85"/>
<circle cx="319.0" cy="119.7" r="1.85"/>
<circle cx="320.7" cy="121.1" r="1.85"/>
<circle cx="322.5" cy="117.9" r="1.85"/>
<circle cx="324.2" cy="116.2" r="1.85"/>
<circle cx="325.9" cy="117.0" r="1.85"/>
<circle cx="327.6" cy="116.7" r="1.85"/>
<circle cx="329.3" cy="115.3" r="1.85"/>
<circle cx="331.0" cy="114.0" r="1.85"/>
<circle cx="332.8" cy="111.6" r="1.85"/>
<circle cx="334.5" cy="109.5" r="1.85"/>
<circle cx="336.2" cy="109.3" r="1.85"/>
<circle cx="337.9" cy="107.2" r="1.85"/>
<circle cx="339.6" cy="105.7" r="1.85"/>
<circle cx="341.3" cy="102.4" r="1.85"/>
<circle cx="343.0" cy="100.6" r="1.85"/>
<circle cx="344.8" cy="100.1" r="1.85"/>
<circle cx="346.5" cy="97.7" r="1.85"/>
<circle cx="348.2" cy="95.2" r="1.85"/>
<circle cx="349.9" cy="94.8" r="1.85"/>
<circle cx="351.6" cy="91.7" r="1.85"/>
<circle cx="353.3" cy="89.0" r="1.85"/>
<circle cx="355.1" cy="88.1" r="1.85"/>
<circle cx="356.8" cy="84.5" r="1.85"/>
<circle cx="358.5" cy="82.3" r="1.85"/>
<circle cx="360.2" cy="80.3" r="1.85"/>
<circle cx="361.9" cy="76.3" r="1.85"/>
<circle cx="363.6" cy="75.1" r="1.85"/>
<circle cx="365.4" cy="71.1" r="1.85"/>
<circle cx="367.1" cy="68.9" r="1.85"/>
<circle cx="368.8" cy="65.0" r="1.85"/>
<circle cx="370.5" cy="63.7" r="1.85"/>
<circle cx="372.2" cy="59.8" r="1.85"/>
<circle cx="373.9" cy="57.0" r="1.85"/>
<circle cx="375.7" cy="53.8" r="1.85"/>
<circle cx="377.4" cy="50.6" r="1.85"/>
<circle cx="379.1" cy="50.3" r="1.85"/>
<circle cx="380.8" cy="46.3" r="1.85"/>
<circle cx="382.5" cy="44.3" r="1.85"/>
<circle cx="384.2" cy="39.9" r="1.85"/>
<circle cx="385.9" cy="36.9" r="1.85"/>
<circle cx="387.7" cy="35.7" r="1.85"/>
<circle cx="389.4" cy="32.8" r="1.85"/>
<circle cx="391.1" cy="29.8" r="1.85"/>
<circle cx="392.8" cy="28.5" r="1.85"/>
<circle cx="394.5" cy="27.0" r="1.85"/>
<circle cx="396.2" cy="27.5" r="1.85"/>
<circle cx="398.0" cy="27.0" r="1.85"/>
<circle cx="399.7" cy="26.2" r="1.85"/>
<circle cx="401.4" cy="29.2" r="1.85"/>
<circle cx="403.1" cy="30.0" r="1.85"/>
<circle cx="404.8" cy="33.2" r="1.85"/>
<circle cx="406.5" cy="37.2" r="1.85"/>
<circle cx="408.3" cy="41.7" r="1.85"/>
<circle cx="410.0" cy="48.7" r="1.85"/>
<circle cx="411.7" cy="51.7" r="1.85"/>
<circle cx="413.4" cy="57.5" r="1.85"/>
<circle cx="415.1" cy="60.3" r="1.85"/>
<circle cx="416.8" cy="65.4" r="1.85"/>
<circle cx="418.5" cy="68.6" r="1.85"/>
<circle cx="420.3" cy="73.1" r="1.85"/>
<circle cx="422.0" cy="75.6" r="1.85"/>
<circle cx="423.7" cy="82.2" r="1.85"/>
<circle cx="425.4" cy="86.2" r="1.85"/>
<circle cx="427.1" cy="88.8" r="1.85"/>
<circle cx="428.8" cy="93.3" r="1.85"/>
<circle cx="430.6" cy="97.7" r="1.85"/>
<circle cx="432.3" cy="101.5" r="1.85"/>
<circle cx="434.0" cy="105.9" r="1.85"/>
<circle cx="435.7" cy="108.3" r="1.85"/>
<circle cx="437.4" cy="110.6" r="1.85"/>
<circle cx="439.1" cy="112.0" r="1.85"/>
<circle cx="440.9" cy="114.0" r="1.85"/>
</g>
<g stroke="#358cd2" fill="#a4cbea">
<circle cx="272.7" cy="122.9" r="1.85"/>
<circle cx="274.4" cy="123.8" r="1.85"/>
<circle cx="276.1" cy="124.8" r="1.85"/>
<circle cx="277.8" cy="124.6" r="1.85"/>
<circle cx="279.6" cy="123.2" r="1.85"/>
<circle cx="281.3" cy="124.6" r="1.85"/>
<circle cx="283.0" cy="123.8" r="1.85"/>
<circle cx="284.7" cy="126.4" r="1.85"/>
<circle cx="286.4" cy="125.6" r="1.85"/>
<circle cx="288.1" cy="125.9" r="1.85"/>
<circle cx="289.9" cy="125.1" r="1.85"/>
<circle cx="291.6" cy="126.0" r="1.85"/>
<circle cx="293.3" cy="126.5" r="1.85"/>
<circle cx="295.0" cy="125.5" r="1.85"/>
<circle cx="296.7" cy="127.4" r="1.85"/>
<circle cx="298.4" cy="125.9" r="1.85"/>
<circle cx="300.2" cy="125.0" r="1.85"/>
<circle cx="301.9" cy="126.2" r="1.85"/>
<circle cx="303.6" cy="125.2" r="1.85"/>
<circle cx="305.3" cy="125.6" r="1.85"/>
<circle cx="307.0" cy="124.9" r="1.85"/>
<circle cx="308.7" cy="124.0" r="1.85"/>
<circle cx="310.4" cy="123.4" r="1.85"/>
<circle cx="312.2" cy="122.9" r="1.85"/>
<circle cx="313.9" cy="123.3" r="1.85"/>
<circle cx="315.6" cy="120.7" r="1.85"/>
<circle cx="317.3" cy="121.0" r="1.85"/>
<circle cx="319.0" cy="121.1" r="1.85"/>
<circle cx="320.7" cy="118.6" r="1.85"/>
<circle cx="322.5" cy="119.3" r="1.85"/>
<circle cx="324.2" cy="116.4" r="1.85"/>
<circle cx="325.9" cy="116.4" r="1.85"/>
<circle cx="327.6" cy="116.1" r="1.85"/>
<circle cx="329.3" cy="115.2" r="1.85"/>
<circle cx="331.0" cy="114.2" r="1.85"/>
<circle cx="332.8" cy="112.6" r="1.85"/>
<circle cx="334.5" cy="110.6" r="1.85"/>
<circle cx="336.2" cy="107.5" r="1.85"/>
<circle cx="337.9" cy="106.8" r="1.85"/>
<circle cx="339.6" cy="105.2" r="1.85"/>
<circle cx="341.3" cy="103.0" r="1.85"/>
<circle cx="343.0" cy="101.7" r="1.85"/>
<circle cx="344.8" cy="100.5" r="1.85"/>
<circle cx="346.5" cy="98.7" r="1.85"/>
<circle cx="348.2" cy="94.2" r="1.85"/>
<circle cx="349.9" cy="93.5" r="1.85"/>
<circle cx="351.6" cy="89.9" r="1.85"/>
<circle cx="353.3" cy="87.5" r="1.85"/>
<circle cx="355.1" cy="86.7" r="1.85"/>
<circle cx="356.8" cy="84.1" r="1.85"/>
<circle cx="358.5" cy="82.7" r="1.85"/>
<circle cx="360.2" cy="80.0" r="1.85"/>
<circle cx="361.9" cy="77.1" r="1.85"/>
<circle cx="363.6" cy="74.4" r="1.85"/>
<circle cx="365.4" cy="70.2" r="1.85"/>
<circle cx="367.1" cy="68.7" r="1.85"/>
<circle cx="368.8" cy="65.1" r="1.85"/>
<circle cx="370.5" cy="63.0" r="1.85"/>
<circle cx="372.2" cy="59.8" r="1.85"/>
<circle cx="373.9" cy="56.0" r="1.85"/>
<circle cx="375.7" cy="56.1" r="1.85"/>
<circle cx="377.4" cy="51.0" r="1.85"/>
<circle cx="379.1" cy="49.6" r="1.85"/>
<circle cx="380.8" cy="46.0" r="1.85"/>
<circle cx="382.5" cy="43.7" r="1.85"/>
<circle cx="384.2" cy="41.1" r="1.85"/>
<circle cx="385.9" cy="39.2" r="1.85"/>
<circle cx="387.7" cy="37.7" r="1.85"/>
<circle cx="389.4" cy="31.1" r="1.85"/>
<circle cx="391.1" cy="30.1" r="1.85"/>
<circle cx="392.8" cy="28.9" r="1.85"/>
<circle cx="394.5" cy="28.4" r="1.85"/>
<circle cx="396.2" cy="25.5" r="1.85"/>
<circle cx="398.0" cy="25.0" r="1.85"/>
<circle cx="399.7" cy="26.6" r="1.85"/>
<circle cx="401.4" cy="29.5" r="1.85"/>
<circle cx="403.1" cy="30.7" r="1.85"/>
<circle cx="404.8" cy="33.2" r="1.85"/>
<circle cx="406.5" cy="37.2" r="1.85"/>
<circle cx="408.3" cy="41.4" r="1.85"/>
<circle cx="410.0" cy="48.8" r="1.85"/>
<circle cx="411.7" cy="53.4" r="1.85"/>
<circle cx="413.4" cy="59.2" r="1.85"/>
<circle cx="415.1" cy="60.1" r="1.85"/>
<circle cx="416.8" cy="64.4" r="1.85"/>
<circle cx="418.5" cy="69.2" r="1.85"/>
<circle cx="420.3" cy="74.3" r="1.85"/>
<circle cx="422.0" cy="76.2" r="1.85"/>
<circle cx="423.7" cy="82.5" r="1.85"/>
<circle cx="425.4" cy="86.8" r="1.85"/>
<circle cx="427.1" cy="91.6" r="1.85"/>
<circle cx="428.8" cy="95.2" r="1.85"/>
<circle cx="430.6" cy="98.5" r="1.85"/>
<circle cx="432.3" cy="102.3" r="1.85"/>
<circle cx="434.0" cy="103.9" r="1.85"/>
<circle cx="435.7" cy="107.5" r="1.85"/>
<circle cx="437.4" cy="110.8" r="1.85"/>
<circle cx="439.1" cy="113.5" r="1.85"/>
<circle cx="440.9" cy="114.8" r="1.85"/>
</g>
</g>
<rect x="274.4" y="5.5" width="166.6" height="133.5" fill="none" stroke="#111" stroke-width="1.1"/>
<line x1="274.4" y1="139" x2="274.4" y2="141.2" stroke="#111" stroke-width="1.0" />
<text x="275" y="154.6" font-size="11.3" text-anchor="middle" font-weight="bold" >1.9</text>
<line x1="329.75" y1="139" x2="329.75" y2="141.2" stroke="#111" stroke-width="1.0" />
<text x="330.35" y="154.6" font-size="11.3" text-anchor="middle" font-weight="bold" >1.8</text>
<line x1="385.1" y1="139" x2="385.1" y2="141.2" stroke="#111" stroke-width="1.0" />
<text x="385.7" y="154.6" font-size="11.3" text-anchor="middle" font-weight="bold" >1.7</text>
<line x1="440.45" y1="139" x2="440.45" y2="141.2" stroke="#111" stroke-width="1.0" />
<text x="441.05" y="154.6" font-size="11.3" text-anchor="middle" font-weight="bold" >1.6</text>
<line x1="302.07" y1="139" x2="302.07" y2="140.6" stroke="#111" stroke-width="1.0" />
<line x1="357.42" y1="139" x2="357.42" y2="140.6" stroke="#111" stroke-width="1.0" />
<line x1="412.77" y1="139" x2="412.77" y2="140.6" stroke="#111" stroke-width="1.0" />
<line x1="272.2" y1="5.46" x2="274.4" y2="5.46" stroke="#111" stroke-width="1.0" />
<text x="268.9" y="9.46" font-size="11.3" text-anchor="end" font-weight="bold" >1.2</text>
<line x1="272.2" y1="43.74" x2="274.4" y2="43.74" stroke="#111" stroke-width="1.0" />
<text x="268.9" y="47.74" font-size="11.3" text-anchor="end" font-weight="bold" >0.8</text>
<line x1="272.2" y1="82.02" x2="274.4" y2="82.02" stroke="#111" stroke-width="1.0" />
<text x="268.9" y="86.02" font-size="11.3" text-anchor="end" font-weight="bold" >0.4</text>
<line x1="272.2" y1="120.3" x2="274.4" y2="120.3" stroke="#111" stroke-width="1.0" />
<text x="268.9" y="124.3" font-size="11.3" text-anchor="end" font-weight="bold" >0.0</text>
<line x1="272.8" y1="24.6" x2="274.4" y2="24.6" stroke="#111" stroke-width="1.0" />
<line x1="272.8" y1="62.88" x2="274.4" y2="62.88" stroke="#111" stroke-width="1.0" />
<line x1="272.8" y1="101.16" x2="274.4" y2="101.16" stroke="#111" stroke-width="1.0" />
<text x="361.5" y="168.4" font-size="11.7" text-anchor="middle" font-weight="bold" >Photo energy (eV)</text>
<text x="248.6" y="67.95" font-size="11.6" text-anchor="middle" font-weight="bold" transform="rotate(-90 248.6 67.95)">-&#916;A (Norm.)</text>
<text x="232.6" y="8.8" font-size="15" text-anchor="start" font-weight="bold" >c</text>
<text x="437.2" y="19.2" font-size="10" font-weight="bold" text-anchor="end">PVK<tspan dx="0.7" font-weight="normal">/</tspan><tspan dx="0.7">C</tspan><tspan font-size="7.2" dy="2">60</tspan></text>
<circle cx="280.3" cy="10.2" r="2.0" fill="#e41e2e"/>
<text x="283.9" y="12.7" font-size="7" text-anchor="start" font-weight="bold" >1.2 ps</text>
<circle cx="280.3" cy="18.68" r="2.0" fill="#e2243a"/>
<text x="283.9" y="21.18" font-size="7" text-anchor="start" font-weight="bold" >1.6 ps</text>
<circle cx="280.3" cy="27.16" r="2.0" fill="#d82a44"/>
<text x="283.9" y="29.66" font-size="7" text-anchor="start" font-weight="bold" >2.2 ps</text>
<circle cx="280.3" cy="35.64" r="2.0" fill="#c8304e"/>
<text x="283.9" y="38.14" font-size="7" text-anchor="start" font-weight="bold" >3.1 ps</text>
<circle cx="280.3" cy="44.12" r="2.0" fill="#b6385c"/>
<text x="283.9" y="46.62" font-size="7" text-anchor="start" font-weight="bold" >5.1 ps</text>
<circle cx="280.3" cy="52.6" r="2.0" fill="#a4406c"/>
<text x="283.9" y="55.1" font-size="7" text-anchor="start" font-weight="bold" >7.4 ps</text>
<circle cx="280.3" cy="61.08" r="2.0" fill="#8c4a82"/>
<text x="283.9" y="63.58" font-size="7" text-anchor="start" font-weight="bold" >10.5 ps</text>
<circle cx="280.3" cy="69.56" r="2.0" fill="#745492"/>
<text x="283.9" y="72.06" font-size="7" text-anchor="start" font-weight="bold" >15.7 ps</text>
<circle cx="280.3" cy="78.04" r="2.0" fill="#5c60a4"/>
<text x="283.9" y="80.54" font-size="7" text-anchor="start" font-weight="bold" >18.6 ps</text>
<circle cx="280.3" cy="86.52" r="2.0" fill="#4a6cb4"/>
<text x="283.9" y="89.02" font-size="7" text-anchor="start" font-weight="bold" >20.8 ps</text>
<circle cx="280.3" cy="95" r="2.0" fill="#3a78c0"/>
<text x="283.9" y="97.5" font-size="7" text-anchor="start" font-weight="bold" >40.3 ps</text>
<circle cx="280.3" cy="103.48" r="2.0" fill="#3282ca"/>
<text x="283.9" y="105.98" font-size="7" text-anchor="start" font-weight="bold" >62.4 ps</text>
<circle cx="280.3" cy="111.96" r="2.0" fill="#358cd2"/>
<text x="283.9" y="114.46" font-size="7" text-anchor="start" font-weight="bold" >81.9 ps</text>
<line x1="326.5" y1="84.3" x2="350.76" y2="107.96" stroke="#000" stroke-width="1.1" />
<path d="M354.7,111.8 L349.1,109.7 L352.4,106.2 Z" fill="#000"/>
<text x="325.3" y="81" font-size="8.5" text-anchor="middle" font-weight="bold" >1.2 ps</text>
<text x="359.5" y="122.4" font-size="8.5" text-anchor="middle" font-weight="bold" >81.9 ps</text>
<clipPath id="cld"><rect x="270.3" y="186.2" width="170.3" height="134.8"/></clipPath>
<rect x="313.5" y="186.2" width="44.10000000000002" height="134.8" fill="#cde5ea"/>
<g clip-path="url(#cld)" stroke-width="1.1">
<g stroke="#e41e2e" fill="#f299a0">
<circle cx="271.8" cy="306.9" r="1.85"/>
<circle cx="273.5" cy="305.4" r="1.85"/>
<circle cx="275.3" cy="306.7" r="1.85"/>
<circle cx="277.0" cy="306.4" r="1.85"/>
<circle cx="278.7" cy="305.8" r="1.85"/>
<circle cx="280.4" cy="307.0" r="1.85"/>
<circle cx="282.2" cy="307.6" r="1.85"/>
<circle cx="283.9" cy="305.7" r="1.85"/>
<circle cx="285.6" cy="308.2" r="1.85"/>
<circle cx="287.3" cy="307.9" r="1.85"/>
<circle cx="289.1" cy="307.8" r="1.85"/>
<circle cx="290.8" cy="307.3" r="1.85"/>
<circle cx="292.5" cy="306.6" r="1.85"/>
<circle cx="294.2" cy="309.0" r="1.85"/>
<circle cx="296.0" cy="306.4" r="1.85"/>
<circle cx="297.7" cy="304.3" r="1.85"/>
<circle cx="299.4" cy="304.2" r="1.85"/>
<circle cx="301.1" cy="304.0" r="1.85"/>
<circle cx="302.9" cy="304.5" r="1.85"/>
<circle cx="304.6" cy="303.8" r="1.85"/>
<circle cx="306.3" cy="303.9" r="1.85"/>
<circle cx="308.0" cy="304.3" r="1.85"/>
<circle cx="309.8" cy="301.8" r="1.85"/>
<circle cx="311.5" cy="300.5" r="1.85"/>
<circle cx="313.2" cy="300.4" r="1.85"/>
<circle cx="314.9" cy="300.0" r="1.85"/>
<circle cx="316.7" cy="298.5" r="1.85"/>
<circle cx="318.4" cy="298.1" r="1.85"/>
<circle cx="320.1" cy="296.6" r="1.85"/>
<circle cx="321.8" cy="297.1" r="1.85"/>
<circle cx="323.6" cy="297.3" r="1.85"/>
<circle cx="325.3" cy="294.3" r="1.85"/>
<circle cx="327.0" cy="293.0" r="1.85"/>
<circle cx="328.7" cy="293.3" r="1.85"/>
<circle cx="330.5" cy="291.1" r="1.85"/>
<circle cx="332.2" cy="289.0" r="1.85"/>
<circle cx="333.9" cy="290.0" r="1.85"/>
<circle cx="335.6" cy="283.3" r="1.85"/>
<circle cx="337.4" cy="282.6" r="1.85"/>
<circle cx="339.1" cy="281.3" r="1.85"/>
<circle cx="340.8" cy="279.9" r="1.85"/>
<circle cx="342.5" cy="278.0" r="1.85"/>
<circle cx="344.3" cy="271.4" r="1.85"/>
<circle cx="346.0" cy="272.4" r="1.85"/>
<circle cx="347.7" cy="269.2" r="1.85"/>
<circle cx="349.4" cy="268.0" r="1.85"/>
<circle cx="351.2" cy="265.3" r="1.85"/>
<circle cx="352.9" cy="262.0" r="1.85"/>
<circle cx="354.6" cy="260.8" r="1.85"/>
<circle cx="356.3" cy="257.4" r="1.85"/>
<circle cx="358.1" cy="254.9" r="1.85"/>
<circle cx="359.8" cy="251.7" r="1.85"/>
<circle cx="361.5" cy="248.8" r="1.85"/>
<circle cx="363.2" cy="247.1" r="1.85"/>
<circle cx="365.0" cy="243.2" r="1.85"/>
<circle cx="366.7" cy="242.3" r="1.85"/>
<circle cx="368.4" cy="239.7" r="1.85"/>
<circle cx="370.1" cy="236.7" r="1.85"/>
<circle cx="371.9" cy="234.5" r="1.85"/>
<circle cx="373.6" cy="231.1" r="1.85"/>
<circle cx="375.3" cy="231.7" r="1.85"/>
<circle cx="377.0" cy="228.2" r="1.85"/>
<circle cx="378.8" cy="226.0" r="1.85"/>
<circle cx="380.5" cy="220.4" r="1.85"/>
<circle cx="382.2" cy="218.7" r="1.85"/>
<circle cx="383.9" cy="218.0" r="1.85"/>
<circle cx="385.7" cy="215.0" r="1.85"/>
<circle cx="387.4" cy="215.1" r="1.85"/>
<circle cx="389.1" cy="212.4" r="1.85"/>
<circle cx="390.8" cy="209.7" r="1.85"/>
<circle cx="392.6" cy="209.5" r="1.85"/>
<circle cx="394.3" cy="208.0" r="1.85"/>
<circle cx="396.0" cy="210.3" r="1.85"/>
<circle cx="397.7" cy="208.8" r="1.85"/>
<circle cx="399.5" cy="210.0" r="1.85"/>
<circle cx="401.2" cy="210.7" r="1.85"/>
<circle cx="402.9" cy="211.9" r="1.85"/>
<circle cx="404.6" cy="213.0" r="1.85"/>
<circle cx="406.4" cy="214.6" r="1.85"/>
<circle cx="408.1" cy="218.3" r="1.85"/>
<circle cx="409.8" cy="221.2" r="1.85"/>
<circle cx="411.5" cy="225.4" r="1.85"/>
<circle cx="413.3" cy="229.3" r="1.85"/>
<circle cx="415.0" cy="235.0" r="1.85"/>
<circle cx="416.7" cy="238.3" r="1.85"/>
<circle cx="418.4" cy="243.4" r="1.85"/>
<circle cx="420.2" cy="248.2" r="1.85"/>
<circle cx="421.9" cy="252.8" r="1.85"/>
<circle cx="423.6" cy="257.5" r="1.85"/>
<circle cx="425.3" cy="261.8" r="1.85"/>
<circle cx="427.1" cy="265.8" r="1.85"/>
<circle cx="428.8" cy="269.1" r="1.85"/>
<circle cx="430.5" cy="270.8" r="1.85"/>
<circle cx="432.2" cy="274.3" r="1.85"/>
<circle cx="434.0" cy="278.9" r="1.85"/>
<circle cx="435.7" cy="281.1" r="1.85"/>
<circle cx="437.4" cy="281.4" r="1.85"/>
<circle cx="439.1" cy="282.8" r="1.85"/>
<circle cx="440.9" cy="285.0" r="1.85"/>
</g>
<g stroke="#e2243a" fill="#f19ca6">
<circle cx="271.8" cy="303.9" r="1.85"/>
<circle cx="273.5" cy="306.4" r="1.85"/>
<circle cx="275.3" cy="305.5" r="1.85"/>
<circle cx="277.0" cy="306.6" r="1.85"/>
<circle cx="278.7" cy="304.2" r="1.85"/>
<circle cx="280.4" cy="306.0" r="1.85"/>
<circle cx="282.2" cy="306.1" r="1.85"/>
<circle cx="283.9" cy="306.3" r="1.85"/>
<circle cx="285.6" cy="307.4" r="1.85"/>
<circle cx="287.3" cy="306.9" r="1.85"/>
<circle cx="289.1" cy="308.9" r="1.85"/>
<circle cx="290.8" cy="307.1" r="1.85"/>
<circle cx="292.5" cy="307.5" r="1.85"/>
<circle cx="294.2" cy="305.6" r="1.85"/>
<circle cx="296.0" cy="304.9" r="1.85"/>
<circle cx="297.7" cy="305.5" r="1.85"/>
<circle cx="299.4" cy="306.3" r="1.85"/>
<circle cx="301.1" cy="306.0" r="1.85"/>
<circle cx="302.9" cy="304.0" r="1.85"/>
<circle cx="304.6" cy="304.4" r="1.85"/>
<circle cx="306.3" cy="303.9" r="1.85"/>
<circle cx="308.0" cy="304.0" r="1.85"/>
<circle cx="309.8" cy="302.2" r="1.85"/>
<circle cx="311.5" cy="301.5" r="1.85"/>
<circle cx="313.2" cy="300.3" r="1.85"/>
<circle cx="314.9" cy="301.1" r="1.85"/>
<circle cx="316.7" cy="299.6" r="1.85"/>
<circle cx="318.4" cy="300.0" r="1.85"/>
<circle cx="320.1" cy="297.7" r="1.85"/>
<circle cx="321.8" cy="297.1" r="1.85"/>
<circle cx="323.6" cy="296.5" r="1.85"/>
<circle cx="325.3" cy="294.4" r="1.85"/>
<circle cx="327.0" cy="295.3" r="1.85"/>
<circle cx="328.7" cy="291.7" r="1.85"/>
<circle cx="330.5" cy="291.4" r="1.85"/>
<circle cx="332.2" cy="289.6" r="1.85"/>
<circle cx="333.9" cy="287.9" r="1.85"/>
<circle cx="335.6" cy="286.6" r="1.85"/>
<circle cx="337.4" cy="284.4" r="1.85"/>
<circle cx="339.1" cy="280.9" r="1.85"/>
<circle cx="340.8" cy="279.5" r="1.85"/>
<circle cx="342.5" cy="277.0" r="1.85"/>
<circle cx="344.3" cy="275.3" r="1.85"/>
<circle cx="346.0" cy="272.0" r="1.85"/>
<circle cx="347.7" cy="269.9" r="1.85"/>
<circle cx="349.4" cy="269.4" r="1.85"/>
<circle cx="351.2" cy="264.1" r="1.85"/>
<circle cx="352.9" cy="262.5" r="1.85"/>
<circle cx="354.6" cy="260.1" r="1.85"/>
<circle cx="356.3" cy="257.9" r="1.85"/>
<circle cx="358.1" cy="255.6" r="1.85"/>
<circle cx="359.8" cy="252.2" r="1.85"/>
<circle cx="361.5" cy="248.1" r="1.85"/>
<circle cx="363.2" cy="247.9" r="1.85"/>
<circle cx="365.0" cy="246.3" r="1.85"/>
<circle cx="366.7" cy="242.8" r="1.85"/>
<circle cx="368.4" cy="240.1" r="1.85"/>
<circle cx="370.1" cy="236.8" r="1.85"/>
<circle cx="371.9" cy="236.2" r="1.85"/>
<circle cx="373.6" cy="232.9" r="1.85"/>
<circle cx="375.3" cy="230.2" r="1.85"/>
<circle cx="377.0" cy="226.3" r="1.85"/>
<circle cx="378.8" cy="223.6" r="1.85"/>
<circle cx="380.5" cy="221.9" r="1.85"/>
<circle cx="382.2" cy="218.8" r="1.85"/>
<circle cx="383.9" cy="217.5" r="1.85"/>
<circle cx="385.7" cy="215.4" r="1.85"/>
<circle cx="387.4" cy="215.7" r="1.85"/>
<circle cx="389.1" cy="212.9" r="1.85"/>
<circle cx="390.8" cy="211.9" r="1.85"/>
<circle cx="392.6" cy="209.6" r="1.85"/>
<circle cx="394.3" cy="209.6" r="1.85"/>
<circle cx="396.0" cy="210.6" r="1.85"/>
<circle cx="397.7" cy="209.6" r="1.85"/>
<circle cx="399.5" cy="210.0" r="1.85"/>
<circle cx="401.2" cy="210.4" r="1.85"/>
<circle cx="402.9" cy="212.3" r="1.85"/>
<circle cx="404.6" cy="214.1" r="1.85"/>
<circle cx="406.4" cy="214.5" r="1.85"/>
<circle cx="408.1" cy="218.4" r="1.85"/>
<circle cx="409.8" cy="220.5" r="1.85"/>
<circle cx="411.5" cy="225.9" r="1.85"/>
<circle cx="413.3" cy="229.6" r="1.85"/>
<circle cx="415.0" cy="234.5" r="1.85"/>
<circle cx="416.7" cy="240.0" r="1.85"/>
<circle cx="418.4" cy="243.4" r="1.85"/>
<circle cx="420.2" cy="249.7" r="1.85"/>
<circle cx="421.9" cy="252.6" r="1.85"/>
<circle cx="423.6" cy="258.9" r="1.85"/>
<circle cx="425.3" cy="260.4" r="1.85"/>
<circle cx="427.1" cy="264.9" r="1.85"/>
<circle cx="428.8" cy="267.5" r="1.85"/>
<circle cx="430.5" cy="270.0" r="1.85"/>
<circle cx="432.2" cy="275.5" r="1.85"/>
<circle cx="434.0" cy="277.9" r="1.85"/>
<circle cx="435.7" cy="281.8" r="1.85"/>
<circle cx="437.4" cy="283.4" r="1.85"/>
<circle cx="439.1" cy="284.8" r="1.85"/>
<circle cx="440.9" cy="286.2" r="1.85"/>
</g>
<g stroke="#d82a44" fill="#ed9faa">
<circle cx="271.8" cy="305.2" r="1.85"/>
<circle cx="273.5" cy="305.5" r="1.85"/>
<circle cx="275.3" cy="305.1" r="1.85"/>
<circle cx="277.0" cy="306.7" r="1.85"/>
<circle cx="278.7" cy="306.2" r="1.85"/>
<circle cx="280.4" cy="307.4" r="1.85"/>
<circle cx="282.2" cy="306.8" r="1.85"/>
<circle cx="283.9" cy="309.2" r="1.85"/>
<circle cx="285.6" cy="307.1" r="1.85"/>
<circle cx="287.3" cy="307.0" r="1.85"/>
<circle cx="289.1" cy="307.4" r="1.85"/>
<circle cx="290.8" cy="307.3" r="1.85"/>
<circle cx="292.5" cy="308.3" r="1.85"/>
<circle cx="294.2" cy="307.2" r="1.85"/>
<circle cx="296.0" cy="306.8" r="1.85"/>
<circle cx="297.7" cy="305.8" r="1.85"/>
<circle cx="299.4" cy="305.3" r="1.85"/>
<circle cx="301.1" cy="305.7" r="1.85"/>
<circle cx="302.9" cy="305.1" r="1.85"/>
<circle cx="304.6" cy="304.3" r="1.85"/>
<circle cx="306.3" cy="304.9" r="1.85"/>
<circle cx="308.0" cy="302.6" r="1.85"/>
<circle cx="309.8" cy="301.1" r="1.85"/>
<circle cx="311.5" cy="301.9" r="1.85"/>
<circle cx="313.2" cy="302.0" r="1.85"/>
<circle cx="314.9" cy="300.7" r="1.85"/>
<circle cx="316.7" cy="299.1" r="1.85"/>
<circle cx="318.4" cy="298.3" r="1.85"/>
<circle cx="320.1" cy="299.8" r="1.85"/>
<circle cx="321.8" cy="297.4" r="1.85"/>
<circle cx="323.6" cy="297.5" r="1.85"/>
<circle cx="325.3" cy="296.3" r="1.85"/>
<circle cx="327.0" cy="294.6" r="1.85"/>
<circle cx="328.7" cy="293.3" r="1.85"/>
<circle cx="330.5" cy="292.7" r="1.85"/>
<circle cx="332.2" cy="291.7" r="1.85"/>
<circle cx="333.9" cy="289.2" r="1.85"/>
<circle cx="335.6" cy="287.8" r="1.85"/>
<circle cx="337.4" cy="283.3" r="1.85"/>
<circle cx="339.1" cy="284.1" r="1.85"/>
<circle cx="340.8" cy="280.0" r="1.85"/>
<circle cx="342.5" cy="278.2" r="1.85"/>
<circle cx="344.3" cy="276.1" r="1.85"/>
<circle cx="346.0" cy="274.8" r="1.85"/>
<circle cx="347.7" cy="272.1" r="1.85"/>
<circle cx="349.4" cy="269.8" r="1.85"/>
<circle cx="351.2" cy="267.6" r="1.85"/>
<circle cx="352.9" cy="264.9" r="1.85"/>
<circle cx="354.6" cy="262.1" r="1.85"/>
<circle cx="356.3" cy="259.9" r="1.85"/>
<circle cx="358.1" cy="256.6" r="1.85"/>
<circle cx="359.8" cy="253.8" r="1.85"/>
<circle cx="361.5" cy="252.3" r="1.85"/>
<circle cx="363.2" cy="248.6" r="1.85"/>
<circle cx="365.0" cy="246.6" r="1.85"/>
<circle cx="366.7" cy="244.6" r="1.85"/>
<circle cx="368.4" cy="241.1" r="1.85"/>
<circle cx="370.1" cy="238.0" r="1.85"/>
<circle cx="371.9" cy="236.6" r="1.85"/>
<circle cx="373.6" cy="235.3" r="1.85"/>
<circle cx="375.3" cy="230.3" r="1.85"/>
<circle cx="377.0" cy="227.3" r="1.85"/>
<circle cx="378.8" cy="226.4" r="1.85"/>
<circle cx="380.5" cy="222.9" r="1.85"/>
<circle cx="382.2" cy="220.0" r="1.85"/>
<circle cx="383.9" cy="220.1" r="1.85"/>
<circle cx="385.7" cy="215.2" r="1.85"/>
<circle cx="387.4" cy="213.3" r="1.85"/>
<circle cx="389.1" cy="211.6" r="1.85"/>
<circle cx="390.8" cy="209.7" r="1.85"/>
<circle cx="392.6" cy="210.9" r="1.85"/>
<circle cx="394.3" cy="208.8" r="1.85"/>
<circle cx="396.0" cy="207.6" r="1.85"/>
<circle cx="397.7" cy="211.4" r="1.85"/>
<circle cx="399.5" cy="210.1" r="1.85"/>
<circle cx="401.2" cy="209.9" r="1.85"/>
<circle cx="402.9" cy="212.3" r="1.85"/>
<circle cx="404.6" cy="214.9" r="1.85"/>
<circle cx="406.4" cy="215.1" r="1.85"/>
<circle cx="408.1" cy="217.8" r="1.85"/>
<circle cx="409.8" cy="221.9" r="1.85"/>
<circle cx="411.5" cy="224.8" r="1.85"/>
<circle cx="413.3" cy="228.6" r="1.85"/>
<circle cx="415.0" cy="233.3" r="1.85"/>
<circle cx="416.7" cy="238.8" r="1.85"/>
<circle cx="418.4" cy="245.2" r="1.85"/>
<circle cx="420.2" cy="249.0" r="1.85"/>
<circle cx="421.9" cy="254.9" r="1.85"/>
<circle cx="423.6" cy="258.1" r="1.85"/>
<circle cx="425.3" cy="261.1" r="1.85"/>
<circle cx="427.1" cy="264.7" r="1.85"/>
<circle cx="428.8" cy="268.8" r="1.85"/>
<circle cx="430.5" cy="272.1" r="1.85"/>
<circle cx="432.2" cy="277.1" r="1.85"/>
<circle cx="434.0" cy="279.6" r="1.85"/>
<circle cx="435.7" cy="282.4" r="1.85"/>
<circle cx="437.4" cy="284.3" r="1.85"/>
<circle cx="439.1" cy="286.1" r="1.85"/>
<circle cx="440.9" cy="285.2" r="1.85"/>
</g>
<g stroke="#c8304e" fill="#e6a1af">
<circle cx="271.8" cy="305.1" r="1.85"/>
<circle cx="273.5" cy="307.0" r="1.85"/>
<circle cx="275.3" cy="306.7" r="1.85"/>
<circle cx="277.0" cy="306.8" r="1.85"/>
<circle cx="278.7" cy="307.0" r="1.85"/>
<circle cx="280.4" cy="307.2" r="1.85"/>
<circle cx="282.2" cy="308.7" r="1.85"/>
<circle cx="283.9" cy="306.1" r="1.85"/>
<circle cx="285.6" cy="306.7" r="1.85"/>
<circle cx="287.3" cy="306.8" r="1.85"/>
<circle cx="289.1" cy="307.3" r="1.85"/>
<circle cx="290.8" cy="306.9" r="1.85"/>
<circle cx="292.5" cy="307.4" r="1.85"/>
<circle cx="294.2" cy="308.7" r="1.85"/>
<circle cx="296.0" cy="306.6" r="1.85"/>
<circle cx="297.7" cy="306.4" r="1.85"/>
<circle cx="299.4" cy="307.3" r="1.85"/>
<circle cx="301.1" cy="307.8" r="1.85"/>
<circle cx="302.9" cy="304.5" r="1.85"/>
<circle cx="304.6" cy="306.0" r="1.85"/>
<circle cx="306.3" cy="304.9" r="1.85"/>
<circle cx="308.0" cy="304.7" r="1.85"/>
<circle cx="309.8" cy="302.1" r="1.85"/>
<circle cx="311.5" cy="304.2" r="1.85"/>
<circle cx="313.2" cy="301.4" r="1.85"/>
<circle cx="314.9" cy="303.8" r="1.85"/>
<circle cx="316.7" cy="300.1" r="1.85"/>
<circle cx="318.4" cy="300.7" r="1.85"/>
<circle cx="320.1" cy="301.4" r="1.85"/>
<circle cx="321.8" cy="298.6" r="1.85"/>
<circle cx="323.6" cy="297.8" r="1.85"/>
<circle cx="325.3" cy="298.2" r="1.85"/>
<circle cx="327.0" cy="295.5" r="1.85"/>
<circle cx="328.7" cy="294.8" r="1.85"/>
<circle cx="330.5" cy="293.1" r="1.85"/>
<circle cx="332.2" cy="293.2" r="1.85"/>
<circle cx="333.9" cy="290.8" r="1.85"/>
<circle cx="335.6" cy="289.0" r="1.85"/>
<circle cx="337.4" cy="286.0" r="1.85"/>
<circle cx="339.1" cy="284.5" r="1.85"/>
<circle cx="340.8" cy="282.8" r="1.85"/>
<circle cx="342.5" cy="278.5" r="1.85"/>
<circle cx="344.3" cy="278.0" r="1.85"/>
<circle cx="346.0" cy="274.5" r="1.85"/>
<circle cx="347.7" cy="272.6" r="1.85"/>
<circle cx="349.4" cy="271.7" r="1.85"/>
<circle cx="351.2" cy="270.5" r="1.85"/>
<circle cx="352.9" cy="266.3" r="1.85"/>
<circle cx="354.6" cy="263.4" r="1.85"/>
<circle cx="356.3" cy="260.4" r="1.85"/>
<circle cx="358.1" cy="258.5" r="1.85"/>
<circle cx="359.8" cy="255.9" r="1.85"/>
<circle cx="361.5" cy="254.2" r="1.85"/>
<circle cx="363.2" cy="251.7" r="1.85"/>
<circle cx="365.0" cy="245.7" r="1.85"/>
<circle cx="366.7" cy="244.9" r="1.85"/>
<circle cx="368.4" cy="244.5" r="1.85"/>
<circle cx="370.1" cy="240.4" r="1.85"/>
<circle cx="371.9" cy="237.6" r="1.85"/>
<circle cx="373.6" cy="236.8" r="1.85"/>
<circle cx="375.3" cy="232.6" r="1.85"/>
<circle cx="377.0" cy="228.9" r="1.85"/>
<circle cx="378.8" cy="225.1" r="1.85"/>
<circle cx="380.5" cy="222.3" r="1.85"/>
<circle cx="382.2" cy="221.4" r="1.85"/>
<circle cx="383.9" cy="218.9" r="1.85"/>
<circle cx="385.7" cy="216.7" r="1.85"/>
<circle cx="387.4" cy="214.0" r="1.85"/>
<circle cx="389.1" cy="211.7" r="1.85"/>
<circle cx="390.8" cy="212.0" r="1.85"/>
<circle cx="392.6" cy="210.1" r="1.85"/>
<circle cx="394.3" cy="210.0" r="1.85"/>
<circle cx="396.0" cy="210.0" r="1.85"/>
<circle cx="397.7" cy="209.7" r="1.85"/>
<circle cx="399.5" cy="207.9" r="1.85"/>
<circle cx="401.2" cy="208.7" r="1.85"/>
<circle cx="402.9" cy="210.0" r="1.85"/>
<circle cx="404.6" cy="214.4" r="1.85"/>
<circle cx="406.4" cy="214.8" r="1.85"/>
<circle cx="408.1" cy="215.6" r="1.85"/>
<circle cx="409.8" cy="220.7" r="1.85"/>
<circle cx="411.5" cy="225.5" r="1.85"/>
<circle cx="413.3" cy="228.7" r="1.85"/>
<circle cx="415.0" cy="234.4" r="1.85"/>
<circle cx="416.7" cy="239.6" r="1.85"/>
<circle cx="418.4" cy="244.0" r="1.85"/>
<circle cx="420.2" cy="248.4" r="1.85"/>
<circle cx="421.9" cy="253.3" r="1.85"/>
<circle cx="423.6" cy="257.4" r="1.85"/>
<circle cx="425.3" cy="262.3" r="1.85"/>
<circle cx="427.1" cy="265.4" r="1.85"/>
<circle cx="428.8" cy="268.4" r="1.85"/>
<circle cx="430.5" cy="272.4" r="1.85"/>
<circle cx="432.2" cy="276.0" r="1.85"/>
<circle cx="434.0" cy="280.4" r="1.85"/>
<circle cx="435.7" cy="281.2" r="1.85"/>
<circle cx="437.4" cy="285.7" r="1.85"/>
<circle cx="439.1" cy="286.0" r="1.85"/>
<circle cx="440.9" cy="288.4" r="1.85"/>
</g>
<g stroke="#b6385c" fill="#dea5b5">
<circle cx="271.8" cy="305.5" r="1.85"/>
<circle cx="273.5" cy="305.3" r="1.85"/>
<circle cx="275.3" cy="306.7" r="1.85"/>
<circle cx="277.0" cy="309.2" r="1.85"/>
<circle cx="278.7" cy="308.6" r="1.85"/>
<circle cx="280.4" cy="307.9" r="1.85"/>
<circle cx="282.2" cy="308.1" r="1.85"/>
<circle cx="283.9" cy="307.3" r="1.85"/>
<circle cx="285.6" cy="305.9" r="1.85"/>
<circle cx="287.3" cy="307.2" r="1.85"/>
<circle cx="289.1" cy="307.9" r="1.85"/>
<circle cx="290.8" cy="306.5" r="1.85"/>
<circle cx="292.5" cy="307.8" r="1.85"/>
<circle cx="294.2" cy="306.7" r="1.85"/>
<circle cx="296.0" cy="306.9" r="1.85"/>
<circle cx="297.7" cy="308.8" r="1.85"/>
<circle cx="299.4" cy="306.0" r="1.85"/>
<circle cx="301.1" cy="305.0" r="1.85"/>
<circle cx="302.9" cy="306.6" r="1.85"/>
<circle cx="304.6" cy="305.3" r="1.85"/>
<circle cx="306.3" cy="305.2" r="1.85"/>
<circle cx="308.0" cy="305.4" r="1.85"/>
<circle cx="309.8" cy="304.9" r="1.85"/>
<circle cx="311.5" cy="303.2" r="1.85"/>
<circle cx="313.2" cy="304.0" r="1.85"/>
<circle cx="314.9" cy="303.3" r="1.85"/>
<circle cx="316.7" cy="301.5" r="1.85"/>
<circle cx="318.4" cy="300.8" r="1.85"/>
<circle cx="320.1" cy="299.5" r="1.85"/>
<circle cx="321.8" cy="300.6" r="1.85"/>
<circle cx="323.6" cy="300.4" r="1.85"/>
<circle cx="325.3" cy="297.4" r="1.85"/>
<circle cx="327.0" cy="298.8" r="1.85"/>
<circle cx="328.7" cy="296.7" r="1.85"/>
<circle cx="330.5" cy="295.4" r="1.85"/>
<circle cx="332.2" cy="292.3" r="1.85"/>
<circle cx="333.9" cy="292.0" r="1.85"/>
<circle cx="335.6" cy="291.2" r="1.85"/>
<circle cx="337.4" cy="288.3" r="1.85"/>
<circle cx="339.1" cy="285.1" r="1.85"/>
<circle cx="340.8" cy="285.8" r="1.85"/>
<circle cx="342.5" cy="283.3" r="1.85"/>
<circle cx="344.3" cy="279.1" r="1.85"/>
<circle cx="346.0" cy="277.9" r="1.85"/>
<circle cx="347.7" cy="276.9" r="1.85"/>
<circle cx="349.4" cy="274.1" r="1.85"/>
<circle cx="351.2" cy="271.7" r="1.85"/>
<circle cx="352.9" cy="270.4" r="1.85"/>
<circle cx="354.6" cy="267.5" r="1.85"/>
<circle cx="356.3" cy="263.2" r="1.85"/>
<circle cx="358.1" cy="261.7" r="1.85"/>
<circle cx="359.8" cy="258.4" r="1.85"/>
<circle cx="361.5" cy="256.9" r="1.85"/>
<circle cx="363.2" cy="254.7" r="1.85"/>
<circle cx="365.0" cy="251.4" r="1.85"/>
<circle cx="366.7" cy="249.8" r="1.85"/>
<circle cx="368.4" cy="246.0" r="1.85"/>
<circle cx="370.1" cy="243.9" r="1.85"/>
<circle cx="371.9" cy="241.1" r="1.85"/>
<circle cx="373.6" cy="238.1" r="1.85"/>
<circle cx="375.3" cy="235.6" r="1.85"/>
<circle cx="377.0" cy="230.4" r="1.85"/>
<circle cx="378.8" cy="229.7" r="1.85"/>
<circle cx="380.5" cy="225.0" r="1.85"/>
<circle cx="382.2" cy="223.4" r="1.85"/>
<circle cx="383.9" cy="218.8" r="1.85"/>
<circle cx="385.7" cy="217.2" r="1.85"/>
<circle cx="387.4" cy="214.5" r="1.85"/>
<circle cx="389.1" cy="212.3" r="1.85"/>
<circle cx="390.8" cy="210.8" r="1.85"/>
<circle cx="392.6" cy="209.7" r="1.85"/>
<circle cx="394.3" cy="208.9" r="1.85"/>
<circle cx="396.0" cy="208.5" r="1.85"/>
<circle cx="397.7" cy="209.1" r="1.85"/>
<circle cx="399.5" cy="209.2" r="1.85"/>
<circle cx="401.2" cy="209.8" r="1.85"/>
<circle cx="402.9" cy="211.3" r="1.85"/>
<circle cx="404.6" cy="212.8" r="1.85"/>
<circle cx="406.4" cy="213.4" r="1.85"/>
<circle cx="408.1" cy="218.5" r="1.85"/>
<circle cx="409.8" cy="219.1" r="1.85"/>
<circle cx="411.5" cy="224.9" r="1.85"/>
<circle cx="413.3" cy="228.5" r="1.85"/>
<circle cx="415.0" cy="234.1" r="1.85"/>
<circle cx="416.7" cy="239.5" r="1.85"/>
<circle cx="418.4" cy="243.9" r="1.85"/>
<circle cx="420.2" cy="247.5" r="1.85"/>
<circle cx="421.9" cy="253.5" r="1.85"/>
<circle cx="423.6" cy="257.6" r="1.85"/>
<circle cx="425.3" cy="262.2" r="1.85"/>
<circle cx="427.1" cy="264.0" r="1.85"/>
<circle cx="428.8" cy="268.5" r="1.85"/>
<circle cx="430.5" cy="272.1" r="1.85"/>
<circle cx="432.2" cy="276.7" r="1.85"/>
<circle cx="434.0" cy="281.9" r="1.85"/>
<circle cx="435.7" cy="283.1" r="1.85"/>
<circle cx="437.4" cy="287.8" r="1.85"/>
<circle cx="439.1" cy="288.9" r="1.85"/>
<circle cx="440.9" cy="289.0" r="1.85"/>
</g>
<g stroke="#a4406c" fill="#d6a9bc">
<circle cx="271.8" cy="306.8" r="1.85"/>
<circle cx="273.5" cy="307.0" r="1.85"/>
<circle cx="275.3" cy="308.4" r="1.85"/>
<circle cx="277.0" cy="306.1" r="1.85"/>
<circle cx="278.7" cy="306.6" r="1.85"/>
<circle cx="280.4" cy="307.7" r="1.85"/>
<circle cx="282.2" cy="307.3" r="1.85"/>
<circle cx="283.9" cy="309.2" r="1.85"/>
<circle cx="285.6" cy="308.8" r="1.85"/>
<circle cx="287.3" cy="308.0" r="1.85"/>
<circle cx="289.1" cy="307.4" r="1.85"/>
<circle cx="290.8" cy="308.1" r="1.85"/>
<circle cx="292.5" cy="309.1" r="1.85"/>
<circle cx="294.2" cy="308.3" r="1.85"/>
<circle cx="296.0" cy="306.8" r="1.85"/>
<circle cx="297.7" cy="308.1" r="1.85"/>
<circle cx="299.4" cy="307.2" r="1.85"/>
<circle cx="301.1" cy="306.8" r="1.85"/>
<circle cx="302.9" cy="307.5" r="1.85"/>
<circle cx="304.6" cy="306.7" r="1.85"/>
<circle cx="306.3" cy="307.9" r="1.85"/>
<circle cx="308.0" cy="306.5" r="1.85"/>
<circle cx="309.8" cy="305.5" r="1.85"/>
<circle cx="311.5" cy="304.4" r="1.85"/>
<circle cx="313.2" cy="303.3" r="1.85"/>
<circle cx="314.9" cy="304.3" r="1.85"/>
<circle cx="316.7" cy="302.9" r="1.85"/>
<circle cx="318.4" cy="302.8" r="1.85"/>
<circle cx="320.1" cy="302.7" r="1.85"/>
<circle cx="321.8" cy="302.0" r="1.85"/>
<circle cx="323.6" cy="300.5" r="1.85"/>
<circle cx="325.3" cy="299.6" r="1.85"/>
<circle cx="327.0" cy="299.4" r="1.85"/>
<circle cx="328.7" cy="295.3" r="1.85"/>
<circle cx="330.5" cy="296.6" r="1.85"/>
<circle cx="332.2" cy="294.7" r="1.85"/>
<circle cx="333.9" cy="293.9" r="1.85"/>
<circle cx="335.6" cy="289.4" r="1.85"/>
<circle cx="337.4" cy="292.0" r="1.85"/>
<circle cx="339.1" cy="288.4" r="1.85"/>
<circle cx="340.8" cy="285.9" r="1.85"/>
<circle cx="342.5" cy="283.0" r="1.85"/>
<circle cx="344.3" cy="282.1" r="1.85"/>
<circle cx="346.0" cy="281.0" r="1.85"/>
<circle cx="347.7" cy="276.8" r="1.85"/>
<circle cx="349.4" cy="275.7" r="1.85"/>
<circle cx="351.2" cy="274.4" r="1.85"/>
<circle cx="352.9" cy="272.1" r="1.85"/>
<circle cx="354.6" cy="269.8" r="1.85"/>
<circle cx="356.3" cy="266.9" r="1.85"/>
<circle cx="358.1" cy="266.0" r="1.85"/>
<circle cx="359.8" cy="261.9" r="1.85"/>
<circle cx="361.5" cy="260.0" r="1.85"/>
<circle cx="363.2" cy="256.5" r="1.85"/>
<circle cx="365.0" cy="254.0" r="1.85"/>
<circle cx="366.7" cy="252.5" r="1.85"/>
<circle cx="368.4" cy="247.7" r="1.85"/>
<circle cx="370.1" cy="245.4" r="1.85"/>
<circle cx="371.9" cy="243.9" r="1.85"/>
<circle cx="373.6" cy="241.0" r="1.85"/>
<circle cx="375.3" cy="237.4" r="1.85"/>
<circle cx="377.0" cy="233.1" r="1.85"/>
<circle cx="378.8" cy="228.8" r="1.85"/>
<circle cx="380.5" cy="227.3" r="1.85"/>
<circle cx="382.2" cy="224.0" r="1.85"/>
<circle cx="383.9" cy="220.0" r="1.85"/>
<circle cx="385.7" cy="217.6" r="1.85"/>
<circle cx="387.4" cy="215.1" r="1.85"/>
<circle cx="389.1" cy="213.1" r="1.85"/>
<circle cx="390.8" cy="211.5" r="1.85"/>
<circle cx="392.6" cy="208.3" r="1.85"/>
<circle cx="394.3" cy="208.1" r="1.85"/>
<circle cx="396.0" cy="208.7" r="1.85"/>
<circle cx="397.7" cy="207.1" r="1.85"/>
<circle cx="399.5" cy="206.8" r="1.85"/>
<circle cx="401.2" cy="208.7" r="1.85"/>
<circle cx="402.9" cy="209.9" r="1.85"/>
<circle cx="404.6" cy="212.3" r="1.85"/>
<circle cx="406.4" cy="214.0" r="1.85"/>
<circle cx="408.1" cy="216.6" r="1.85"/>
<circle cx="409.8" cy="219.1" r="1.85"/>
<circle cx="411.5" cy="225.0" r="1.85"/>
<circle cx="413.3" cy="230.2" r="1.85"/>
<circle cx="415.0" cy="234.5" r="1.85"/>
<circle cx="416.7" cy="239.0" r="1.85"/>
<circle cx="418.4" cy="246.3" r="1.85"/>
<circle cx="420.2" cy="249.4" r="1.85"/>
<circle cx="421.9" cy="254.3" r="1.85"/>
<circle cx="423.6" cy="258.9" r="1.85"/>
<circle cx="425.3" cy="261.9" r="1.85"/>
<circle cx="427.1" cy="265.1" r="1.85"/>
<circle cx="428.8" cy="271.1" r="1.85"/>
<circle cx="430.5" cy="273.5" r="1.85"/>
<circle cx="432.2" cy="277.6" r="1.85"/>
<circle cx="434.0" cy="280.7" r="1.85"/>
<circle cx="435.7" cy="284.7" r="1.85"/>
<circle cx="437.4" cy="288.2" r="1.85"/>
<circle cx="439.1" cy="289.0" r="1.85"/>
<circle cx="440.9" cy="291.0" r="1.85"/>
</g>
<g stroke="#8c4a82" fill="#cbadc6">
<circle cx="271.8" cy="307.4" r="1.85"/>
<circle cx="273.5" cy="308.3" r="1.85"/>
<circle cx="275.3" cy="307.3" r="1.85"/>
<circle cx="277.0" cy="306.8" r="1.85"/>
<circle cx="278.7" cy="306.6" r="1.85"/>
<circle cx="280.4" cy="308.0" r="1.85"/>
<circle cx="282.2" cy="308.2" r="1.85"/>
<circle cx="283.9" cy="309.7" r="1.85"/>
<circle cx="285.6" cy="308.8" r="1.85"/>
<circle cx="287.3" cy="308.4" r="1.85"/>
<circle cx="289.1" cy="309.0" r="1.85"/>
<circle cx="290.8" cy="308.5" r="1.85"/>
<circle cx="292.5" cy="309.2" r="1.85"/>
<circle cx="294.2" cy="309.1" r="1.85"/>
<circle cx="296.0" cy="308.0" r="1.85"/>
<circle cx="297.7" cy="309.4" r="1.85"/>
<circle cx="299.4" cy="307.9" r="1.85"/>
<circle cx="301.1" cy="306.8" r="1.85"/>
<circle cx="302.9" cy="308.1" r="1.85"/>
<circle cx="304.6" cy="307.8" r="1.85"/>
<circle cx="306.3" cy="307.8" r="1.85"/>
<circle cx="308.0" cy="307.9" r="1.85"/>
<circle cx="309.8" cy="306.8" r="1.85"/>
<circle cx="311.5" cy="307.0" r="1.85"/>
<circle cx="313.2" cy="305.6" r="1.85"/>
<circle cx="314.9" cy="305.3" r="1.85"/>
<circle cx="316.7" cy="305.3" r="1.85"/>
<circle cx="318.4" cy="303.7" r="1.85"/>
<circle cx="320.1" cy="302.3" r="1.85"/>
<circle cx="321.8" cy="301.7" r="1.85"/>
<circle cx="323.6" cy="301.9" r="1.85"/>
<circle cx="325.3" cy="300.9" r="1.85"/>
<circle cx="327.0" cy="300.8" r="1.85"/>
<circle cx="328.7" cy="299.2" r="1.85"/>
<circle cx="330.5" cy="297.4" r="1.85"/>
<circle cx="332.2" cy="296.0" r="1.85"/>
<circle cx="333.9" cy="293.9" r="1.85"/>
<circle cx="335.6" cy="294.7" r="1.85"/>
<circle cx="337.4" cy="290.3" r="1.85"/>
<circle cx="339.1" cy="289.5" r="1.85"/>
<circle cx="340.8" cy="286.5" r="1.85"/>
<circle cx="342.5" cy="285.9" r="1.85"/>
<circle cx="344.3" cy="282.9" r="1.85"/>
<circle cx="346.0" cy="282.1" r="1.85"/>
<circle cx="347.7" cy="281.2" r="1.85"/>
<circle cx="349.4" cy="278.1" r="1.85"/>
<circle cx="351.2" cy="276.8" r="1.85"/>
<circle cx="352.9" cy="274.2" r="1.85"/>
<circle cx="354.6" cy="271.4" r="1.85"/>
<circle cx="356.3" cy="268.8" r="1.85"/>
<circle cx="358.1" cy="266.4" r="1.85"/>
<circle cx="359.8" cy="263.6" r="1.85"/>
<circle cx="361.5" cy="263.2" r="1.85"/>
<circle cx="363.2" cy="258.3" r="1.85"/>
<circle cx="365.0" cy="257.4" r="1.85"/>
<circle cx="366.7" cy="253.9" r="1.85"/>
<circle cx="368.4" cy="251.5" r="1.85"/>
<circle cx="370.1" cy="249.3" r="1.85"/>
<circle cx="371.9" cy="244.5" r="1.85"/>
<circle cx="373.6" cy="243.0" r="1.85"/>
<circle cx="375.3" cy="239.2" r="1.85"/>
<circle cx="377.0" cy="233.8" r="1.85"/>
<circle cx="378.8" cy="233.2" r="1.85"/>
<circle cx="380.5" cy="229.1" r="1.85"/>
<circle cx="382.2" cy="223.5" r="1.85"/>
<circle cx="383.9" cy="221.5" r="1.85"/>
<circle cx="385.7" cy="217.4" r="1.85"/>
<circle cx="387.4" cy="215.4" r="1.85"/>
<circle cx="389.1" cy="213.6" r="1.85"/>
<circle cx="390.8" cy="210.7" r="1.85"/>
<circle cx="392.6" cy="210.3" r="1.85"/>
<circle cx="394.3" cy="209.3" r="1.85"/>
<circle cx="396.0" cy="207.9" r="1.85"/>
<circle cx="397.7" cy="208.8" r="1.85"/>
<circle cx="399.5" cy="209.4" r="1.85"/>
<circle cx="401.2" cy="210.2" r="1.85"/>
<circle cx="402.9" cy="208.9" r="1.85"/>
<circle cx="404.6" cy="209.9" r="1.85"/>
<circle cx="406.4" cy="212.7" r="1.85"/>
<circle cx="408.1" cy="217.0" r="1.85"/>
<circle cx="409.8" cy="220.4" r="1.85"/>
<circle cx="411.5" cy="224.8" r="1.85"/>
<circle cx="413.3" cy="228.7" r="1.85"/>
<circle cx="415.0" cy="233.1" r="1.85"/>
<circle cx="416.7" cy="239.5" r="1.85"/>
<circle cx="418.4" cy="244.7" r="1.85"/>
<circle cx="420.2" cy="252.2" r="1.85"/>
<circle cx="421.9" cy="253.6" r="1.85"/>
<circle cx="423.6" cy="259.2" r="1.85"/>
<circle cx="425.3" cy="262.6" r="1.85"/>
<circle cx="427.1" cy="266.1" r="1.85"/>
<circle cx="428.8" cy="270.2" r="1.85"/>
<circle cx="430.5" cy="273.5" r="1.85"/>
<circle cx="432.2" cy="276.8" r="1.85"/>
<circle cx="434.0" cy="284.1" r="1.85"/>
<circle cx="435.7" cy="287.2" r="1.85"/>
<circle cx="437.4" cy="287.5" r="1.85"/>
<circle cx="439.1" cy="290.7" r="1.85"/>
<circle cx="440.9" cy="293.4" r="1.85"/>
</g>
<g stroke="#745492" fill="#c0b2cd">
<circle cx="271.8" cy="306.9" r="1.85"/>
<circle cx="273.5" cy="306.7" r="1.85"/>
<circle cx="275.3" cy="306.0" r="1.85"/>
<circle cx="277.0" cy="307.4" r="1.85"/>
<circle cx="278.7" cy="307.4" r="1.85"/>
<circle cx="280.4" cy="308.9" r="1.85"/>
<circle cx="282.2" cy="306.8" r="1.85"/>
<circle cx="283.9" cy="308.0" r="1.85"/>
<circle cx="285.6" cy="309.1" r="1.85"/>
<circle cx="287.3" cy="309.9" r="1.85"/>
<circle cx="289.1" cy="308.8" r="1.85"/>
<circle cx="290.8" cy="308.0" r="1.85"/>
<circle cx="292.5" cy="306.7" r="1.85"/>
<circle cx="294.2" cy="307.0" r="1.85"/>
<circle cx="296.0" cy="308.9" r="1.85"/>
<circle cx="297.7" cy="308.9" r="1.85"/>
<circle cx="299.4" cy="309.3" r="1.85"/>
<circle cx="301.1" cy="307.9" r="1.85"/>
<circle cx="302.9" cy="308.8" r="1.85"/>
<circle cx="304.6" cy="307.5" r="1.85"/>
<circle cx="306.3" cy="307.5" r="1.85"/>
<circle cx="308.0" cy="307.0" r="1.85"/>
<circle cx="309.8" cy="307.9" r="1.85"/>
<circle cx="311.5" cy="305.6" r="1.85"/>
<circle cx="313.2" cy="306.3" r="1.85"/>
<circle cx="314.9" cy="306.7" r="1.85"/>
<circle cx="316.7" cy="305.2" r="1.85"/>
<circle cx="318.4" cy="304.5" r="1.85"/>
<circle cx="320.1" cy="304.0" r="1.85"/>
<circle cx="321.8" cy="302.6" r="1.85"/>
<circle cx="323.6" cy="301.6" r="1.85"/>
<circle cx="325.3" cy="299.9" r="1.85"/>
<circle cx="327.0" cy="301.1" r="1.85"/>
<circle cx="328.7" cy="299.0" r="1.85"/>
<circle cx="330.5" cy="301.3" r="1.85"/>
<circle cx="332.2" cy="296.2" r="1.85"/>
<circle cx="333.9" cy="296.4" r="1.85"/>
<circle cx="335.6" cy="293.6" r="1.85"/>
<circle cx="337.4" cy="293.3" r="1.85"/>
<circle cx="339.1" cy="290.8" r="1.85"/>
<circle cx="340.8" cy="288.8" r="1.85"/>
<circle cx="342.5" cy="288.0" r="1.85"/>
<circle cx="344.3" cy="286.1" r="1.85"/>
<circle cx="346.0" cy="286.3" r="1.85"/>
<circle cx="347.7" cy="281.5" r="1.85"/>
<circle cx="349.4" cy="280.3" r="1.85"/>
<circle cx="351.2" cy="278.4" r="1.85"/>
<circle cx="352.9" cy="275.1" r="1.85"/>
<circle cx="354.6" cy="273.6" r="1.85"/>
<circle cx="356.3" cy="271.3" r="1.85"/>
<circle cx="358.1" cy="270.7" r="1.85"/>
<circle cx="359.8" cy="266.3" r="1.85"/>
<circle cx="361.5" cy="264.2" r="1.85"/>
<circle cx="363.2" cy="260.5" r="1.85"/>
<circle cx="365.0" cy="259.1" r="1.85"/>
<circle cx="366.7" cy="257.0" r="1.85"/>
<circle cx="368.4" cy="253.3" r="1.85"/>
<circle cx="370.1" cy="248.6" r="1.85"/>
<circle cx="371.9" cy="247.9" r="1.85"/>
<circle cx="373.6" cy="242.8" r="1.85"/>
<circle cx="375.3" cy="240.4" r="1.85"/>
<circle cx="377.0" cy="238.2" r="1.85"/>
<circle cx="378.8" cy="231.9" r="1.85"/>
<circle cx="380.5" cy="226.6" r="1.85"/>
<circle cx="382.2" cy="224.7" r="1.85"/>
<circle cx="383.9" cy="222.7" r="1.85"/>
<circle cx="385.7" cy="218.7" r="1.85"/>
<circle cx="387.4" cy="216.4" r="1.85"/>
<circle cx="389.1" cy="210.8" r="1.85"/>
<circle cx="390.8" cy="210.8" r="1.85"/>
<circle cx="392.6" cy="211.7" r="1.85"/>
<circle cx="394.3" cy="207.8" r="1.85"/>
<circle cx="396.0" cy="207.4" r="1.85"/>
<circle cx="397.7" cy="208.4" r="1.85"/>
<circle cx="399.5" cy="208.2" r="1.85"/>
<circle cx="401.2" cy="208.3" r="1.85"/>
<circle cx="402.9" cy="207.8" r="1.85"/>
<circle cx="404.6" cy="211.5" r="1.85"/>
<circle cx="406.4" cy="213.9" r="1.85"/>
<circle cx="408.1" cy="215.3" r="1.85"/>
<circle cx="409.8" cy="220.1" r="1.85"/>
<circle cx="411.5" cy="224.5" r="1.85"/>
<circle cx="413.3" cy="228.6" r="1.85"/>
<circle cx="415.0" cy="233.2" r="1.85"/>
<circle cx="416.7" cy="239.3" r="1.85"/>
<circle cx="418.4" cy="245.0" r="1.85"/>
<circle cx="420.2" cy="248.2" r="1.85"/>
<circle cx="421.9" cy="252.7" r="1.85"/>
<circle cx="423.6" cy="259.7" r="1.85"/>
<circle cx="425.3" cy="263.5" r="1.85"/>
<circle cx="427.1" cy="267.4" r="1.85"/>
<circle cx="428.8" cy="270.8" r="1.85"/>
<circle cx="430.5" cy="274.4" r="1.85"/>
<circle cx="432.2" cy="278.8" r="1.85"/>
<circle cx="434.0" cy="282.8" r="1.85"/>
<circle cx="435.7" cy="286.3" r="1.85"/>
<circle cx="437.4" cy="291.0" r="1.85"/>
<circle cx="439.1" cy="294.1" r="1.85"/>
<circle cx="440.9" cy="293.7" r="1.85"/>
</g>
<g stroke="#5c60a4" fill="#b5b7d6">
<circle cx="271.8" cy="305.5" r="1.85"/>
<circle cx="273.5" cy="306.5" r="1.85"/>
<circle cx="275.3" cy="307.2" r="1.85"/>
<circle cx="277.0" cy="306.6" r="1.85"/>
<circle cx="278.7" cy="307.7" r="1.85"/>
<circle cx="280.4" cy="308.9" r="1.85"/>
<circle cx="282.2" cy="308.5" r="1.85"/>
<circle cx="283.9" cy="307.8" r="1.85"/>
<circle cx="285.6" cy="308.4" r="1.85"/>
<circle cx="287.3" cy="308.2" r="1.85"/>
<circle cx="289.1" cy="309.3" r="1.85"/>
<circle cx="290.8" cy="308.3" r="1.85"/>
<circle cx="292.5" cy="307.5" r="1.85"/>
<circle cx="294.2" cy="309.0" r="1.85"/>
<circle cx="296.0" cy="309.1" r="1.85"/>
<circle cx="297.7" cy="307.5" r="1.85"/>
<circle cx="299.4" cy="308.4" r="1.85"/>
<circle cx="301.1" cy="309.4" r="1.85"/>
<circle cx="302.9" cy="308.7" r="1.85"/>
<circle cx="304.6" cy="307.0" r="1.85"/>
<circle cx="306.3" cy="307.6" r="1.85"/>
<circle cx="308.0" cy="305.9" r="1.85"/>
<circle cx="309.8" cy="306.7" r="1.85"/>
<circle cx="311.5" cy="306.6" r="1.85"/>
<circle cx="313.2" cy="305.4" r="1.85"/>
<circle cx="314.9" cy="306.4" r="1.85"/>
<circle cx="316.7" cy="304.5" r="1.85"/>
<circle cx="318.4" cy="305.0" r="1.85"/>
<circle cx="320.1" cy="304.5" r="1.85"/>
<circle cx="321.8" cy="303.3" r="1.85"/>
<circle cx="323.6" cy="303.3" r="1.85"/>
<circle cx="325.3" cy="303.1" r="1.85"/>
<circle cx="327.0" cy="302.0" r="1.85"/>
<circle cx="328.7" cy="299.9" r="1.85"/>
<circle cx="330.5" cy="299.1" r="1.85"/>
<circle cx="332.2" cy="298.1" r="1.85"/>
<circle cx="333.9" cy="296.1" r="1.85"/>
<circle cx="335.6" cy="295.9" r="1.85"/>
<circle cx="337.4" cy="293.8" r="1.85"/>
<circle cx="339.1" cy="290.2" r="1.85"/>
<circle cx="340.8" cy="290.6" r="1.85"/>
<circle cx="342.5" cy="286.8" r="1.85"/>
<circle cx="344.3" cy="286.3" r="1.85"/>
<circle cx="346.0" cy="283.8" r="1.85"/>
<circle cx="347.7" cy="282.3" r="1.85"/>
<circle cx="349.4" cy="280.9" r="1.85"/>
<circle cx="351.2" cy="278.7" r="1.85"/>
<circle cx="352.9" cy="275.9" r="1.85"/>
<circle cx="354.6" cy="275.0" r="1.85"/>
<circle cx="356.3" cy="272.9" r="1.85"/>
<circle cx="358.1" cy="268.8" r="1.85"/>
<circle cx="359.8" cy="267.4" r="1.85"/>
<circle cx="361.5" cy="264.7" r="1.85"/>
<circle cx="363.2" cy="262.1" r="1.85"/>
<circle cx="365.0" cy="259.6" r="1.85"/>
<circle cx="366.7" cy="258.1" r="1.85"/>
<circle cx="368.4" cy="253.8" r="1.85"/>
<circle cx="370.1" cy="251.1" r="1.85"/>
<circle cx="371.9" cy="248.8" r="1.85"/>
<circle cx="373.6" cy="244.9" r="1.85"/>
<circle cx="375.3" cy="240.5" r="1.85"/>
<circle cx="377.0" cy="235.3" r="1.85"/>
<circle cx="378.8" cy="233.3" r="1.85"/>
<circle cx="380.5" cy="227.7" r="1.85"/>
<circle cx="382.2" cy="225.7" r="1.85"/>
<circle cx="383.9" cy="221.5" r="1.85"/>
<circle cx="385.7" cy="218.9" r="1.85"/>
<circle cx="387.4" cy="215.1" r="1.85"/>
<circle cx="389.1" cy="213.3" r="1.85"/>
<circle cx="390.8" cy="211.6" r="1.85"/>
<circle cx="392.6" cy="210.9" r="1.85"/>
<circle cx="394.3" cy="207.6" r="1.85"/>
<circle cx="396.0" cy="209.0" r="1.85"/>
<circle cx="397.7" cy="207.9" r="1.85"/>
<circle cx="399.5" cy="206.0" r="1.85"/>
<circle cx="401.2" cy="207.9" r="1.85"/>
<circle cx="402.9" cy="209.0" r="1.85"/>
<circle cx="404.6" cy="210.8" r="1.85"/>
<circle cx="406.4" cy="212.9" r="1.85"/>
<circle cx="408.1" cy="216.3" r="1.85"/>
<circle cx="409.8" cy="219.2" r="1.85"/>
<circle cx="411.5" cy="223.6" r="1.85"/>
<circle cx="413.3" cy="228.7" r="1.85"/>
<circle cx="415.0" cy="233.4" r="1.85"/>
<circle cx="416.7" cy="238.9" r="1.85"/>
<circle cx="418.4" cy="244.4" r="1.85"/>
<circle cx="420.2" cy="248.6" r="1.85"/>
<circle cx="421.9" cy="252.3" r="1.85"/>
<circle cx="423.6" cy="256.8" r="1.85"/>
<circle cx="425.3" cy="262.4" r="1.85"/>
<circle cx="427.1" cy="267.6" r="1.85"/>
<circle cx="428.8" cy="269.7" r="1.85"/>
<circle cx="430.5" cy="274.5" r="1.85"/>
<circle cx="432.2" cy="278.2" r="1.85"/>
<circle cx="434.0" cy="283.3" r="1.85"/>
<circle cx="435.7" cy="286.2" r="1.85"/>
<circle cx="437.4" cy="291.2" r="1.85"/>
<circle cx="439.1" cy="292.4" r="1.85"/>
<circle cx="440.9" cy="295.4" r="1.85"/>
</g>
<g stroke="#4a6cb4" fill="#adbcdd">
<circle cx="271.8" cy="304.9" r="1.85"/>
<circle cx="273.5" cy="306.9" r="1.85"/>
<circle cx="275.3" cy="308.7" r="1.85"/>
<circle cx="277.0" cy="306.0" r="1.85"/>
<circle cx="278.7" cy="306.6" r="1.85"/>
<circle cx="280.4" cy="306.6" r="1.85"/>
<circle cx="282.2" cy="309.1" r="1.85"/>
<circle cx="283.9" cy="308.1" r="1.85"/>
<circle cx="285.6" cy="307.6" r="1.85"/>
<circle cx="287.3" cy="309.0" r="1.85"/>
<circle cx="289.1" cy="308.5" r="1.85"/>
<circle cx="290.8" cy="309.0" r="1.85"/>
<circle cx="292.5" cy="309.1" r="1.85"/>
<circle cx="294.2" cy="307.6" r="1.85"/>
<circle cx="296.0" cy="309.3" r="1.85"/>
<circle cx="297.7" cy="308.6" r="1.85"/>
<circle cx="299.4" cy="308.0" r="1.85"/>
<circle cx="301.1" cy="308.4" r="1.85"/>
<circle cx="302.9" cy="307.6" r="1.85"/>
<circle cx="304.6" cy="309.9" r="1.85"/>
<circle cx="306.3" cy="307.0" r="1.85"/>
<circle cx="308.0" cy="308.6" r="1.85"/>
<circle cx="309.8" cy="307.5" r="1.85"/>
<circle cx="311.5" cy="307.2" r="1.85"/>
<circle cx="313.2" cy="306.0" r="1.85"/>
<circle cx="314.9" cy="306.1" r="1.85"/>
<circle cx="316.7" cy="305.9" r="1.85"/>
<circle cx="318.4" cy="304.4" r="1.85"/>
<circle cx="320.1" cy="302.6" r="1.85"/>
<circle cx="321.8" cy="304.3" r="1.85"/>
<circle cx="323.6" cy="303.6" r="1.85"/>
<circle cx="325.3" cy="302.7" r="1.85"/>
<circle cx="327.0" cy="302.4" r="1.85"/>
<circle cx="328.7" cy="301.5" r="1.85"/>
<circle cx="330.5" cy="299.9" r="1.85"/>
<circle cx="332.2" cy="297.7" r="1.85"/>
<circle cx="333.9" cy="297.3" r="1.85"/>
<circle cx="335.6" cy="296.0" r="1.85"/>
<circle cx="337.4" cy="293.7" r="1.85"/>
<circle cx="339.1" cy="292.5" r="1.85"/>
<circle cx="340.8" cy="287.7" r="1.85"/>
<circle cx="342.5" cy="286.8" r="1.85"/>
<circle cx="344.3" cy="286.2" r="1.85"/>
<circle cx="346.0" cy="285.9" r="1.85"/>
<circle cx="347.7" cy="283.2" r="1.85"/>
<circle cx="349.4" cy="281.7" r="1.85"/>
<circle cx="351.2" cy="279.8" r="1.85"/>
<circle cx="352.9" cy="278.8" r="1.85"/>
<circle cx="354.6" cy="275.2" r="1.85"/>
<circle cx="356.3" cy="272.9" r="1.85"/>
<circle cx="358.1" cy="270.5" r="1.85"/>
<circle cx="359.8" cy="268.5" r="1.85"/>
<circle cx="361.5" cy="264.5" r="1.85"/>
<circle cx="363.2" cy="263.0" r="1.85"/>
<circle cx="365.0" cy="261.5" r="1.85"/>
<circle cx="366.7" cy="257.7" r="1.85"/>
<circle cx="368.4" cy="253.3" r="1.85"/>
<circle cx="370.1" cy="250.0" r="1.85"/>
<circle cx="371.9" cy="248.9" r="1.85"/>
<circle cx="373.6" cy="244.8" r="1.85"/>
<circle cx="375.3" cy="240.5" r="1.85"/>
<circle cx="377.0" cy="236.2" r="1.85"/>
<circle cx="378.8" cy="233.4" r="1.85"/>
<circle cx="380.5" cy="228.8" r="1.85"/>
<circle cx="382.2" cy="225.8" r="1.85"/>
<circle cx="383.9" cy="223.5" r="1.85"/>
<circle cx="385.7" cy="217.9" r="1.85"/>
<circle cx="387.4" cy="215.8" r="1.85"/>
<circle cx="389.1" cy="213.0" r="1.85"/>
<circle cx="390.8" cy="211.4" r="1.85"/>
<circle cx="392.6" cy="210.3" r="1.85"/>
<circle cx="394.3" cy="208.9" r="1.85"/>
<circle cx="396.0" cy="207.3" r="1.85"/>
<circle cx="397.7" cy="208.4" r="1.85"/>
<circle cx="399.5" cy="206.2" r="1.85"/>
<circle cx="401.2" cy="206.1" r="1.85"/>
<circle cx="402.9" cy="211.0" r="1.85"/>
<circle cx="404.6" cy="210.1" r="1.85"/>
<circle cx="406.4" cy="213.4" r="1.85"/>
<circle cx="408.1" cy="215.4" r="1.85"/>
<circle cx="409.8" cy="219.3" r="1.85"/>
<circle cx="411.5" cy="223.6" r="1.85"/>
<circle cx="413.3" cy="227.6" r="1.85"/>
<circle cx="415.0" cy="233.7" r="1.85"/>
<circle cx="416.7" cy="238.1" r="1.85"/>
<circle cx="418.4" cy="244.4" r="1.85"/>
<circle cx="420.2" cy="250.7" r="1.85"/>
<circle cx="421.9" cy="254.1" r="1.85"/>
<circle cx="423.6" cy="258.3" r="1.85"/>
<circle cx="425.3" cy="263.0" r="1.85"/>
<circle cx="427.1" cy="267.7" r="1.85"/>
<circle cx="428.8" cy="269.0" r="1.85"/>
<circle cx="430.5" cy="274.8" r="1.85"/>
<circle cx="432.2" cy="278.9" r="1.85"/>
<circle cx="434.0" cy="284.5" r="1.85"/>
<circle cx="435.7" cy="286.6" r="1.85"/>
<circle cx="437.4" cy="290.5" r="1.85"/>
<circle cx="439.1" cy="291.7" r="1.85"/>
<circle cx="440.9" cy="293.0" r="1.85"/>
</g>
<g stroke="#3a78c0" fill="#a6c2e2">
<circle cx="271.8" cy="307.2" r="1.85"/>
<circle cx="273.5" cy="307.4" r="1.85"/>
<circle cx="275.3" cy="305.9" r="1.85"/>
<circle cx="277.0" cy="306.3" r="1.85"/>
<circle cx="278.7" cy="307.2" r="1.85"/>
<circle cx="280.4" cy="307.2" r="1.85"/>
<circle cx="282.2" cy="308.5" r="1.85"/>
<circle cx="283.9" cy="308.6" r="1.85"/>
<circle cx="285.6" cy="308.8" r="1.85"/>
<circle cx="287.3" cy="310.8" r="1.85"/>
<circle cx="289.1" cy="308.3" r="1.85"/>
<circle cx="290.8" cy="308.3" r="1.85"/>
<circle cx="292.5" cy="309.7" r="1.85"/>
<circle cx="294.2" cy="309.3" r="1.85"/>
<circle cx="296.0" cy="308.6" r="1.85"/>
<circle cx="297.7" cy="308.2" r="1.85"/>
<circle cx="299.4" cy="308.7" r="1.85"/>
<circle cx="301.1" cy="309.0" r="1.85"/>
<circle cx="302.9" cy="308.2" r="1.85"/>
<circle cx="304.6" cy="308.3" r="1.85"/>
<circle cx="306.3" cy="309.0" r="1.85"/>
<circle cx="308.0" cy="308.2" r="1.85"/>
<circle cx="309.8" cy="307.9" r="1.85"/>
<circle cx="311.5" cy="306.6" r="1.85"/>
<circle cx="313.2" cy="307.8" r="1.85"/>
<circle cx="314.9" cy="307.0" r="1.85"/>
<circle cx="316.7" cy="306.2" r="1.85"/>
<circle cx="318.4" cy="305.3" r="1.85"/>
<circle cx="320.1" cy="302.7" r="1.85"/>
<circle cx="321.8" cy="304.3" r="1.85"/>
<circle cx="323.6" cy="302.5" r="1.85"/>
<circle cx="325.3" cy="302.0" r="1.85"/>
<circle cx="327.0" cy="300.7" r="1.85"/>
<circle cx="328.7" cy="299.4" r="1.85"/>
<circle cx="330.5" cy="299.4" r="1.85"/>
<circle cx="332.2" cy="299.5" r="1.85"/>
<circle cx="333.9" cy="297.6" r="1.85"/>
<circle cx="335.6" cy="294.5" r="1.85"/>
<circle cx="337.4" cy="292.3" r="1.85"/>
<circle cx="339.1" cy="291.3" r="1.85"/>
<circle cx="340.8" cy="288.5" r="1.85"/>
<circle cx="342.5" cy="288.1" r="1.85"/>
<circle cx="344.3" cy="287.6" r="1.85"/>
<circle cx="346.0" cy="285.0" r="1.85"/>
<circle cx="347.7" cy="283.1" r="1.85"/>
<circle cx="349.4" cy="280.8" r="1.85"/>
<circle cx="351.2" cy="279.0" r="1.85"/>
<circle cx="352.9" cy="278.4" r="1.85"/>
<circle cx="354.6" cy="274.4" r="1.85"/>
<circle cx="356.3" cy="273.6" r="1.85"/>
<circle cx="358.1" cy="270.4" r="1.85"/>
<circle cx="359.8" cy="267.6" r="1.85"/>
<circle cx="361.5" cy="265.0" r="1.85"/>
<circle cx="363.2" cy="262.5" r="1.85"/>
<circle cx="365.0" cy="260.8" r="1.85"/>
<circle cx="366.7" cy="257.7" r="1.85"/>
<circle cx="368.4" cy="253.9" r="1.85"/>
<circle cx="370.1" cy="252.1" r="1.85"/>
<circle cx="371.9" cy="249.6" r="1.85"/>
<circle cx="373.6" cy="247.4" r="1.85"/>
<circle cx="375.3" cy="241.5" r="1.85"/>
<circle cx="377.0" cy="238.3" r="1.85"/>
<circle cx="378.8" cy="233.4" r="1.85"/>
<circle cx="380.5" cy="230.3" r="1.85"/>
<circle cx="382.2" cy="226.0" r="1.85"/>
<circle cx="383.9" cy="222.5" r="1.85"/>
<circle cx="385.7" cy="218.0" r="1.85"/>
<circle cx="387.4" cy="216.6" r="1.85"/>
<circle cx="389.1" cy="214.5" r="1.85"/>
<circle cx="390.8" cy="211.2" r="1.85"/>
<circle cx="392.6" cy="208.8" r="1.85"/>
<circle cx="394.3" cy="209.1" r="1.85"/>
<circle cx="396.0" cy="207.1" r="1.85"/>
<circle cx="397.7" cy="207.1" r="1.85"/>
<circle cx="399.5" cy="207.0" r="1.85"/>
<circle cx="401.2" cy="209.5" r="1.85"/>
<circle cx="402.9" cy="208.8" r="1.85"/>
<circle cx="404.6" cy="210.9" r="1.85"/>
<circle cx="406.4" cy="212.8" r="1.85"/>
<circle cx="408.1" cy="216.4" r="1.85"/>
<circle cx="409.8" cy="219.4" r="1.85"/>
<circle cx="411.5" cy="225.2" r="1.85"/>
<circle cx="413.3" cy="228.3" r="1.85"/>
<circle cx="415.0" cy="232.6" r="1.85"/>
<circle cx="416.7" cy="239.3" r="1.85"/>
<circle cx="418.4" cy="244.7" r="1.85"/>
<circle cx="420.2" cy="249.2" r="1.85"/>
<circle cx="421.9" cy="252.8" r="1.85"/>
<circle cx="423.6" cy="259.0" r="1.85"/>
<circle cx="425.3" cy="263.9" r="1.85"/>
<circle cx="427.1" cy="267.7" r="1.85"/>
<circle cx="428.8" cy="271.4" r="1.85"/>
<circle cx="430.5" cy="274.8" r="1.85"/>
<circle cx="432.2" cy="278.4" r="1.85"/>
<circle cx="434.0" cy="284.1" r="1.85"/>
<circle cx="435.7" cy="288.3" r="1.85"/>
<circle cx="437.4" cy="290.0" r="1.85"/>
<circle cx="439.1" cy="292.2" r="1.85"/>
<circle cx="440.9" cy="295.5" r="1.85"/>
</g>
<g stroke="#3282ca" fill="#a2c6e7">
<circle cx="271.8" cy="306.0" r="1.85"/>
<circle cx="273.5" cy="306.9" r="1.85"/>
<circle cx="275.3" cy="307.3" r="1.85"/>
<circle cx="277.0" cy="307.3" r="1.85"/>
<circle cx="278.7" cy="308.3" r="1.85"/>
<circle cx="280.4" cy="309.4" r="1.85"/>
<circle cx="282.2" cy="309.5" r="1.85"/>
<circle cx="283.9" cy="309.2" r="1.85"/>
<circle cx="285.6" cy="308.6" r="1.85"/>
<circle cx="287.3" cy="308.6" r="1.85"/>
<circle cx="289.1" cy="308.2" r="1.85"/>
<circle cx="290.8" cy="309.7" r="1.85"/>
<circle cx="292.5" cy="309.0" r="1.85"/>
<circle cx="294.2" cy="310.2" r="1.85"/>
<circle cx="296.0" cy="309.7" r="1.85"/>
<circle cx="297.7" cy="307.9" r="1.85"/>
<circle cx="299.4" cy="308.9" r="1.85"/>
<circle cx="301.1" cy="307.0" r="1.85"/>
<circle cx="302.9" cy="308.0" r="1.85"/>
<circle cx="304.6" cy="308.8" r="1.85"/>
<circle cx="306.3" cy="308.8" r="1.85"/>
<circle cx="308.0" cy="309.7" r="1.85"/>
<circle cx="309.8" cy="306.5" r="1.85"/>
<circle cx="311.5" cy="306.3" r="1.85"/>
<circle cx="313.2" cy="303.7" r="1.85"/>
<circle cx="314.9" cy="304.5" r="1.85"/>
<circle cx="316.7" cy="305.6" r="1.85"/>
<circle cx="318.4" cy="306.3" r="1.85"/>
<circle cx="320.1" cy="306.3" r="1.85"/>
<circle cx="321.8" cy="304.5" r="1.85"/>
<circle cx="323.6" cy="303.5" r="1.85"/>
<circle cx="325.3" cy="303.9" r="1.85"/>
<circle cx="327.0" cy="301.2" r="1.85"/>
<circle cx="328.7" cy="300.1" r="1.85"/>
<circle cx="330.5" cy="300.8" r="1.85"/>
<circle cx="332.2" cy="299.0" r="1.85"/>
<circle cx="333.9" cy="298.6" r="1.85"/>
<circle cx="335.6" cy="294.9" r="1.85"/>
<circle cx="337.4" cy="295.0" r="1.85"/>
<circle cx="339.1" cy="293.4" r="1.85"/>
<circle cx="340.8" cy="292.3" r="1.85"/>
<circle cx="342.5" cy="289.6" r="1.85"/>
<circle cx="344.3" cy="288.4" r="1.85"/>
<circle cx="346.0" cy="284.3" r="1.85"/>
<circle cx="347.7" cy="282.9" r="1.85"/>
<circle cx="349.4" cy="282.8" r="1.85"/>
<circle cx="351.2" cy="280.6" r="1.85"/>
<circle cx="352.9" cy="277.8" r="1.85"/>
<circle cx="354.6" cy="275.4" r="1.85"/>
<circle cx="356.3" cy="274.1" r="1.85"/>
<circle cx="358.1" cy="269.5" r="1.85"/>
<circle cx="359.8" cy="267.6" r="1.85"/>
<circle cx="361.5" cy="263.9" r="1.85"/>
<circle cx="363.2" cy="265.5" r="1.85"/>
<circle cx="365.0" cy="261.8" r="1.85"/>
<circle cx="366.7" cy="257.0" r="1.85"/>
<circle cx="368.4" cy="254.6" r="1.85"/>
<circle cx="370.1" cy="252.0" r="1.85"/>
<circle cx="371.9" cy="249.7" r="1.85"/>
<circle cx="373.6" cy="244.9" r="1.85"/>
<circle cx="375.3" cy="242.0" r="1.85"/>
<circle cx="377.0" cy="236.4" r="1.85"/>
<circle cx="378.8" cy="232.5" r="1.85"/>
<circle cx="380.5" cy="228.6" r="1.85"/>
<circle cx="382.2" cy="227.3" r="1.85"/>
<circle cx="383.9" cy="222.0" r="1.85"/>
<circle cx="385.7" cy="217.4" r="1.85"/>
<circle cx="387.4" cy="214.3" r="1.85"/>
<circle cx="389.1" cy="212.4" r="1.85"/>
<circle cx="390.8" cy="210.3" r="1.85"/>
<circle cx="392.6" cy="210.2" r="1.85"/>
<circle cx="394.3" cy="207.1" r="1.85"/>
<circle cx="396.0" cy="205.9" r="1.85"/>
<circle cx="397.7" cy="206.8" r="1.85"/>
<circle cx="399.5" cy="206.9" r="1.85"/>
<circle cx="401.2" cy="208.0" r="1.85"/>
<circle cx="402.9" cy="208.7" r="1.85"/>
<circle cx="404.6" cy="211.0" r="1.85"/>
<circle cx="406.4" cy="212.5" r="1.85"/>
<circle cx="408.1" cy="216.0" r="1.85"/>
<circle cx="409.8" cy="220.6" r="1.85"/>
<circle cx="411.5" cy="223.9" r="1.85"/>
<circle cx="413.3" cy="228.0" r="1.85"/>
<circle cx="415.0" cy="233.6" r="1.85"/>
<circle cx="416.7" cy="238.2" r="1.85"/>
<circle cx="418.4" cy="243.9" r="1.85"/>
<circle cx="420.2" cy="248.4" r="1.85"/>
<circle cx="421.9" cy="254.1" r="1.85"/>
<circle cx="423.6" cy="257.5" r="1.85"/>
<circle cx="425.3" cy="263.3" r="1.85"/>
<circle cx="427.1" cy="267.4" r="1.85"/>
<circle cx="428.8" cy="270.1" r="1.85"/>
<circle cx="430.5" cy="274.7" r="1.85"/>
<circle cx="432.2" cy="279.8" r="1.85"/>
<circle cx="434.0" cy="282.6" r="1.85"/>
<circle cx="435.7" cy="286.2" r="1.85"/>
<circle cx="437.4" cy="290.1" r="1.85"/>
<circle cx="439.1" cy="292.0" r="1.85"/>
<circle cx="440.9" cy="294.1" r="1.85"/>
</g>
<g stroke="#358cd2" fill="#a4cbea">
<circle cx="271.8" cy="305.9" r="1.85"/>
<circle cx="273.5" cy="307.5" r="1.85"/>
<circle cx="275.3" cy="308.6" r="1.85"/>
<circle cx="277.0" cy="307.5" r="1.85"/>
<circle cx="278.7" cy="310.4" r="1.85"/>
<circle cx="280.4" cy="308.4" r="1.85"/>
<circle cx="282.2" cy="309.2" r="1.85"/>
<circle cx="283.9" cy="308.5" r="1.85"/>
<circle cx="285.6" cy="309.5" r="1.85"/>
<circle cx="287.3" cy="309.0" r="1.85"/>
<circle cx="289.1" cy="309.8" r="1.85"/>
<circle cx="290.8" cy="309.2" r="1.85"/>
<circle cx="292.5" cy="307.6" r="1.85"/>
<circle cx="294.2" cy="309.8" r="1.85"/>
<circle cx="296.0" cy="310.4" r="1.85"/>
<circle cx="297.7" cy="307.6" r="1.85"/>
<circle cx="299.4" cy="308.1" r="1.85"/>
<circle cx="301.1" cy="308.7" r="1.85"/>
<circle cx="302.9" cy="308.9" r="1.85"/>
<circle cx="304.6" cy="308.2" r="1.85"/>
<circle cx="306.3" cy="308.5" r="1.85"/>
<circle cx="308.0" cy="307.1" r="1.85"/>
<circle cx="309.8" cy="307.9" r="1.85"/>
<circle cx="311.5" cy="307.7" r="1.85"/>
<circle cx="313.2" cy="306.3" r="1.85"/>
<circle cx="314.9" cy="307.0" r="1.85"/>
<circle cx="316.7" cy="305.4" r="1.85"/>
<circle cx="318.4" cy="306.4" r="1.85"/>
<circle cx="320.1" cy="305.3" r="1.85"/>
<circle cx="321.8" cy="304.0" r="1.85"/>
<circle cx="323.6" cy="304.1" r="1.85"/>
<circle cx="325.3" cy="301.8" r="1.85"/>
<circle cx="327.0" cy="301.9" r="1.85"/>
<circle cx="328.7" cy="300.7" r="1.85"/>
<circle cx="330.5" cy="301.6" r="1.85"/>
<circle cx="332.2" cy="298.3" r="1.85"/>
<circle cx="333.9" cy="297.3" r="1.85"/>
<circle cx="335.6" cy="297.6" r="1.85"/>
<circle cx="337.4" cy="294.0" r="1.85"/>
<circle cx="339.1" cy="292.2" r="1.85"/>
<circle cx="340.8" cy="291.2" r="1.85"/>
<circle cx="342.5" cy="289.7" r="1.85"/>
<circle cx="344.3" cy="288.1" r="1.85"/>
<circle cx="346.0" cy="285.2" r="1.85"/>
<circle cx="347.7" cy="283.4" r="1.85"/>
<circle cx="349.4" cy="281.9" r="1.85"/>
<circle cx="351.2" cy="278.1" r="1.85"/>
<circle cx="352.9" cy="277.8" r="1.85"/>
<circle cx="354.6" cy="275.4" r="1.85"/>
<circle cx="356.3" cy="274.6" r="1.85"/>
<circle cx="358.1" cy="270.4" r="1.85"/>
<circle cx="359.8" cy="267.4" r="1.85"/>
<circle cx="361.5" cy="266.4" r="1.85"/>
<circle cx="363.2" cy="261.2" r="1.85"/>
<circle cx="365.0" cy="260.9" r="1.85"/>
<circle cx="366.7" cy="257.5" r="1.85"/>
<circle cx="368.4" cy="255.1" r="1.85"/>
<circle cx="370.1" cy="252.1" r="1.85"/>
<circle cx="371.9" cy="251.2" r="1.85"/>
<circle cx="373.6" cy="244.6" r="1.85"/>
<circle cx="375.3" cy="243.5" r="1.85"/>
<circle cx="377.0" cy="236.5" r="1.85"/>
<circle cx="378.8" cy="234.4" r="1.85"/>
<circle cx="380.5" cy="229.9" r="1.85"/>
<circle cx="382.2" cy="223.5" r="1.85"/>
<circle cx="383.9" cy="223.1" r="1.85"/>
<circle cx="385.7" cy="219.1" r="1.85"/>
<circle cx="387.4" cy="217.0" r="1.85"/>
<circle cx="389.1" cy="213.7" r="1.85"/>
<circle cx="390.8" cy="211.0" r="1.85"/>
<circle cx="392.6" cy="208.2" r="1.85"/>
<circle cx="394.3" cy="210.7" r="1.85"/>
<circle cx="396.0" cy="207.6" r="1.85"/>
<circle cx="397.7" cy="206.6" r="1.85"/>
<circle cx="399.5" cy="206.6" r="1.85"/>
<circle cx="401.2" cy="208.6" r="1.85"/>
<circle cx="402.9" cy="208.9" r="1.85"/>
<circle cx="404.6" cy="209.1" r="1.85"/>
<circle cx="406.4" cy="212.6" r="1.85"/>
<circle cx="408.1" cy="214.0" r="1.85"/>
<circle cx="409.8" cy="220.4" r="1.85"/>
<circle cx="411.5" cy="224.0" r="1.85"/>
<circle cx="413.3" cy="228.3" r="1.85"/>
<circle cx="415.0" cy="234.7" r="1.85"/>
<circle cx="416.7" cy="238.9" r="1.85"/>
<circle cx="418.4" cy="245.8" r="1.85"/>
<circle cx="420.2" cy="249.3" r="1.85"/>
<circle cx="421.9" cy="255.4" r="1.85"/>
<circle cx="423.6" cy="259.2" r="1.85"/>
<circle cx="425.3" cy="262.4" r="1.85"/>
<circle cx="427.1" cy="266.3" r="1.85"/>
<circle cx="428.8" cy="271.7" r="1.85"/>
<circle cx="430.5" cy="276.2" r="1.85"/>
<circle cx="432.2" cy="278.7" r="1.85"/>
<circle cx="434.0" cy="284.3" r="1.85"/>
<circle cx="435.7" cy="287.1" r="1.85"/>
<circle cx="437.4" cy="289.7" r="1.85"/>
<circle cx="439.1" cy="292.6" r="1.85"/>
<circle cx="440.9" cy="296.3" r="1.85"/>
</g>
</g>
<rect x="273.5" y="186.2" width="167.1" height="134.8" fill="none" stroke="#111" stroke-width="1.1"/>
<line x1="273.5" y1="321" x2="273.5" y2="323.2" stroke="#111" stroke-width="1.0" />
<text x="274.1" y="336.4" font-size="11.3" text-anchor="middle" font-weight="bold" >1.9</text>
<line x1="329.15" y1="321" x2="329.15" y2="323.2" stroke="#111" stroke-width="1.0" />
<text x="329.75" y="336.4" font-size="11.3" text-anchor="middle" font-weight="bold" >1.8</text>
<line x1="384.8" y1="321" x2="384.8" y2="323.2" stroke="#111" stroke-width="1.0" />
<text x="385.4" y="336.4" font-size="11.3" text-anchor="middle" font-weight="bold" >1.7</text>
<line x1="440.45" y1="321" x2="440.45" y2="323.2" stroke="#111" stroke-width="1.0" />
<text x="441.05" y="336.4" font-size="11.3" text-anchor="middle" font-weight="bold" >1.6</text>
<line x1="301.32" y1="321" x2="301.32" y2="322.6" stroke="#111" stroke-width="1.0" />
<line x1="356.97" y1="321" x2="356.97" y2="322.6" stroke="#111" stroke-width="1.0" />
<line x1="412.62" y1="321" x2="412.62" y2="322.6" stroke="#111" stroke-width="1.0" />
<line x1="271.3" y1="186.24" x2="273.5" y2="186.24" stroke="#111" stroke-width="1.0" />
<text x="268" y="190.24" font-size="11.3" text-anchor="end" font-weight="bold" >1.2</text>
<line x1="271.3" y1="224.96" x2="273.5" y2="224.96" stroke="#111" stroke-width="1.0" />
<text x="268" y="228.96" font-size="11.3" text-anchor="end" font-weight="bold" >0.8</text>
<line x1="271.3" y1="263.68" x2="273.5" y2="263.68" stroke="#111" stroke-width="1.0" />
<text x="268" y="267.68" font-size="11.3" text-anchor="end" font-weight="bold" >0.4</text>
<line x1="271.3" y1="302.4" x2="273.5" y2="302.4" stroke="#111" stroke-width="1.0" />
<text x="268" y="306.4" font-size="11.3" text-anchor="end" font-weight="bold" >0.0</text>
<line x1="271.9" y1="205.6" x2="273.5" y2="205.6" stroke="#111" stroke-width="1.0" />
<line x1="271.9" y1="244.32" x2="273.5" y2="244.32" stroke="#111" stroke-width="1.0" />
<line x1="271.9" y1="283.04" x2="273.5" y2="283.04" stroke="#111" stroke-width="1.0" />
<text x="361.6" y="349" font-size="11.7" text-anchor="middle" font-weight="bold" >Photo energy (eV)</text>
<text x="247.2" y="253.45" font-size="11.6" text-anchor="middle" font-weight="bold" transform="rotate(-90 247.2 253.45)">-&#916;A (Norm.)</text>
<text x="232.6" y="189.3" font-size="15" text-anchor="start" font-weight="bold" >d</text>
<text x="437.9" y="198.3" font-size="10" font-weight="bold" text-anchor="end">PVK+TPPC/C<tspan font-size="7.2" dy="2">60</tspan></text>
<circle cx="279.7" cy="194.2" r="2.0" fill="#e41e2e"/>
<text x="283.3" y="196.7" font-size="7" text-anchor="start" font-weight="bold" >1.2 ps</text>
<circle cx="279.7" cy="202.4" r="2.0" fill="#e2243a"/>
<text x="283.3" y="204.9" font-size="7" text-anchor="start" font-weight="bold" >1.6 ps</text>
<circle cx="279.7" cy="210.6" r="2.0" fill="#d82a44"/>
<text x="283.3" y="213.1" font-size="7" text-anchor="start" font-weight="bold" >2.2 ps</text>
<circle cx="279.7" cy="218.8" r="2.0" fill="#c8304e"/>
<text x="283.3" y="221.3" font-size="7" text-anchor="start" font-weight="bold" >3.1 ps</text>
<circle cx="279.7" cy="227" r="2.0" fill="#b6385c"/>
<text x="283.3" y="229.5" font-size="7" text-anchor="start" font-weight="bold" >5.0 ps</text>
<circle cx="279.7" cy="235.2" r="2.0" fill="#a4406c"/>
<text x="283.3" y="237.7" font-size="7" text-anchor="start" font-weight="bold" >7.2 ps</text>
<circle cx="279.7" cy="243.4" r="2.0" fill="#8c4a82"/>
<text x="283.3" y="245.9" font-size="7" text-anchor="start" font-weight="bold" >10.4 ps</text>
<circle cx="279.7" cy="251.6" r="2.0" fill="#745492"/>
<text x="283.3" y="254.1" font-size="7" text-anchor="start" font-weight="bold" >15.5 ps</text>
<circle cx="279.7" cy="259.8" r="2.0" fill="#5c60a4"/>
<text x="283.3" y="262.3" font-size="7" text-anchor="start" font-weight="bold" >18.4 ps</text>
<circle cx="279.7" cy="268" r="2.0" fill="#4a6cb4"/>
<text x="283.3" y="270.5" font-size="7" text-anchor="start" font-weight="bold" >20.6 ps</text>
<circle cx="279.7" cy="276.2" r="2.0" fill="#3a78c0"/>
<text x="283.3" y="278.7" font-size="7" text-anchor="start" font-weight="bold" >40.1 ps</text>
<circle cx="279.7" cy="284.4" r="2.0" fill="#3282ca"/>
<text x="283.3" y="286.9" font-size="7" text-anchor="start" font-weight="bold" >62.2 ps</text>
<circle cx="279.7" cy="292.6" r="2.0" fill="#358cd2"/>
<text x="283.3" y="295.1" font-size="7" text-anchor="start" font-weight="bold" >81.7 ps</text>
<line x1="327.3" y1="278" x2="348.38" y2="297.65" stroke="#000" stroke-width="1.1" />
<path d="M352.4,301.4 L346.7,299.4 L350.0,295.9 Z" fill="#000"/>
<text x="326.5" y="275.2" font-size="8.5" text-anchor="middle" font-weight="bold" >1.2 ps</text>
<text x="356.5" y="311.4" font-size="8.5" text-anchor="middle" font-weight="bold" >81.7 ps</text>
<rect x="508.9" y="5.2" width="167.9" height="134.2" fill="none" stroke="#111" stroke-width="1.1"/>
<line x1="508.9" y1="139.4" x2="508.9" y2="141.6" stroke="#111" stroke-width="1.0" />
<text x="509.4" y="152.9" font-size="11.3" text-anchor="middle" font-weight="bold" >0</text>
<line x1="548.28" y1="139.4" x2="548.28" y2="141.6" stroke="#111" stroke-width="1.0" />
<text x="548.78" y="152.9" font-size="11.3" text-anchor="middle" font-weight="bold" >20</text>
<line x1="587.66" y1="139.4" x2="587.66" y2="141.6" stroke="#111" stroke-width="1.0" />
<text x="588.16" y="152.9" font-size="11.3" text-anchor="middle" font-weight="bold" >40</text>
<line x1="627.04" y1="139.4" x2="627.04" y2="141.6" stroke="#111" stroke-width="1.0" />
<text x="627.54" y="152.9" font-size="11.3" text-anchor="middle" font-weight="bold" >60</text>
<line x1="666.42" y1="139.4" x2="666.42" y2="141.6" stroke="#111" stroke-width="1.0" />
<text x="666.92" y="152.9" font-size="11.3" text-anchor="middle" font-weight="bold" >80</text>
<line x1="528.59" y1="139.4" x2="528.59" y2="141" stroke="#111" stroke-width="1.0" />
<line x1="567.97" y1="139.4" x2="567.97" y2="141" stroke="#111" stroke-width="1.0" />
<line x1="607.35" y1="139.4" x2="607.35" y2="141" stroke="#111" stroke-width="1.0" />
<line x1="646.73" y1="139.4" x2="646.73" y2="141" stroke="#111" stroke-width="1.0" />
<line x1="506.7" y1="5.2" x2="508.9" y2="5.2" stroke="#111" stroke-width="1.0" />
<text x="504.8" y="9.2" font-size="11.3" text-anchor="end" font-weight="bold" >600</text>
<line x1="506.7" y1="34.88" x2="508.9" y2="34.88" stroke="#111" stroke-width="1.0" />
<text x="504.8" y="38.88" font-size="11.3" text-anchor="end" font-weight="bold" >500</text>
<line x1="506.7" y1="64.56" x2="508.9" y2="64.56" stroke="#111" stroke-width="1.0" />
<text x="504.8" y="68.56" font-size="11.3" text-anchor="end" font-weight="bold" >400</text>
<line x1="506.7" y1="94.24" x2="508.9" y2="94.24" stroke="#111" stroke-width="1.0" />
<text x="504.8" y="98.24" font-size="11.3" text-anchor="end" font-weight="bold" >300</text>
<line x1="506.7" y1="123.92" x2="508.9" y2="123.92" stroke="#111" stroke-width="1.0" />
<text x="504.8" y="127.92" font-size="11.3" text-anchor="end" font-weight="bold" >200</text>
<line x1="507.3" y1="20.04" x2="508.9" y2="20.04" stroke="#111" stroke-width="1.0" />
<line x1="507.3" y1="49.72" x2="508.9" y2="49.72" stroke="#111" stroke-width="1.0" />
<line x1="507.3" y1="79.4" x2="508.9" y2="79.4" stroke="#111" stroke-width="1.0" />
<line x1="507.3" y1="109.08" x2="508.9" y2="109.08" stroke="#111" stroke-width="1.0" />
<line x1="507.3" y1="138.76" x2="508.9" y2="138.76" stroke="#111" stroke-width="1.0" />
<text x="591.7" y="168.1" font-size="11.7" text-anchor="middle" font-weight="bold" >Delay time (ps)</text>
<text x="480.6" y="72.6" font-size="11.6" text-anchor="middle" font-weight="bold" transform="rotate(-90 480.6 72.6)">Carrier temperature (K)</text>
<text x="455.8" y="8.8" font-size="15" text-anchor="start" font-weight="bold" >e</text>
<polyline fill="none" stroke="#2f86cc" stroke-width="1.35" points="511.1,20.2 511.6,23.5 512.2,26.7 512.7,29.8 513.3,32.8 513.8,35.6 514.4,38.3 515.0,40.8 515.5,43.3 516.1,45.7 516.6,47.9 517.2,50.1 517.7,52.2 518.3,54.1 518.8,56.0 519.4,57.9 520.0,59.6 520.5,61.3 521.1,62.9 521.6,64.4 522.2,65.8 522.7,67.2 523.3,68.6 523.8,69.9 524.4,71.1 525.0,72.3 525.5,73.4 526.1,74.5 526.6,75.5 527.2,76.5 527.7,77.4 528.3,78.3 528.9,79.2 529.4,80.0 530.0,80.8 530.5,81.6 531.1,82.3 531.6,83.0 532.2,83.7 532.7,84.3 533.3,84.9 533.9,85.5 534.4,86.0 535.0,86.6 535.5,87.1 536.1,87.6 536.6,88.0 537.2,88.5 537.7,88.9 538.3,89.3 538.9,89.7 539.4,90.1 540.0,90.5 540.5,90.8 541.1,91.1 541.6,91.5 542.2,91.8 542.7,92.1 543.3,92.3 543.9,92.6 544.4,92.8 545.0,93.1 545.5,93.3 546.1,93.5 546.6,93.8 547.2,94.0 547.7,94.2 548.3,94.3 548.9,94.5 549.4,94.7 550.0,94.9 550.5,95.0 551.1,95.2 551.6,95.3 552.2,95.5 552.8,95.6 553.3,95.7 553.9,95.8 554.4,96.0 555.0,96.1 555.5,96.2 556.1,96.3 556.6,96.4 557.2,96.5 557.8,96.5 558.3,96.6 558.9,96.7 559.4,96.8 560.0,96.9 560.5,96.9 561.1,97.0 561.6,97.1 562.2,97.1 562.8,97.2 563.3,97.3 563.9,97.3 564.4,97.4 565.0,97.4 565.5,97.5 566.1,97.5 566.6,97.6 567.2,97.6 567.8,97.6 568.3,97.7 568.9,97.7 569.4,97.7 570.0,97.8 570.5,97.8 571.1,97.8 571.6,97.9 572.2,97.9 572.8,97.9 573.3,98.0 573.9,98.0 574.4,98.0 575.0,98.0 575.5,98.1 576.1,98.1 576.7,98.1 577.2,98.1 577.8,98.1 578.3,98.1 578.9,98.2 579.4,98.2 580.0,98.2 580.5,98.2 581.1,98.2 581.7,98.2 582.2,98.3 582.8,98.3 583.3,98.3 583.9,98.3 584.4,98.3 585.0,98.3 585.5,98.3 586.1,98.3 586.7,98.3 587.2,98.3 587.8,98.4 588.3,98.4 588.9,98.4 589.4,98.4 590.0,98.4 590.5,98.4 591.1,98.4 591.7,98.4 592.2,98.4 592.8,98.4 593.3,98.4 593.9,98.4 594.4,98.4 595.0,98.4 595.5,98.4 596.1,98.4 596.7,98.4 597.2,98.5 597.8,98.5 598.3,98.5 598.9,98.5 599.4,98.5 600.0,98.5 600.5,98.5 601.1,98.5 601.7,98.5 602.2,98.5 602.8,98.5 603.3,98.5 603.9,98.5 604.4,98.5 605.0,98.5 605.6,98.5 606.1,98.5 606.7,98.5 607.2,98.5 607.8,98.5 608.3,98.5 608.9,98.5 609.4,98.5 610.0,98.5 610.6,98.5 611.1,98.5 611.7,98.5 612.2,98.5 612.8,98.5 613.3,98.5 613.9,98.5 614.4,98.5 615.0,98.5 615.6,98.5 616.1,98.5 616.7,98.5 617.2,98.5 617.8,98.5 618.3,98.5 618.9,98.5 619.4,98.5 620.0,98.5 620.6,98.5 621.1,98.5 621.7,98.5 622.2,98.5 622.8,98.5 623.3,98.5 623.9,98.5 624.4,98.5 625.0,98.5 625.6,98.5 626.1,98.5 626.7,98.5 627.2,98.5 627.8,98.5 628.3,98.5 628.9,98.5 629.5,98.5 630.0,98.5 630.6,98.5 631.1,98.5 631.7,98.5 632.2,98.5 632.8,98.5 633.3,98.5 633.9,98.5 634.5,98.5 635.0,98.5 635.6,98.5 636.1,98.5 636.7,98.5 637.2,98.5 637.8,98.5 638.3,98.5 638.9,98.5 639.5,98.5 640.0,98.5 640.6,98.5 641.1,98.5 641.7,98.5 642.2,98.5 642.8,98.5 643.3,98.5 643.9,98.5 644.5,98.5 645.0,98.5 645.6,98.5 646.1,98.5 646.7,98.5 647.2,98.5 647.8,98.5 648.3,98.5 648.9,98.5 649.5,98.5 650.0,98.5 650.6,98.5 651.1,98.5 651.7,98.5 652.2,98.5 652.8,98.5 653.4,98.5 653.9,98.5 654.5,98.5 655.0,98.5 655.6,98.5 656.1,98.5 656.7,98.5 657.2,98.5 657.8,98.5 658.4,98.5 658.9,98.5 659.5,98.5 660.0,98.5 660.6,98.5 661.1,98.5 661.7,98.5 662.2,98.5 662.8,98.5 663.4,98.5 663.9,98.5 664.5,98.5 665.0,98.5 665.6,98.5 666.1,98.5 666.7,98.5 667.2,98.5 667.8,98.5 668.4,98.5 668.9,98.5 669.5,98.5 670.0,98.5 670.6,98.5 671.1,98.5 671.7,98.5 672.2,98.5 672.8,98.5 673.4,98.5 673.9,98.5 674.5,98.5 675.0,98.5 675.6,98.5 676.1,98.5 676.7,98.5 677.2,98.5"/>
<polyline fill="none" stroke="#e4262f" stroke-width="1.35" points="511.1,72.5 511.6,74.5 512.2,76.4 512.7,78.2 513.3,79.9 513.8,81.6 514.4,83.2 515.0,84.7 515.5,86.2 516.1,87.6 516.6,88.9 517.2,90.2 517.7,91.4 518.3,92.5 518.8,93.6 519.4,94.7 520.0,95.7 520.5,96.7 521.1,97.6 521.6,98.5 522.2,99.4 522.7,100.2 523.3,100.9 523.8,101.7 524.4,102.4 525.0,103.1 525.5,103.7 526.1,104.3 526.6,104.9 527.2,105.5 527.7,106.0 528.3,106.6 528.9,107.0 529.4,107.5 530.0,108.0 530.5,108.4 531.1,108.8 531.6,109.2 532.2,109.6 532.7,110.0 533.3,110.3 533.9,110.6 534.4,110.9 535.0,111.3 535.5,111.5 536.1,111.8 536.6,112.1 537.2,112.3 537.7,112.6 538.3,112.8 538.9,113.0 539.4,113.2 540.0,113.4 540.5,113.6 541.1,113.8 541.6,114.0 542.2,114.2 542.7,114.3 543.3,114.5 543.9,114.6 544.4,114.8 545.0,114.9 545.5,115.0 546.1,115.2 546.6,115.3 547.2,115.4 547.7,115.5 548.3,115.6 548.9,115.7 549.4,115.8 550.0,115.9 550.5,116.0 551.1,116.0 551.6,116.1 552.2,116.2 552.8,116.3 553.3,116.3 553.9,116.4 554.4,116.5 555.0,116.5 555.5,116.6 556.1,116.6 556.6,116.7 557.2,116.7 557.8,116.8 558.3,116.8 558.9,116.9 559.4,116.9 560.0,117.0 560.5,117.0 561.1,117.0 561.6,117.1 562.2,117.1 562.8,117.1 563.3,117.2 563.9,117.2 564.4,117.2 565.0,117.3 565.5,117.3 566.1,117.3 566.6,117.3 567.2,117.3 567.8,117.4 568.3,117.4 568.9,117.4 569.4,117.4 570.0,117.4 570.5,117.5 571.1,117.5 571.6,117.5 572.2,117.5 572.8,117.5 573.3,117.5 573.9,117.6 574.4,117.6 575.0,117.6 575.5,117.6 576.1,117.6 576.7,117.6 577.2,117.6 577.8,117.6 578.3,117.6 578.9,117.6 579.4,117.7 580.0,117.7 580.5,117.7 581.1,117.7 581.7,117.7 582.2,117.7 582.8,117.7 583.3,117.7 583.9,117.7 584.4,117.7 585.0,117.7 585.5,117.7 586.1,117.7 586.7,117.7 587.2,117.7 587.8,117.7 588.3,117.7 588.9,117.8 589.4,117.8 590.0,117.8 590.5,117.8 591.1,117.8 591.7,117.8 592.2,117.8 592.8,117.8 593.3,117.8 593.9,117.8 594.4,117.8 595.0,117.8 595.5,117.8 596.1,117.8 596.7,117.8 597.2,117.8 597.8,117.8 598.3,117.8 598.9,117.8 599.4,117.8 600.0,117.8 600.5,117.8 601.1,117.8 601.7,117.8 602.2,117.8 602.8,117.8 603.3,117.8 603.9,117.8 604.4,117.8 605.0,117.8 605.6,117.8 606.1,117.8 606.7,117.8 607.2,117.8 607.8,117.8 608.3,117.8 608.9,117.8 609.4,117.8 610.0,117.8 610.6,117.8 611.1,117.8 611.7,117.8 612.2,117.8 612.8,117.8 613.3,117.8 613.9,117.8 614.4,117.8 615.0,117.8 615.6,117.8 616.1,117.8 616.7,117.8 617.2,117.8 617.8,117.8 618.3,117.8 618.9,117.8 619.4,117.8 620.0,117.8 620.6,117.8 621.1,117.8 621.7,117.8 622.2,117.8 622.8,117.8 623.3,117.8 623.9,117.8 624.4,117.8 625.0,117.8 625.6,117.8 626.1,117.8 626.7,117.8 627.2,117.8 627.8,117.8 628.3,117.8 628.9,117.8 629.5,117.8 630.0,117.8 630.6,117.8 631.1,117.8 631.7,117.8 632.2,117.8 632.8,117.8 633.3,117.8 633.9,117.8 634.5,117.8 635.0,117.8 635.6,117.8 636.1,117.8 636.7,117.8 637.2,117.8 637.8,117.8 638.3,117.8 638.9,117.8 639.5,117.8 640.0,117.8 640.6,117.8 641.1,117.8 641.7,117.8 642.2,117.8 642.8,117.8 643.3,117.8 643.9,117.8 644.5,117.8 645.0,117.8 645.6,117.8 646.1,117.8 646.7,117.8 647.2,117.8 647.8,117.8 648.3,117.8 648.9,117.8 649.5,117.8 650.0,117.8 650.6,117.8 651.1,117.8 651.7,117.8 652.2,117.8 652.8,117.8 653.4,117.8 653.9,117.8 654.5,117.8 655.0,117.8 655.6,117.8 656.1,117.8 656.7,117.8 657.2,117.8 657.8,117.8 658.4,117.8 658.9,117.8 659.5,117.8 660.0,117.8 660.6,117.8 661.1,117.8 661.7,117.8 662.2,117.8 662.8,117.8 663.4,117.8 663.9,117.8 664.5,117.8 665.0,117.8 665.6,117.8 666.1,117.8 666.7,117.8 667.2,117.8 667.8,117.8 668.4,117.8 668.9,117.8 669.5,117.8 670.0,117.8 670.6,117.8 671.1,117.8 671.7,117.8 672.2,117.8 672.8,117.8 673.4,117.8 673.9,117.8 674.5,117.8 675.0,117.8 675.6,117.8 676.1,117.8 676.7,117.8 677.2,117.8"/>
<rect x="509.4" y="13.2" width="3.9" height="3.9" fill="#2f86cc"/>
<rect x="510.3" y="26.1" width="3.9" height="3.9" fill="#2f86cc"/>
<rect x="511.1" y="35.8" width="3.9" height="3.9" fill="#2f86cc"/>
<rect x="513.0" y="44.5" width="3.9" height="3.9" fill="#2f86cc"/>
<rect x="517.1" y="53.9" width="3.9" height="3.9" fill="#2f86cc"/>
<rect x="521.8" y="60.1" width="3.9" height="3.9" fill="#2f86cc"/>
<rect x="528.2" y="80.5" width="3.9" height="3.9" fill="#2f86cc"/>
<rect x="538.0" y="87.8" width="3.9" height="3.9" fill="#2f86cc"/>
<rect x="543.6" y="92.1" width="3.9" height="3.9" fill="#2f86cc"/>
<rect x="547.9" y="93.5" width="3.9" height="3.9" fill="#2f86cc"/>
<rect x="586.6" y="94.8" width="3.9" height="3.9" fill="#2f86cc"/>
<rect x="629.9" y="95.6" width="3.9" height="3.9" fill="#2f86cc"/>
<rect x="668.5" y="96.1" width="3.9" height="3.9" fill="#2f86cc"/>
<circle cx="511.0" cy="70.6" r="1.8" fill="#f08890" stroke="#e4262f" stroke-width="1.15"/>
<circle cx="512.2" cy="74.0" r="1.8" fill="#f08890" stroke="#e4262f" stroke-width="1.15"/>
<circle cx="513.2" cy="81.3" r="1.8" fill="#f08890" stroke="#e4262f" stroke-width="1.15"/>
<circle cx="515.1" cy="86.1" r="1.8" fill="#f08890" stroke="#e4262f" stroke-width="1.15"/>
<circle cx="518.9" cy="90.0" r="1.8" fill="#f08890" stroke="#e4262f" stroke-width="1.15"/>
<circle cx="523.4" cy="100.3" r="1.8" fill="#f08890" stroke="#e4262f" stroke-width="1.15"/>
<circle cx="529.4" cy="109.4" r="1.8" fill="#f08890" stroke="#e4262f" stroke-width="1.15"/>
<circle cx="539.4" cy="110.7" r="1.8" fill="#f08890" stroke="#e4262f" stroke-width="1.15"/>
<circle cx="545.2" cy="114.4" r="1.8" fill="#f08890" stroke="#e4262f" stroke-width="1.15"/>
<circle cx="549.7" cy="113.4" r="1.8" fill="#f08890" stroke="#e4262f" stroke-width="1.15"/>
<circle cx="588.6" cy="114.7" r="1.8" fill="#f08890" stroke="#e4262f" stroke-width="1.15"/>
<circle cx="631.9" cy="119.7" r="1.8" fill="#f08890" stroke="#e4262f" stroke-width="1.15"/>
<circle cx="670.0" cy="117.8" r="1.8" fill="#f08890" stroke="#e4262f" stroke-width="1.15"/>
<rect x="590.0" y="16.6" width="3.6" height="3.6" fill="#2f86cc"/>
<circle cx="591.6" cy="34.4" r="1.8" fill="#f08890" stroke="#e4262f" stroke-width="1.15"/>
<text x="599.8" y="22.3" font-size="10" font-weight="bold">PVK/C<tspan font-size="7.2" dy="2">60</tspan></text>
<text x="599.8" y="37.8" font-size="10" font-weight="bold">PVK+TPPC/C<tspan font-size="7.2" dy="2">60</tspan></text>
<text x="539.6" y="82.9" font-size="10" text-anchor="start" font-weight="bold" >&#964;= 6.46 ps</text>
<text x="524.7" y="129" font-size="10" text-anchor="start" font-weight="bold" >&#964;= 6.29 ps</text>
<rect x="508.7" y="186.2" width="167.8" height="134.4" fill="none" stroke="#111" stroke-width="1.1"/>
<line x1="508.9" y1="320.6" x2="508.9" y2="322.8" stroke="#111" stroke-width="1.0" />
<text x="510.5" y="335.9" font-size="11.3" text-anchor="middle" font-weight="bold" >200</text>
<line x1="550.85" y1="320.6" x2="550.85" y2="322.8" stroke="#111" stroke-width="1.0" />
<text x="552.45" y="335.9" font-size="11.3" text-anchor="middle" font-weight="bold" >300</text>
<line x1="592.8" y1="320.6" x2="592.8" y2="322.8" stroke="#111" stroke-width="1.0" />
<text x="594.4" y="335.9" font-size="11.3" text-anchor="middle" font-weight="bold" >400</text>
<line x1="634.75" y1="320.6" x2="634.75" y2="322.8" stroke="#111" stroke-width="1.0" />
<text x="636.35" y="335.9" font-size="11.3" text-anchor="middle" font-weight="bold" >500</text>
<line x1="676.7" y1="320.6" x2="676.7" y2="322.8" stroke="#111" stroke-width="1.0" />
<text x="678.3" y="335.9" font-size="11.3" text-anchor="middle" font-weight="bold" >600</text>
<line x1="529.88" y1="320.6" x2="529.88" y2="322.2" stroke="#111" stroke-width="1.0" />
<line x1="571.82" y1="320.6" x2="571.82" y2="322.2" stroke="#111" stroke-width="1.0" />
<line x1="613.77" y1="320.6" x2="613.77" y2="322.2" stroke="#111" stroke-width="1.0" />
<line x1="655.72" y1="320.6" x2="655.72" y2="322.2" stroke="#111" stroke-width="1.0" />
<line x1="506.5" y1="186.2" x2="508.7" y2="186.2" stroke="#111" stroke-width="1.0" />
<text x="503.9" y="190.1" font-size="11" font-weight="bold" text-anchor="end">10<tspan font-size="7.7" dy="-4.6">&#8722;1</tspan></text>
<line x1="506.5" y1="219.78" x2="508.7" y2="219.78" stroke="#111" stroke-width="1.0" />
<text x="503.9" y="223.7" font-size="11" font-weight="bold" text-anchor="end">10<tspan font-size="7.7" dy="-4.6">&#8722;3</tspan></text>
<line x1="506.5" y1="253.36" x2="508.7" y2="253.36" stroke="#111" stroke-width="1.0" />
<text x="503.9" y="257.3" font-size="11" font-weight="bold" text-anchor="end">10<tspan font-size="7.7" dy="-4.6">&#8722;5</tspan></text>
<line x1="506.5" y1="286.94" x2="508.7" y2="286.94" stroke="#111" stroke-width="1.0" />
<text x="503.9" y="290.8" font-size="11" font-weight="bold" text-anchor="end">10<tspan font-size="7.7" dy="-4.6">&#8722;7</tspan></text>
<line x1="506.5" y1="320.52" x2="508.7" y2="320.52" stroke="#111" stroke-width="1.0" />
<text x="503.9" y="324.4" font-size="11" font-weight="bold" text-anchor="end">10<tspan font-size="7.7" dy="-4.6">&#8722;9</tspan></text>
<line x1="507.1" y1="202.99" x2="508.7" y2="202.99" stroke="#111" stroke-width="1.0" />
<line x1="507.1" y1="236.57" x2="508.7" y2="236.57" stroke="#111" stroke-width="1.0" />
<line x1="507.1" y1="270.15" x2="508.7" y2="270.15" stroke="#111" stroke-width="1.0" />
<line x1="507.1" y1="303.73" x2="508.7" y2="303.73" stroke="#111" stroke-width="1.0" />
<line x1="507.2" y1="315.47" x2="508.7" y2="315.47" stroke="#222" stroke-width="0.7" />
<line x1="507.2" y1="312.51" x2="508.7" y2="312.51" stroke="#222" stroke-width="0.7" />
<line x1="507.2" y1="310.41" x2="508.7" y2="310.41" stroke="#222" stroke-width="0.7" />
<line x1="507.2" y1="308.78" x2="508.7" y2="308.78" stroke="#222" stroke-width="0.7" />
<line x1="507.2" y1="307.45" x2="508.7" y2="307.45" stroke="#222" stroke-width="0.7" />
<line x1="507.2" y1="306.33" x2="508.7" y2="306.33" stroke="#222" stroke-width="0.7" />
<line x1="507.2" y1="305.36" x2="508.7" y2="305.36" stroke="#222" stroke-width="0.7" />
<line x1="507.2" y1="304.5" x2="508.7" y2="304.5" stroke="#222" stroke-width="0.7" />
<line x1="507.2" y1="298.68" x2="508.7" y2="298.68" stroke="#222" stroke-width="0.7" />
<line x1="507.2" y1="295.72" x2="508.7" y2="295.72" stroke="#222" stroke-width="0.7" />
<line x1="507.2" y1="293.62" x2="508.7" y2="293.62" stroke="#222" stroke-width="0.7" />
<line x1="507.2" y1="291.99" x2="508.7" y2="291.99" stroke="#222" stroke-width="0.7" />
<line x1="507.2" y1="290.66" x2="508.7" y2="290.66" stroke="#222" stroke-width="0.7" />
<line x1="507.2" y1="289.54" x2="508.7" y2="289.54" stroke="#222" stroke-width="0.7" />
<line x1="507.2" y1="288.57" x2="508.7" y2="288.57" stroke="#222" stroke-width="0.7" />
<line x1="507.2" y1="287.71" x2="508.7" y2="287.71" stroke="#222" stroke-width="0.7" />
<line x1="507.2" y1="281.89" x2="508.7" y2="281.89" stroke="#222" stroke-width="0.7" />
<line x1="507.2" y1="278.93" x2="508.7" y2="278.93" stroke="#222" stroke-width="0.7" />
<line x1="507.2" y1="276.83" x2="508.7" y2="276.83" stroke="#222" stroke-width="0.7" />
<line x1="507.2" y1="275.2" x2="508.7" y2="275.2" stroke="#222" stroke-width="0.7" />
<line x1="507.2" y1="273.87" x2="508.7" y2="273.87" stroke="#222" stroke-width="0.7" />
<line x1="507.2" y1="272.75" x2="508.7" y2="272.75" stroke="#222" stroke-width="0.7" />
<line x1="507.2" y1="271.78" x2="508.7" y2="271.78" stroke="#222" stroke-width="0.7" />
<line x1="507.2" y1="270.92" x2="508.7" y2="270.92" stroke="#222" stroke-width="0.7" />
<line x1="507.2" y1="265.1" x2="508.7" y2="265.1" stroke="#222" stroke-width="0.7" />
<line x1="507.2" y1="262.14" x2="508.7" y2="262.14" stroke="#222" stroke-width="0.7" />
<line x1="507.2" y1="260.04" x2="508.7" y2="260.04" stroke="#222" stroke-width="0.7" />
<line x1="507.2" y1="258.41" x2="508.7" y2="258.41" stroke="#222" stroke-width="0.7" />
<line x1="507.2" y1="257.08" x2="508.7" y2="257.08" stroke="#222" stroke-width="0.7" />
<line x1="507.2" y1="255.96" x2="508.7" y2="255.96" stroke="#222" stroke-width="0.7" />
<line x1="507.2" y1="254.99" x2="508.7" y2="254.99" stroke="#222" stroke-width="0.7" />
<line x1="507.2" y1="254.13" x2="508.7" y2="254.13" stroke="#222" stroke-width="0.7" />
<line x1="507.2" y1="248.31" x2="508.7" y2="248.31" stroke="#222" stroke-width="0.7" />
<line x1="507.2" y1="245.35" x2="508.7" y2="245.35" stroke="#222" stroke-width="0.7" />
<line x1="507.2" y1="243.25" x2="508.7" y2="243.25" stroke="#222" stroke-width="0.7" />
<line x1="507.2" y1="241.62" x2="508.7" y2="241.62" stroke="#222" stroke-width="0.7" />
<line x1="507.2" y1="240.29" x2="508.7" y2="240.29" stroke="#222" stroke-width="0.7" />
<line x1="507.2" y1="239.17" x2="508.7" y2="239.17" stroke="#222" stroke-width="0.7" />
<line x1="507.2" y1="238.2" x2="508.7" y2="238.2" stroke="#222" stroke-width="0.7" />
<line x1="507.2" y1="237.34" x2="508.7" y2="237.34" stroke="#222" stroke-width="0.7" />
<line x1="507.2" y1="231.52" x2="508.7" y2="231.52" stroke="#222" stroke-width="0.7" />
<line x1="507.2" y1="228.56" x2="508.7" y2="228.56" stroke="#222" stroke-width="0.7" />
<line x1="507.2" y1="226.46" x2="508.7" y2="226.46" stroke="#222" stroke-width="0.7" />
<line x1="507.2" y1="224.83" x2="508.7" y2="224.83" stroke="#222" stroke-width="0.7" />
<line x1="507.2" y1="223.5" x2="508.7" y2="223.5" stroke="#222" stroke-width="0.7" />
<line x1="507.2" y1="222.38" x2="508.7" y2="222.38" stroke="#222" stroke-width="0.7" />
<line x1="507.2" y1="221.41" x2="508.7" y2="221.41" stroke="#222" stroke-width="0.7" />
<line x1="507.2" y1="220.55" x2="508.7" y2="220.55" stroke="#222" stroke-width="0.7" />
<line x1="507.2" y1="214.73" x2="508.7" y2="214.73" stroke="#222" stroke-width="0.7" />
<line x1="507.2" y1="211.77" x2="508.7" y2="211.77" stroke="#222" stroke-width="0.7" />
<line x1="507.2" y1="209.67" x2="508.7" y2="209.67" stroke="#222" stroke-width="0.7" />
<line x1="507.2" y1="208.04" x2="508.7" y2="208.04" stroke="#222" stroke-width="0.7" />
<line x1="507.2" y1="206.71" x2="508.7" y2="206.71" stroke="#222" stroke-width="0.7" />
<line x1="507.2" y1="205.59" x2="508.7" y2="205.59" stroke="#222" stroke-width="0.7" />
<line x1="507.2" y1="204.62" x2="508.7" y2="204.62" stroke="#222" stroke-width="0.7" />
<line x1="507.2" y1="203.76" x2="508.7" y2="203.76" stroke="#222" stroke-width="0.7" />
<line x1="507.2" y1="197.94" x2="508.7" y2="197.94" stroke="#222" stroke-width="0.7" />
<line x1="507.2" y1="194.98" x2="508.7" y2="194.98" stroke="#222" stroke-width="0.7" />
<line x1="507.2" y1="192.88" x2="508.7" y2="192.88" stroke="#222" stroke-width="0.7" />
<line x1="507.2" y1="191.25" x2="508.7" y2="191.25" stroke="#222" stroke-width="0.7" />
<line x1="507.2" y1="189.92" x2="508.7" y2="189.92" stroke="#222" stroke-width="0.7" />
<line x1="507.2" y1="188.8" x2="508.7" y2="188.8" stroke="#222" stroke-width="0.7" />
<line x1="507.2" y1="187.83" x2="508.7" y2="187.83" stroke="#222" stroke-width="0.7" />
<line x1="507.2" y1="186.97" x2="508.7" y2="186.97" stroke="#222" stroke-width="0.7" />
<text x="594.25" y="349" font-size="11.7" text-anchor="middle" font-weight="bold" >Carrier temperature (K)</text>
<text x="477.4" y="255.75" font-size="11.6" font-weight="bold" text-anchor="middle" transform="rotate(-90 477.4 255.75)">Energy loss rate (eV ps<tspan font-size="7.5" dy="-4">-1</tspan><tspan dy="4">)</tspan></text>
<text x="455.8" y="189.3" font-size="15" text-anchor="start" font-weight="bold" >f</text>
<polyline fill="none" stroke="#2f86cc" stroke-width="1.1" points="546.0,299.0 546.6,276.8 547.5,251.7 549.6,229.9 551.8,227.4 557.9,223.9 567.9,218.0 596.5,214.7 605.1,212.3 618.0,209.6 630.3,208.6 643.9,207.9 661.8,207.7"/>
<polyline fill="none" stroke="#e4262f" stroke-width="1.1" points="518.4,305.0 515.6,282.0 522.9,256.2 524.6,233.7 523.1,231.0 528.5,227.8 530.2,221.8 542.8,218.2 557.5,215.9 562.7,213.4 569.7,212.5 580.1,211.9 583.7,211.6"/>
<rect x="544.0" y="297.1" width="3.9" height="3.9" fill="#2f86cc"/>
<rect x="544.6" y="274.9" width="3.9" height="3.9" fill="#2f86cc"/>
<rect x="545.5" y="249.8" width="3.9" height="3.9" fill="#2f86cc"/>
<rect x="547.6" y="228.0" width="3.9" height="3.9" fill="#2f86cc"/>
<rect x="549.8" y="225.5" width="3.9" height="3.9" fill="#2f86cc"/>
<rect x="555.9" y="222.0" width="3.9" height="3.9" fill="#2f86cc"/>
<rect x="565.9" y="216.1" width="3.9" height="3.9" fill="#2f86cc"/>
<rect x="594.5" y="212.8" width="3.9" height="3.9" fill="#2f86cc"/>
<rect x="603.1" y="210.4" width="3.9" height="3.9" fill="#2f86cc"/>
<rect x="616.0" y="207.7" width="3.9" height="3.9" fill="#2f86cc"/>
<rect x="628.3" y="206.7" width="3.9" height="3.9" fill="#2f86cc"/>
<rect x="641.9" y="206.0" width="3.9" height="3.9" fill="#2f86cc"/>
<rect x="659.8" y="205.8" width="3.9" height="3.9" fill="#2f86cc"/>
<circle cx="518.4" cy="305.0" r="1.8" fill="#f08890" stroke="#e4262f" stroke-width="1.15"/>
<circle cx="515.6" cy="282.0" r="1.8" fill="#f08890" stroke="#e4262f" stroke-width="1.15"/>
<circle cx="522.9" cy="256.2" r="1.8" fill="#f08890" stroke="#e4262f" stroke-width="1.15"/>
<circle cx="524.6" cy="233.7" r="1.8" fill="#f08890" stroke="#e4262f" stroke-width="1.15"/>
<circle cx="523.1" cy="231.0" r="1.8" fill="#f08890" stroke="#e4262f" stroke-width="1.15"/>
<circle cx="528.5" cy="227.8" r="1.8" fill="#f08890" stroke="#e4262f" stroke-width="1.15"/>
<circle cx="530.2" cy="221.8" r="1.8" fill="#f08890" stroke="#e4262f" stroke-width="1.15"/>
<circle cx="542.8" cy="218.2" r="1.8" fill="#f08890" stroke="#e4262f" stroke-width="1.15"/>
<circle cx="557.5" cy="215.9" r="1.8" fill="#f08890" stroke="#e4262f" stroke-width="1.15"/>
<circle cx="562.7" cy="213.4" r="1.8" fill="#f08890" stroke="#e4262f" stroke-width="1.15"/>
<circle cx="569.7" cy="212.5" r="1.8" fill="#f08890" stroke="#e4262f" stroke-width="1.15"/>
<circle cx="580.1" cy="211.9" r="1.8" fill="#f08890" stroke="#e4262f" stroke-width="1.15"/>
<circle cx="583.7" cy="211.6" r="1.8" fill="#f08890" stroke="#e4262f" stroke-width="1.15"/>
<line x1="580" y1="276" x2="594.3" y2="276" stroke="#2f86cc" stroke-width="1.1" />
<rect x="585.2" y="274.2" width="3.6" height="3.6" fill="#2f86cc"/>
<line x1="580" y1="292.4" x2="594.3" y2="292.4" stroke="#e4262f" stroke-width="1.1" />
<circle cx="587.1" cy="292.4" r="1.8" fill="#f08890" stroke="#e4262f" stroke-width="1.15"/>
<text x="596.9" y="279.3" font-size="10" font-weight="bold">PVK/C<tspan font-size="7.2" dy="2">60</tspan></text>
<text x="596.9" y="295.7" font-size="10" font-weight="bold">PVK+TPPC/C<tspan font-size="7.2" dy="2">60</tspan></text>
</svg></body></html>
